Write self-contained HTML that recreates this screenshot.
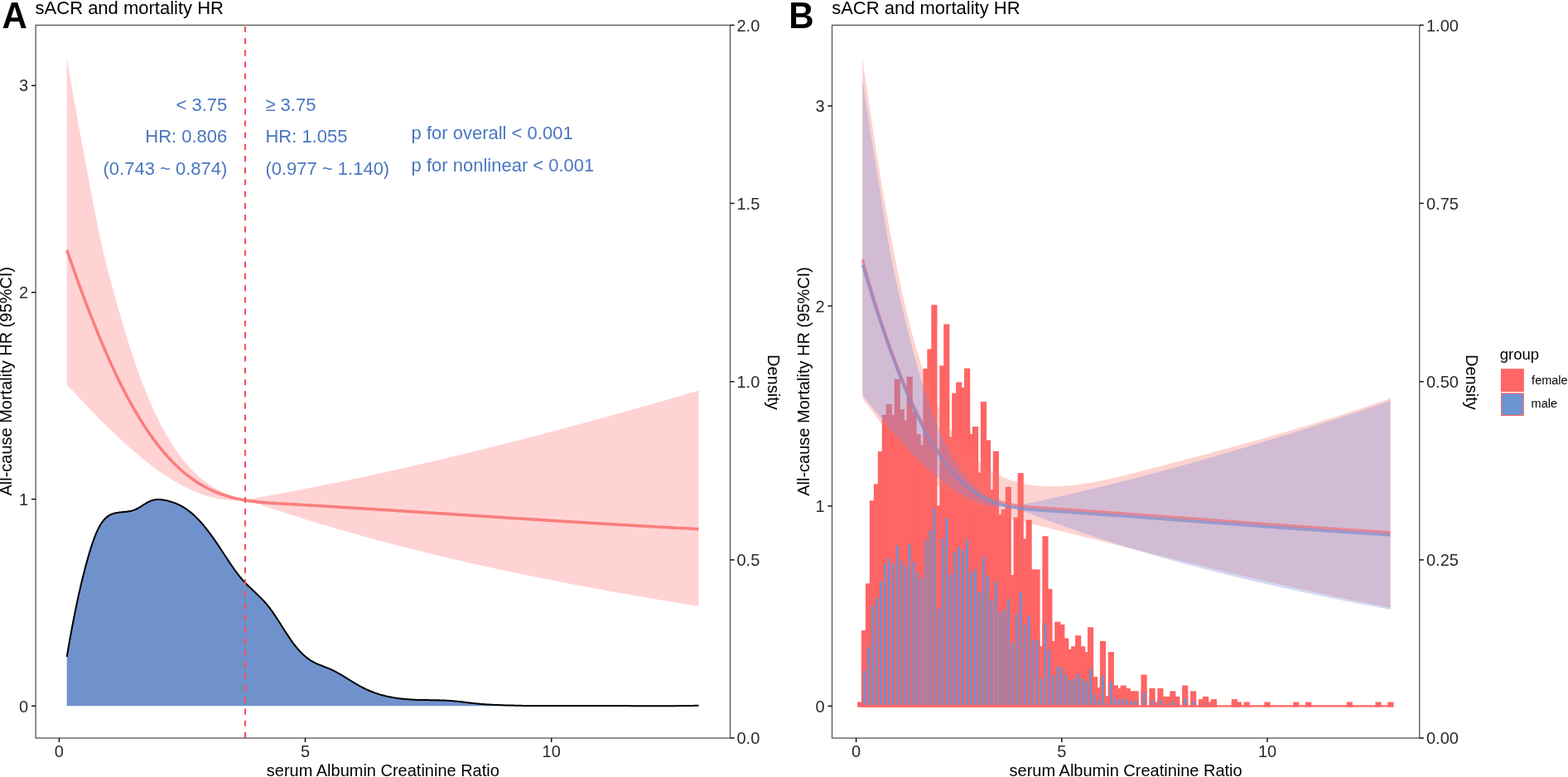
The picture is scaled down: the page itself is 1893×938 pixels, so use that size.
<!DOCTYPE html>
<html><head><meta charset="utf-8"><title>sACR and mortality HR</title>
<style>
html,body{margin:0;padding:0;background:#fff;}
body{width:1893px;height:938px;overflow:hidden;}
svg{display:block;}
text{font-family:"Liberation Sans", Arial, Helvetica, sans-serif;}
</style></head><body>
<svg width="1893" height="938" viewBox="0 0 1893 938">
<rect x="0" y="0" width="1893" height="938" fill="#ffffff"/>

<polygon points="80.7,792.8 81.7,786.9 82.7,781.1 83.7,775.4 84.7,769.8 85.7,764.4 86.7,759.0 87.7,753.7 88.7,748.5 89.7,743.4 90.7,738.5 91.7,733.6 92.7,728.8 93.7,724.1 94.7,719.5 95.7,715.0 96.7,710.6 97.7,706.3 98.7,702.1 99.7,698.0 100.7,693.9 101.7,690.0 102.7,686.1 103.7,682.3 104.7,678.7 105.7,675.1 106.7,671.6 107.7,668.1 108.7,664.8 109.7,661.6 110.7,658.5 111.7,655.5 112.7,652.6 113.7,649.9 114.7,647.3 115.7,644.8 116.7,642.4 117.7,640.2 118.7,638.1 119.7,636.2 120.7,634.4 121.7,632.7 122.7,631.2 123.7,629.8 124.7,628.5 125.7,627.3 126.7,626.2 127.7,625.3 128.7,624.4 129.7,623.6 130.7,622.9 131.7,622.3 132.7,621.7 133.7,621.2 134.7,620.8 135.7,620.4 136.7,620.1 137.7,619.8 138.7,619.5 139.7,619.3 140.7,619.1 141.7,618.9 142.7,618.8 143.7,618.6 144.7,618.5 145.7,618.4 146.7,618.3 147.7,618.2 148.7,618.1 149.7,618.0 150.7,617.9 151.7,617.8 152.7,617.7 153.7,617.6 154.7,617.4 155.7,617.3 156.7,617.1 157.7,616.9 158.7,616.7 159.7,616.4 160.7,616.1 161.7,615.8 162.7,615.4 163.7,615.0 164.7,614.5 165.7,614.0 166.7,613.5 167.7,612.9 168.7,612.3 169.7,611.7 170.7,611.0 171.7,610.4 172.7,609.8 173.7,609.1 174.7,608.5 175.7,607.9 176.7,607.3 177.7,606.7 178.7,606.1 179.7,605.6 180.7,605.2 181.7,604.8 182.7,604.4 183.7,604.1 184.7,603.8 185.7,603.6 186.7,603.4 187.7,603.2 188.7,603.1 189.7,603.0 190.7,603.0 191.7,603.0 192.7,603.0 193.7,603.1 194.7,603.2 195.7,603.3 196.7,603.4 197.7,603.6 198.7,603.7 199.7,603.9 200.7,604.1 201.7,604.4 202.7,604.6 203.7,604.9 204.7,605.2 205.7,605.4 206.7,605.7 207.7,606.1 208.7,606.4 209.7,606.7 210.7,607.1 211.7,607.5 212.7,607.9 213.7,608.3 214.7,608.8 215.7,609.2 216.7,609.7 217.7,610.2 218.7,610.7 219.7,611.3 220.7,611.8 221.7,612.4 222.7,613.0 223.7,613.7 224.7,614.4 225.7,615.0 226.7,615.8 227.7,616.5 228.7,617.3 229.7,618.1 230.7,618.9 231.7,619.7 232.7,620.6 233.7,621.5 234.7,622.4 235.7,623.4 236.7,624.4 237.7,625.4 238.7,626.4 239.7,627.4 240.7,628.5 241.7,629.6 242.7,630.7 243.7,631.9 244.7,633.0 245.7,634.2 246.7,635.4 247.7,636.6 248.7,637.8 249.7,639.1 250.7,640.4 251.7,641.7 252.7,643.0 253.7,644.3 254.7,645.7 255.7,647.1 256.7,648.5 257.7,649.9 258.7,651.3 259.7,652.7 260.7,654.2 261.7,655.6 262.7,657.1 263.7,658.6 264.7,660.1 265.7,661.6 266.7,663.2 267.7,664.7 268.7,666.2 269.7,667.7 270.7,669.3 271.7,670.8 272.7,672.3 273.7,673.8 274.7,675.4 275.7,676.9 276.7,678.4 277.7,679.9 278.7,681.3 279.7,682.8 280.7,684.2 281.7,685.7 282.7,687.1 283.7,688.5 284.7,689.8 285.7,691.2 286.7,692.5 287.7,693.8 288.7,695.1 289.7,696.3 290.7,697.5 291.7,698.7 292.7,699.8 293.7,701.0 294.7,702.0 295.7,703.1 296.7,704.2 297.7,705.2 298.7,706.2 299.7,707.2 300.7,708.2 301.7,709.1 302.7,710.1 303.7,711.0 304.7,712.0 305.7,712.9 306.7,713.9 307.7,714.8 308.7,715.7 309.7,716.7 310.7,717.6 311.7,718.6 312.7,719.6 313.7,720.6 314.7,721.6 315.7,722.6 316.7,723.6 317.7,724.7 318.7,725.7 319.7,726.8 320.7,728.0 321.7,729.1 322.7,730.3 323.7,731.6 324.7,732.8 325.7,734.1 326.7,735.5 327.7,736.8 328.7,738.2 329.7,739.7 330.7,741.1 331.7,742.6 332.7,744.1 333.7,745.6 334.7,747.1 335.7,748.7 336.7,750.2 337.7,751.8 338.7,753.4 339.7,755.0 340.7,756.5 341.7,758.1 342.7,759.7 343.7,761.3 344.7,762.8 345.7,764.4 346.7,765.9 347.7,767.4 348.7,768.9 349.7,770.4 350.7,771.9 351.7,773.3 352.7,774.7 353.7,776.1 354.7,777.4 355.7,778.7 356.7,780.0 357.7,781.2 358.7,782.4 359.7,783.6 360.7,784.7 361.7,785.8 362.7,786.9 363.7,787.9 364.7,788.9 365.7,789.9 366.7,790.8 367.7,791.7 368.7,792.5 369.7,793.4 370.7,794.1 371.7,794.9 372.7,795.6 373.7,796.3 374.7,797.0 375.7,797.6 376.7,798.2 377.7,798.8 378.7,799.4 379.7,799.9 380.7,800.4 381.7,800.9 382.7,801.3 383.7,801.8 384.7,802.2 385.7,802.6 386.7,803.0 387.7,803.4 388.7,803.8 389.7,804.2 390.7,804.6 391.7,805.0 392.7,805.4 393.7,805.7 394.7,806.1 395.7,806.5 396.7,806.9 397.7,807.4 398.7,807.8 399.7,808.2 400.7,808.7 401.7,809.1 402.7,809.6 403.7,810.1 404.7,810.6 405.7,811.2 406.7,811.7 407.7,812.3 408.7,812.8 409.7,813.4 410.7,814.0 411.7,814.5 412.7,815.1 413.7,815.7 414.7,816.3 415.7,816.9 416.7,817.6 417.7,818.2 418.7,818.8 419.7,819.4 420.7,820.0 421.7,820.6 422.7,821.3 423.7,821.9 424.7,822.5 425.7,823.1 426.7,823.7 427.7,824.3 428.7,824.9 429.7,825.5 430.7,826.1 431.7,826.7 432.7,827.3 433.7,827.8 434.7,828.4 435.7,828.9 436.7,829.4 437.7,830.0 438.7,830.5 439.7,831.0 440.7,831.4 441.7,831.9 442.7,832.4 443.7,832.8 444.7,833.3 445.7,833.7 446.7,834.1 447.7,834.5 448.7,834.9 449.7,835.3 450.7,835.7 451.7,836.1 452.7,836.4 453.7,836.8 454.7,837.1 455.7,837.4 456.7,837.7 457.7,838.1 458.7,838.4 459.7,838.7 460.7,838.9 461.7,839.2 462.7,839.5 463.7,839.7 464.7,840.0 465.7,840.2 466.7,840.5 467.7,840.7 468.7,840.9 469.7,841.1 470.7,841.3 471.7,841.5 472.7,841.7 473.7,841.9 474.7,842.1 475.7,842.3 476.7,842.4 477.7,842.6 478.7,842.7 479.7,842.9 480.7,843.0 481.7,843.2 482.7,843.3 483.7,843.4 484.7,843.5 485.7,843.6 486.7,843.7 487.7,843.8 488.7,843.9 489.7,844.0 490.7,844.1 491.7,844.2 492.7,844.3 493.7,844.3 494.7,844.4 495.7,844.5 496.7,844.5 497.7,844.6 498.7,844.6 499.7,844.7 500.7,844.7 501.7,844.8 502.7,844.8 503.7,844.9 504.7,844.9 505.7,844.9 506.7,844.9 507.7,845.0 508.7,845.0 509.7,845.0 510.7,845.0 511.7,845.1 512.7,845.1 513.7,845.1 514.7,845.1 515.7,845.1 516.7,845.1 517.7,845.1 518.7,845.2 519.7,845.2 520.7,845.2 521.7,845.2 522.7,845.2 523.7,845.2 524.7,845.2 525.7,845.3 526.7,845.3 527.7,845.3 528.7,845.3 529.7,845.3 530.7,845.4 531.7,845.4 532.7,845.4 533.7,845.4 534.7,845.5 535.7,845.5 536.7,845.6 537.7,845.6 538.7,845.7 539.7,845.7 540.7,845.8 541.7,845.8 542.7,845.9 543.7,845.9 544.7,846.0 545.7,846.1 546.7,846.2 547.7,846.3 548.7,846.4 549.7,846.5 550.7,846.6 551.7,846.7 552.7,846.8 553.7,846.9 554.7,847.0 555.7,847.1 556.7,847.2 557.7,847.3 558.7,847.5 559.7,847.6 560.7,847.7 561.7,847.8 562.7,848.0 563.7,848.1 564.7,848.2 565.7,848.3 566.7,848.5 567.7,848.6 568.7,848.7 569.7,848.8 570.7,848.9 571.7,849.0 572.7,849.1 573.7,849.2 574.7,849.3 575.7,849.4 576.7,849.5 577.7,849.6 578.7,849.7 579.7,849.8 580.7,849.9 581.7,850.0 582.7,850.0 583.7,850.1 584.7,850.2 585.7,850.3 586.7,850.3 587.7,850.4 588.7,850.4 589.7,850.5 590.7,850.6 591.7,850.6 592.7,850.7 593.7,850.7 594.7,850.8 595.7,850.8 596.7,850.9 597.7,850.9 598.7,851.0 599.7,851.0 600.7,851.0 601.7,851.1 602.7,851.1 603.7,851.2 604.7,851.2 605.7,851.2 606.7,851.3 607.7,851.3 608.7,851.3 609.7,851.4 610.7,851.4 611.7,851.4 612.7,851.5 613.7,851.5 614.7,851.5 615.7,851.5 616.7,851.6 617.7,851.6 618.7,851.6 619.7,851.6 620.7,851.7 621.7,851.7 622.7,851.7 623.7,851.7 624.7,851.7 625.7,851.8 626.7,851.8 627.7,851.8 628.7,851.8 629.7,851.8 630.7,851.9 631.7,851.9 632.7,851.9 633.7,851.9 634.7,851.9 635.7,851.9 636.7,851.9 637.7,851.9 638.7,852.0 639.7,852.0 640.7,852.0 641.7,852.0 642.7,852.0 643.7,852.0 644.7,852.0 645.7,852.0 646.7,852.0 647.7,852.0 648.7,852.0 649.7,852.0 650.7,852.0 651.7,852.0 652.7,852.0 653.7,852.0 654.7,852.1 655.7,852.1 656.7,852.1 657.7,852.1 658.7,852.1 659.7,852.1 660.7,852.1 661.7,852.1 662.7,852.1 663.7,852.1 664.7,852.1 665.7,852.1 666.7,852.1 667.7,852.1 668.7,852.1 669.7,852.1 670.7,852.1 671.7,852.0 672.7,852.0 673.7,852.0 674.7,852.0 675.7,852.0 676.7,852.0 677.7,852.0 678.7,852.0 679.7,852.0 680.7,852.0 681.7,852.0 682.7,852.0 683.7,852.0 684.7,852.0 685.7,852.0 686.7,852.0 687.7,852.0 688.7,852.0 689.7,852.0 690.7,852.0 691.7,852.0 692.7,852.0 693.7,852.0 694.7,852.0 695.7,852.0 696.7,852.0 697.7,852.0 698.7,852.0 699.7,852.0 700.7,852.0 701.7,852.0 702.7,851.9 703.7,851.9 704.7,851.9 705.7,851.9 706.7,851.9 707.7,851.9 708.7,851.9 709.7,851.9 710.7,851.9 711.7,851.9 712.7,851.9 713.7,851.9 714.7,851.9 715.7,851.9 716.7,851.9 717.7,851.9 718.7,851.9 719.7,851.9 720.7,852.0 721.7,852.0 722.7,852.0 723.7,852.0 724.7,852.0 725.7,852.0 726.7,852.0 727.7,852.0 728.7,852.0 729.7,852.0 730.7,852.0 731.7,852.0 732.7,852.0 733.7,852.0 734.7,852.0 735.7,852.0 736.7,852.0 737.7,852.0 738.7,852.0 739.7,852.0 740.7,852.0 741.7,852.0 742.7,852.0 743.7,852.0 744.7,852.1 745.7,852.1 746.7,852.1 747.7,852.1 748.7,852.1 749.7,852.1 750.7,852.1 751.7,852.1 752.7,852.1 753.7,852.1 754.7,852.1 755.7,852.1 756.7,852.1 757.7,852.1 758.7,852.1 759.7,852.1 760.7,852.1 761.7,852.2 762.7,852.2 763.7,852.2 764.7,852.2 765.7,852.2 766.7,852.2 767.7,852.2 768.7,852.2 769.7,852.2 770.7,852.2 771.7,852.2 772.7,852.2 773.7,852.2 774.7,852.2 775.7,852.2 776.7,852.2 777.7,852.2 778.7,852.2 779.7,852.2 780.7,852.2 781.7,852.2 782.7,852.2 783.7,852.2 784.7,852.2 785.7,852.2 786.7,852.2 787.7,852.2 788.7,852.3 789.7,852.3 790.7,852.3 791.7,852.3 792.7,852.3 793.7,852.3 794.7,852.3 795.7,852.2 796.7,852.2 797.7,852.2 798.7,852.2 799.7,852.2 800.7,852.2 801.7,852.2 802.7,852.2 803.7,852.2 804.7,852.2 805.7,852.2 806.7,852.2 807.7,852.2 808.7,852.2 809.7,852.2 810.7,852.2 811.7,852.2 812.7,852.2 813.7,852.2 814.7,852.2 815.7,852.2 816.7,852.1 817.7,852.1 818.7,852.1 819.7,852.1 820.7,852.1 821.7,852.1 822.7,852.1 823.7,852.1 824.7,852.1 825.7,852.0 826.7,852.0 827.7,852.0 828.7,852.0 829.7,852.0 830.7,852.0 831.7,851.9 832.7,851.9 833.7,851.9 834.7,851.9 835.7,851.9 836.7,851.9 837.7,851.8 838.7,851.8 839.7,851.8 840.7,851.8 841.7,851.7 842.7,851.7 843.6,851.7 843.6,852.3 80.7,852.3" fill="#7092cc"/>
<polyline points="80.7,792.8 81.7,786.9 82.7,781.1 83.7,775.4 84.7,769.8 85.7,764.4 86.7,759.0 87.7,753.7 88.7,748.5 89.7,743.4 90.7,738.5 91.7,733.6 92.7,728.8 93.7,724.1 94.7,719.5 95.7,715.0 96.7,710.6 97.7,706.3 98.7,702.1 99.7,698.0 100.7,693.9 101.7,690.0 102.7,686.1 103.7,682.3 104.7,678.7 105.7,675.1 106.7,671.6 107.7,668.1 108.7,664.8 109.7,661.6 110.7,658.5 111.7,655.5 112.7,652.6 113.7,649.9 114.7,647.3 115.7,644.8 116.7,642.4 117.7,640.2 118.7,638.1 119.7,636.2 120.7,634.4 121.7,632.7 122.7,631.2 123.7,629.8 124.7,628.5 125.7,627.3 126.7,626.2 127.7,625.3 128.7,624.4 129.7,623.6 130.7,622.9 131.7,622.3 132.7,621.7 133.7,621.2 134.7,620.8 135.7,620.4 136.7,620.1 137.7,619.8 138.7,619.5 139.7,619.3 140.7,619.1 141.7,618.9 142.7,618.8 143.7,618.6 144.7,618.5 145.7,618.4 146.7,618.3 147.7,618.2 148.7,618.1 149.7,618.0 150.7,617.9 151.7,617.8 152.7,617.7 153.7,617.6 154.7,617.4 155.7,617.3 156.7,617.1 157.7,616.9 158.7,616.7 159.7,616.4 160.7,616.1 161.7,615.8 162.7,615.4 163.7,615.0 164.7,614.5 165.7,614.0 166.7,613.5 167.7,612.9 168.7,612.3 169.7,611.7 170.7,611.0 171.7,610.4 172.7,609.8 173.7,609.1 174.7,608.5 175.7,607.9 176.7,607.3 177.7,606.7 178.7,606.1 179.7,605.6 180.7,605.2 181.7,604.8 182.7,604.4 183.7,604.1 184.7,603.8 185.7,603.6 186.7,603.4 187.7,603.2 188.7,603.1 189.7,603.0 190.7,603.0 191.7,603.0 192.7,603.0 193.7,603.1 194.7,603.2 195.7,603.3 196.7,603.4 197.7,603.6 198.7,603.7 199.7,603.9 200.7,604.1 201.7,604.4 202.7,604.6 203.7,604.9 204.7,605.2 205.7,605.4 206.7,605.7 207.7,606.1 208.7,606.4 209.7,606.7 210.7,607.1 211.7,607.5 212.7,607.9 213.7,608.3 214.7,608.8 215.7,609.2 216.7,609.7 217.7,610.2 218.7,610.7 219.7,611.3 220.7,611.8 221.7,612.4 222.7,613.0 223.7,613.7 224.7,614.4 225.7,615.0 226.7,615.8 227.7,616.5 228.7,617.3 229.7,618.1 230.7,618.9 231.7,619.7 232.7,620.6 233.7,621.5 234.7,622.4 235.7,623.4 236.7,624.4 237.7,625.4 238.7,626.4 239.7,627.4 240.7,628.5 241.7,629.6 242.7,630.7 243.7,631.9 244.7,633.0 245.7,634.2 246.7,635.4 247.7,636.6 248.7,637.8 249.7,639.1 250.7,640.4 251.7,641.7 252.7,643.0 253.7,644.3 254.7,645.7 255.7,647.1 256.7,648.5 257.7,649.9 258.7,651.3 259.7,652.7 260.7,654.2 261.7,655.6 262.7,657.1 263.7,658.6 264.7,660.1 265.7,661.6 266.7,663.2 267.7,664.7 268.7,666.2 269.7,667.7 270.7,669.3 271.7,670.8 272.7,672.3 273.7,673.8 274.7,675.4 275.7,676.9 276.7,678.4 277.7,679.9 278.7,681.3 279.7,682.8 280.7,684.2 281.7,685.7 282.7,687.1 283.7,688.5 284.7,689.8 285.7,691.2 286.7,692.5 287.7,693.8 288.7,695.1 289.7,696.3 290.7,697.5 291.7,698.7 292.7,699.8 293.7,701.0 294.7,702.0 295.7,703.1 296.7,704.2 297.7,705.2 298.7,706.2 299.7,707.2 300.7,708.2 301.7,709.1 302.7,710.1 303.7,711.0 304.7,712.0 305.7,712.9 306.7,713.9 307.7,714.8 308.7,715.7 309.7,716.7 310.7,717.6 311.7,718.6 312.7,719.6 313.7,720.6 314.7,721.6 315.7,722.6 316.7,723.6 317.7,724.7 318.7,725.7 319.7,726.8 320.7,728.0 321.7,729.1 322.7,730.3 323.7,731.6 324.7,732.8 325.7,734.1 326.7,735.5 327.7,736.8 328.7,738.2 329.7,739.7 330.7,741.1 331.7,742.6 332.7,744.1 333.7,745.6 334.7,747.1 335.7,748.7 336.7,750.2 337.7,751.8 338.7,753.4 339.7,755.0 340.7,756.5 341.7,758.1 342.7,759.7 343.7,761.3 344.7,762.8 345.7,764.4 346.7,765.9 347.7,767.4 348.7,768.9 349.7,770.4 350.7,771.9 351.7,773.3 352.7,774.7 353.7,776.1 354.7,777.4 355.7,778.7 356.7,780.0 357.7,781.2 358.7,782.4 359.7,783.6 360.7,784.7 361.7,785.8 362.7,786.9 363.7,787.9 364.7,788.9 365.7,789.9 366.7,790.8 367.7,791.7 368.7,792.5 369.7,793.4 370.7,794.1 371.7,794.9 372.7,795.6 373.7,796.3 374.7,797.0 375.7,797.6 376.7,798.2 377.7,798.8 378.7,799.4 379.7,799.9 380.7,800.4 381.7,800.9 382.7,801.3 383.7,801.8 384.7,802.2 385.7,802.6 386.7,803.0 387.7,803.4 388.7,803.8 389.7,804.2 390.7,804.6 391.7,805.0 392.7,805.4 393.7,805.7 394.7,806.1 395.7,806.5 396.7,806.9 397.7,807.4 398.7,807.8 399.7,808.2 400.7,808.7 401.7,809.1 402.7,809.6 403.7,810.1 404.7,810.6 405.7,811.2 406.7,811.7 407.7,812.3 408.7,812.8 409.7,813.4 410.7,814.0 411.7,814.5 412.7,815.1 413.7,815.7 414.7,816.3 415.7,816.9 416.7,817.6 417.7,818.2 418.7,818.8 419.7,819.4 420.7,820.0 421.7,820.6 422.7,821.3 423.7,821.9 424.7,822.5 425.7,823.1 426.7,823.7 427.7,824.3 428.7,824.9 429.7,825.5 430.7,826.1 431.7,826.7 432.7,827.3 433.7,827.8 434.7,828.4 435.7,828.9 436.7,829.4 437.7,830.0 438.7,830.5 439.7,831.0 440.7,831.4 441.7,831.9 442.7,832.4 443.7,832.8 444.7,833.3 445.7,833.7 446.7,834.1 447.7,834.5 448.7,834.9 449.7,835.3 450.7,835.7 451.7,836.1 452.7,836.4 453.7,836.8 454.7,837.1 455.7,837.4 456.7,837.7 457.7,838.1 458.7,838.4 459.7,838.7 460.7,838.9 461.7,839.2 462.7,839.5 463.7,839.7 464.7,840.0 465.7,840.2 466.7,840.5 467.7,840.7 468.7,840.9 469.7,841.1 470.7,841.3 471.7,841.5 472.7,841.7 473.7,841.9 474.7,842.1 475.7,842.3 476.7,842.4 477.7,842.6 478.7,842.7 479.7,842.9 480.7,843.0 481.7,843.2 482.7,843.3 483.7,843.4 484.7,843.5 485.7,843.6 486.7,843.7 487.7,843.8 488.7,843.9 489.7,844.0 490.7,844.1 491.7,844.2 492.7,844.3 493.7,844.3 494.7,844.4 495.7,844.5 496.7,844.5 497.7,844.6 498.7,844.6 499.7,844.7 500.7,844.7 501.7,844.8 502.7,844.8 503.7,844.9 504.7,844.9 505.7,844.9 506.7,844.9 507.7,845.0 508.7,845.0 509.7,845.0 510.7,845.0 511.7,845.1 512.7,845.1 513.7,845.1 514.7,845.1 515.7,845.1 516.7,845.1 517.7,845.1 518.7,845.2 519.7,845.2 520.7,845.2 521.7,845.2 522.7,845.2 523.7,845.2 524.7,845.2 525.7,845.3 526.7,845.3 527.7,845.3 528.7,845.3 529.7,845.3 530.7,845.4 531.7,845.4 532.7,845.4 533.7,845.4 534.7,845.5 535.7,845.5 536.7,845.6 537.7,845.6 538.7,845.7 539.7,845.7 540.7,845.8 541.7,845.8 542.7,845.9 543.7,845.9 544.7,846.0 545.7,846.1 546.7,846.2 547.7,846.3 548.7,846.4 549.7,846.5 550.7,846.6 551.7,846.7 552.7,846.8 553.7,846.9 554.7,847.0 555.7,847.1 556.7,847.2 557.7,847.3 558.7,847.5 559.7,847.6 560.7,847.7 561.7,847.8 562.7,848.0 563.7,848.1 564.7,848.2 565.7,848.3 566.7,848.5 567.7,848.6 568.7,848.7 569.7,848.8 570.7,848.9 571.7,849.0 572.7,849.1 573.7,849.2 574.7,849.3 575.7,849.4 576.7,849.5 577.7,849.6 578.7,849.7 579.7,849.8 580.7,849.9 581.7,850.0 582.7,850.0 583.7,850.1 584.7,850.2 585.7,850.3 586.7,850.3 587.7,850.4 588.7,850.4 589.7,850.5 590.7,850.6 591.7,850.6 592.7,850.7 593.7,850.7 594.7,850.8 595.7,850.8 596.7,850.9 597.7,850.9 598.7,851.0 599.7,851.0 600.7,851.0 601.7,851.1 602.7,851.1 603.7,851.2 604.7,851.2 605.7,851.2 606.7,851.3 607.7,851.3 608.7,851.3 609.7,851.4 610.7,851.4 611.7,851.4 612.7,851.5 613.7,851.5 614.7,851.5 615.7,851.5 616.7,851.6 617.7,851.6 618.7,851.6 619.7,851.6 620.7,851.7 621.7,851.7 622.7,851.7 623.7,851.7 624.7,851.7 625.7,851.8 626.7,851.8 627.7,851.8 628.7,851.8 629.7,851.8 630.7,851.9 631.7,851.9 632.7,851.9 633.7,851.9 634.7,851.9 635.7,851.9 636.7,851.9 637.7,851.9 638.7,852.0 639.7,852.0 640.7,852.0 641.7,852.0 642.7,852.0 643.7,852.0 644.7,852.0 645.7,852.0 646.7,852.0 647.7,852.0 648.7,852.0 649.7,852.0 650.7,852.0 651.7,852.0 652.7,852.0 653.7,852.0 654.7,852.1 655.7,852.1 656.7,852.1 657.7,852.1 658.7,852.1 659.7,852.1 660.7,852.1 661.7,852.1 662.7,852.1 663.7,852.1 664.7,852.1 665.7,852.1 666.7,852.1 667.7,852.1 668.7,852.1 669.7,852.1 670.7,852.1 671.7,852.0 672.7,852.0 673.7,852.0 674.7,852.0 675.7,852.0 676.7,852.0 677.7,852.0 678.7,852.0 679.7,852.0 680.7,852.0 681.7,852.0 682.7,852.0 683.7,852.0 684.7,852.0 685.7,852.0 686.7,852.0 687.7,852.0 688.7,852.0 689.7,852.0 690.7,852.0 691.7,852.0 692.7,852.0 693.7,852.0 694.7,852.0 695.7,852.0 696.7,852.0 697.7,852.0 698.7,852.0 699.7,852.0 700.7,852.0 701.7,852.0 702.7,851.9 703.7,851.9 704.7,851.9 705.7,851.9 706.7,851.9 707.7,851.9 708.7,851.9 709.7,851.9 710.7,851.9 711.7,851.9 712.7,851.9 713.7,851.9 714.7,851.9 715.7,851.9 716.7,851.9 717.7,851.9 718.7,851.9 719.7,851.9 720.7,852.0 721.7,852.0 722.7,852.0 723.7,852.0 724.7,852.0 725.7,852.0 726.7,852.0 727.7,852.0 728.7,852.0 729.7,852.0 730.7,852.0 731.7,852.0 732.7,852.0 733.7,852.0 734.7,852.0 735.7,852.0 736.7,852.0 737.7,852.0 738.7,852.0 739.7,852.0 740.7,852.0 741.7,852.0 742.7,852.0 743.7,852.0 744.7,852.1 745.7,852.1 746.7,852.1 747.7,852.1 748.7,852.1 749.7,852.1 750.7,852.1 751.7,852.1 752.7,852.1 753.7,852.1 754.7,852.1 755.7,852.1 756.7,852.1 757.7,852.1 758.7,852.1 759.7,852.1 760.7,852.1 761.7,852.2 762.7,852.2 763.7,852.2 764.7,852.2 765.7,852.2 766.7,852.2 767.7,852.2 768.7,852.2 769.7,852.2 770.7,852.2 771.7,852.2 772.7,852.2 773.7,852.2 774.7,852.2 775.7,852.2 776.7,852.2 777.7,852.2 778.7,852.2 779.7,852.2 780.7,852.2 781.7,852.2 782.7,852.2 783.7,852.2 784.7,852.2 785.7,852.2 786.7,852.2 787.7,852.2 788.7,852.3 789.7,852.3 790.7,852.3 791.7,852.3 792.7,852.3 793.7,852.3 794.7,852.3 795.7,852.2 796.7,852.2 797.7,852.2 798.7,852.2 799.7,852.2 800.7,852.2 801.7,852.2 802.7,852.2 803.7,852.2 804.7,852.2 805.7,852.2 806.7,852.2 807.7,852.2 808.7,852.2 809.7,852.2 810.7,852.2 811.7,852.2 812.7,852.2 813.7,852.2 814.7,852.2 815.7,852.2 816.7,852.1 817.7,852.1 818.7,852.1 819.7,852.1 820.7,852.1 821.7,852.1 822.7,852.1 823.7,852.1 824.7,852.1 825.7,852.0 826.7,852.0 827.7,852.0 828.7,852.0 829.7,852.0 830.7,852.0 831.7,851.9 832.7,851.9 833.7,851.9 834.7,851.9 835.7,851.9 836.7,851.9 837.7,851.8 838.7,851.8 839.7,851.8 840.7,851.8 841.7,851.7 842.7,851.7 843.6,851.7" fill="none" stroke="#000" stroke-width="2" stroke-linejoin="round"/>
<polygon points="80.6,70.3 81.6,76.2 82.6,82.0 83.6,87.7 84.6,93.5 85.6,99.2 86.6,104.9 87.6,110.5 88.6,116.1 89.6,121.7 90.6,127.3 91.6,132.8 92.6,138.3 93.6,143.8 94.6,149.3 95.6,154.8 96.6,160.2 97.6,165.6 98.6,171.0 99.6,176.4 100.6,181.8 101.6,187.1 102.6,192.5 103.6,197.8 104.6,203.2 105.6,208.5 106.6,213.8 107.6,219.2 108.6,224.5 109.6,229.8 110.6,235.1 111.6,240.4 112.6,245.6 113.6,250.8 114.6,256.0 115.6,261.1 116.6,266.1 117.6,271.1 118.6,276.0 119.6,280.8 120.6,285.6 121.6,290.2 122.6,294.8 123.6,299.2 124.6,303.5 125.6,307.8 126.6,311.9 127.6,316.0 128.6,319.9 129.6,323.9 130.6,327.7 131.6,331.5 132.6,335.3 133.6,339.1 134.6,342.8 135.6,346.6 136.6,350.3 137.6,353.9 138.6,357.6 139.6,361.2 140.6,364.8 141.6,368.3 142.6,371.9 143.6,375.4 144.6,378.8 145.6,382.3 146.6,385.7 147.6,389.1 148.6,392.5 149.6,395.8 150.6,399.1 151.6,402.4 152.6,405.7 153.6,408.9 154.6,412.1 155.6,415.2 156.6,418.4 157.6,421.5 158.6,424.5 159.6,427.6 160.6,430.6 161.6,433.6 162.6,436.5 163.6,439.4 164.6,442.3 165.6,445.2 166.6,448.0 167.6,450.8 168.6,453.5 169.6,456.2 170.6,458.9 171.6,461.6 172.6,464.2 173.6,466.8 174.6,469.3 175.6,471.8 176.6,474.3 177.6,476.8 178.6,479.2 179.6,481.6 180.6,483.9 181.6,486.2 182.6,488.5 183.6,490.8 184.6,493.0 185.6,495.2 186.6,497.4 187.6,499.5 188.6,501.6 189.6,503.7 190.6,505.8 191.6,507.8 192.6,509.8 193.6,511.7 194.6,513.7 195.6,515.6 196.6,517.4 197.6,519.3 198.6,521.1 199.6,522.9 200.6,524.7 201.6,526.4 202.6,528.1 203.6,529.8 204.6,531.5 205.6,533.1 206.6,534.7 207.6,536.3 208.6,537.9 209.6,539.4 210.6,540.9 211.6,542.4 212.6,543.8 213.6,545.3 214.6,546.7 215.6,548.1 216.6,549.4 217.6,550.8 218.6,552.1 219.6,553.4 220.6,554.7 221.6,555.9 222.6,557.1 223.6,558.4 224.6,559.5 225.6,560.7 226.6,561.8 227.6,563.0 228.6,564.1 229.6,565.1 230.6,566.2 231.6,567.2 232.6,568.3 233.6,569.3 234.6,570.2 235.6,571.2 236.6,572.2 237.6,573.1 238.6,574.0 239.6,574.9 240.6,575.7 241.6,576.6 242.6,577.4 243.6,578.3 244.6,579.1 245.6,579.8 246.6,580.6 247.6,581.4 248.6,582.1 249.6,582.8 250.6,583.5 251.6,584.2 252.6,584.9 253.6,585.6 254.6,586.2 255.6,586.8 256.6,587.4 257.6,588.0 258.6,588.6 259.6,589.2 260.6,589.8 261.6,590.3 262.6,590.9 263.6,591.4 264.6,591.9 265.6,592.4 266.6,592.9 267.6,593.4 268.6,593.8 269.6,594.3 270.6,594.7 271.6,595.2 272.6,595.6 273.6,596.0 274.6,596.4 275.6,596.8 276.6,597.2 277.6,597.5 278.6,597.9 279.6,598.3 280.6,598.6 281.6,599.0 282.6,599.3 283.6,599.6 284.6,599.9 285.6,600.2 286.6,600.5 287.6,600.8 288.6,601.1 289.6,601.4 290.6,601.7 291.6,601.9 292.6,602.2 293.6,602.5 294.6,602.7 295.6,603.0 296.6,603.2 297.0,603.3 298.0,603.1 299.0,603.0 300.0,602.8 301.0,602.6 302.0,602.4 303.0,602.3 304.0,602.1 305.0,601.9 306.0,601.7 307.0,601.6 308.0,601.4 309.0,601.2 310.0,601.0 311.0,600.8 312.0,600.7 313.0,600.5 314.0,600.3 315.0,600.1 316.0,600.0 317.0,599.8 318.0,599.6 319.0,599.4 320.0,599.2 321.0,599.0 322.0,598.9 323.0,598.7 324.0,598.5 325.0,598.3 326.0,598.1 327.0,597.9 328.0,597.8 329.0,597.6 330.0,597.4 331.0,597.2 332.0,597.0 333.0,596.8 334.0,596.7 335.0,596.5 336.0,596.3 337.0,596.1 338.0,595.9 339.0,595.7 340.0,595.5 341.0,595.4 342.0,595.2 343.0,595.0 344.0,594.8 345.0,594.6 346.0,594.4 347.0,594.2 348.0,594.0 349.0,593.8 350.0,593.7 351.0,593.5 352.0,593.3 353.0,593.1 354.0,592.9 355.0,592.7 356.0,592.5 357.0,592.3 358.0,592.1 359.0,591.9 360.0,591.7 361.0,591.5 362.0,591.3 363.0,591.2 364.0,591.0 365.0,590.8 366.0,590.6 367.0,590.4 368.0,590.2 369.0,590.0 370.0,589.8 371.0,589.6 372.0,589.4 373.0,589.2 374.0,589.0 375.0,588.8 376.0,588.6 377.0,588.4 378.0,588.2 379.0,588.0 380.0,587.8 381.0,587.6 382.0,587.4 383.0,587.2 384.0,587.0 385.0,586.8 386.0,586.6 387.0,586.4 388.0,586.2 389.0,586.0 390.0,585.8 391.0,585.6 392.0,585.4 393.0,585.2 394.0,585.0 395.0,584.8 396.0,584.6 397.0,584.4 398.0,584.2 399.0,584.0 400.0,583.8 401.0,583.6 402.0,583.4 403.0,583.2 404.0,583.0 405.0,582.8 406.0,582.6 407.0,582.4 408.0,582.2 409.0,582.0 410.0,581.7 411.0,581.5 412.0,581.3 413.0,581.1 414.0,580.9 415.0,580.7 416.0,580.5 417.0,580.3 418.0,580.1 419.0,579.9 420.0,579.7 421.0,579.5 422.0,579.3 423.0,579.0 424.0,578.8 425.0,578.6 426.0,578.4 427.0,578.2 428.0,578.0 429.0,577.8 430.0,577.6 431.0,577.4 432.0,577.1 433.0,576.9 434.0,576.7 435.0,576.5 436.0,576.3 437.0,576.1 438.0,575.9 439.0,575.7 440.0,575.4 441.0,575.2 442.0,575.0 443.0,574.8 444.0,574.6 445.0,574.4 446.0,574.1 447.0,573.9 448.0,573.7 449.0,573.5 450.0,573.3 451.0,573.1 452.0,572.8 453.0,572.6 454.0,572.4 455.0,572.2 456.0,572.0 457.0,571.8 458.0,571.5 459.0,571.3 460.0,571.1 461.0,570.9 462.0,570.7 463.0,570.4 464.0,570.2 465.0,570.0 466.0,569.8 467.0,569.6 468.0,569.3 469.0,569.1 470.0,568.9 471.0,568.7 472.0,568.5 473.0,568.2 474.0,568.0 475.0,567.8 476.0,567.6 477.0,567.3 478.0,567.1 479.0,566.9 480.0,566.7 481.0,566.4 482.0,566.2 483.0,566.0 484.0,565.8 485.0,565.5 486.0,565.3 487.0,565.1 488.0,564.9 489.0,564.6 490.0,564.4 491.0,564.2 492.0,564.0 493.0,563.7 494.0,563.5 495.0,563.3 496.0,563.0 497.0,562.8 498.0,562.6 499.0,562.4 500.0,562.1 501.0,561.9 502.0,561.7 503.0,561.4 504.0,561.2 505.0,561.0 506.0,560.8 507.0,560.5 508.0,560.3 509.0,560.1 510.0,559.8 511.0,559.6 512.0,559.4 513.0,559.1 514.0,558.9 515.0,558.7 516.0,558.4 517.0,558.2 518.0,558.0 519.0,557.7 520.0,557.5 521.0,557.3 522.0,557.0 523.0,556.8 524.0,556.6 525.0,556.3 526.0,556.1 527.0,555.9 528.0,555.6 529.0,555.4 530.0,555.2 531.0,554.9 532.0,554.7 533.0,554.4 534.0,554.2 535.0,554.0 536.0,553.7 537.0,553.5 538.0,553.3 539.0,553.0 540.0,552.8 541.0,552.5 542.0,552.3 543.0,552.1 544.0,551.8 545.0,551.6 546.0,551.3 547.0,551.1 548.0,550.9 549.0,550.6 550.0,550.4 551.0,550.1 552.0,549.9 553.0,549.7 554.0,549.4 555.0,549.2 556.0,548.9 557.0,548.7 558.0,548.5 559.0,548.2 560.0,548.0 561.0,547.7 562.0,547.5 563.0,547.2 564.0,547.0 565.0,546.8 566.0,546.5 567.0,546.3 568.0,546.0 569.0,545.8 570.0,545.5 571.0,545.3 572.0,545.0 573.0,544.8 574.0,544.5 575.0,544.3 576.0,544.1 577.0,543.8 578.0,543.6 579.0,543.3 580.0,543.1 581.0,542.8 582.0,542.6 583.0,542.3 584.0,542.1 585.0,541.8 586.0,541.6 587.0,541.3 588.0,541.1 589.0,540.8 590.0,540.6 591.0,540.3 592.0,540.1 593.0,539.8 594.0,539.6 595.0,539.3 596.0,539.1 597.0,538.8 598.0,538.6 599.0,538.3 600.0,538.1 601.0,537.8 602.0,537.6 603.0,537.3 604.0,537.1 605.0,536.8 606.0,536.6 607.0,536.3 608.0,536.1 609.0,535.8 610.0,535.6 611.0,535.3 612.0,535.1 613.0,534.8 614.0,534.5 615.0,534.3 616.0,534.0 617.0,533.8 618.0,533.5 619.0,533.3 620.0,533.0 621.0,532.8 622.0,532.5 623.0,532.2 624.0,532.0 625.0,531.7 626.0,531.5 627.0,531.2 628.0,531.0 629.0,530.7 630.0,530.5 631.0,530.2 632.0,529.9 633.0,529.7 634.0,529.4 635.0,529.2 636.0,528.9 637.0,528.6 638.0,528.4 639.0,528.1 640.0,527.9 641.0,527.6 642.0,527.3 643.0,527.1 644.0,526.8 645.0,526.6 646.0,526.3 647.0,526.0 648.0,525.8 649.0,525.5 650.0,525.3 651.0,525.0 652.0,524.7 653.0,524.5 654.0,524.2 655.0,524.0 656.0,523.7 657.0,523.4 658.0,523.2 659.0,522.9 660.0,522.6 661.0,522.4 662.0,522.1 663.0,521.8 664.0,521.6 665.0,521.3 666.0,521.1 667.0,520.8 668.0,520.5 669.0,520.3 670.0,520.0 671.0,519.7 672.0,519.5 673.0,519.2 674.0,518.9 675.0,518.7 676.0,518.4 677.0,518.1 678.0,517.9 679.0,517.6 680.0,517.3 681.0,517.1 682.0,516.8 683.0,516.5 684.0,516.3 685.0,516.0 686.0,515.7 687.0,515.5 688.0,515.2 689.0,514.9 690.0,514.6 691.0,514.4 692.0,514.1 693.0,513.8 694.0,513.6 695.0,513.3 696.0,513.0 697.0,512.8 698.0,512.5 699.0,512.2 700.0,511.9 701.0,511.7 702.0,511.4 703.0,511.1 704.0,510.9 705.0,510.6 706.0,510.3 707.0,510.0 708.0,509.8 709.0,509.5 710.0,509.2 711.0,509.0 712.0,508.7 713.0,508.4 714.0,508.1 715.0,507.9 716.0,507.6 717.0,507.3 718.0,507.0 719.0,506.8 720.0,506.5 721.0,506.2 722.0,505.9 723.0,505.7 724.0,505.4 725.0,505.1 726.0,504.8 727.0,504.6 728.0,504.3 729.0,504.0 730.0,503.7 731.0,503.5 732.0,503.2 733.0,502.9 734.0,502.6 735.0,502.4 736.0,502.1 737.0,501.8 738.0,501.5 739.0,501.3 740.0,501.0 741.0,500.7 742.0,500.4 743.0,500.1 744.0,499.9 745.0,499.6 746.0,499.3 747.0,499.0 748.0,498.7 749.0,498.5 750.0,498.2 751.0,497.9 752.0,497.6 753.0,497.4 754.0,497.1 755.0,496.8 756.0,496.5 757.0,496.2 758.0,495.9 759.0,495.7 760.0,495.4 761.0,495.1 762.0,494.8 763.0,494.5 764.0,494.3 765.0,494.0 766.0,493.7 767.0,493.4 768.0,493.1 769.0,492.9 770.0,492.6 771.0,492.3 772.0,492.0 773.0,491.7 774.0,491.4 775.0,491.2 776.0,490.9 777.0,490.6 778.0,490.3 779.0,490.0 780.0,489.7 781.0,489.4 782.0,489.2 783.0,488.9 784.0,488.6 785.0,488.3 786.0,488.0 787.0,487.7 788.0,487.5 789.0,487.2 790.0,486.9 791.0,486.6 792.0,486.3 793.0,486.0 794.0,485.7 795.0,485.5 796.0,485.2 797.0,484.9 798.0,484.6 799.0,484.3 800.0,484.0 801.0,483.7 802.0,483.4 803.0,483.2 804.0,482.9 805.0,482.6 806.0,482.3 807.0,482.0 808.0,481.7 809.0,481.4 810.0,481.1 811.0,480.8 812.0,480.6 813.0,480.3 814.0,480.0 815.0,479.7 816.0,479.4 817.0,479.1 818.0,478.8 819.0,478.5 820.0,478.2 821.0,477.9 822.0,477.7 823.0,477.4 824.0,477.1 825.0,476.8 826.0,476.5 827.0,476.2 828.0,475.9 829.0,475.6 830.0,475.3 831.0,475.0 832.0,474.7 833.0,474.5 834.0,474.2 835.0,473.9 836.0,473.6 837.0,473.3 838.0,473.0 839.0,472.7 840.0,472.4 841.0,472.1 842.0,471.8 843.0,471.5 843.4,471.4 843.4,732.0 843.0,731.9 842.0,731.8 841.0,731.6 840.0,731.4 839.0,731.3 838.0,731.1 837.0,730.9 836.0,730.8 835.0,730.6 834.0,730.5 833.0,730.3 832.0,730.1 831.0,730.0 830.0,729.8 829.0,729.6 828.0,729.5 827.0,729.3 826.0,729.1 825.0,729.0 824.0,728.8 823.0,728.6 822.0,728.5 821.0,728.3 820.0,728.1 819.0,728.0 818.0,727.8 817.0,727.6 816.0,727.5 815.0,727.3 814.0,727.1 813.0,727.0 812.0,726.8 811.0,726.6 810.0,726.5 809.0,726.3 808.0,726.1 807.0,726.0 806.0,725.8 805.0,725.6 804.0,725.4 803.0,725.3 802.0,725.1 801.0,724.9 800.0,724.8 799.0,724.6 798.0,724.4 797.0,724.3 796.0,724.1 795.0,723.9 794.0,723.7 793.0,723.6 792.0,723.4 791.0,723.2 790.0,723.1 789.0,722.9 788.0,722.7 787.0,722.6 786.0,722.4 785.0,722.2 784.0,722.0 783.0,721.9 782.0,721.7 781.0,721.5 780.0,721.3 779.0,721.2 778.0,721.0 777.0,720.8 776.0,720.7 775.0,720.5 774.0,720.3 773.0,720.1 772.0,720.0 771.0,719.8 770.0,719.6 769.0,719.4 768.0,719.3 767.0,719.1 766.0,718.9 765.0,718.7 764.0,718.6 763.0,718.4 762.0,718.2 761.0,718.0 760.0,717.9 759.0,717.7 758.0,717.5 757.0,717.3 756.0,717.2 755.0,717.0 754.0,716.8 753.0,716.6 752.0,716.4 751.0,716.3 750.0,716.1 749.0,715.9 748.0,715.7 747.0,715.6 746.0,715.4 745.0,715.2 744.0,715.0 743.0,714.8 742.0,714.7 741.0,714.5 740.0,714.3 739.0,714.1 738.0,713.9 737.0,713.8 736.0,713.6 735.0,713.4 734.0,713.2 733.0,713.0 732.0,712.9 731.0,712.7 730.0,712.5 729.0,712.3 728.0,712.1 727.0,711.9 726.0,711.8 725.0,711.6 724.0,711.4 723.0,711.2 722.0,711.0 721.0,710.8 720.0,710.7 719.0,710.5 718.0,710.3 717.0,710.1 716.0,709.9 715.0,709.7 714.0,709.6 713.0,709.4 712.0,709.2 711.0,709.0 710.0,708.8 709.0,708.6 708.0,708.4 707.0,708.3 706.0,708.1 705.0,707.9 704.0,707.7 703.0,707.5 702.0,707.3 701.0,707.1 700.0,706.9 699.0,706.7 698.0,706.6 697.0,706.4 696.0,706.2 695.0,706.0 694.0,705.8 693.0,705.6 692.0,705.4 691.0,705.2 690.0,705.0 689.0,704.9 688.0,704.7 687.0,704.5 686.0,704.3 685.0,704.1 684.0,703.9 683.0,703.7 682.0,703.5 681.0,703.3 680.0,703.1 679.0,702.9 678.0,702.7 677.0,702.5 676.0,702.3 675.0,702.2 674.0,702.0 673.0,701.8 672.0,701.6 671.0,701.4 670.0,701.2 669.0,701.0 668.0,700.8 667.0,700.6 666.0,700.4 665.0,700.2 664.0,700.0 663.0,699.8 662.0,699.6 661.0,699.4 660.0,699.2 659.0,699.0 658.0,698.8 657.0,698.6 656.0,698.4 655.0,698.2 654.0,698.0 653.0,697.8 652.0,697.6 651.0,697.4 650.0,697.2 649.0,697.0 648.0,696.8 647.0,696.6 646.0,696.4 645.0,696.2 644.0,696.0 643.0,695.8 642.0,695.6 641.0,695.4 640.0,695.2 639.0,695.0 638.0,694.8 637.0,694.6 636.0,694.4 635.0,694.2 634.0,694.0 633.0,693.8 632.0,693.6 631.0,693.3 630.0,693.1 629.0,692.9 628.0,692.7 627.0,692.5 626.0,692.3 625.0,692.1 624.0,691.9 623.0,691.7 622.0,691.5 621.0,691.3 620.0,691.1 619.0,690.8 618.0,690.6 617.0,690.4 616.0,690.2 615.0,690.0 614.0,689.8 613.0,689.6 612.0,689.4 611.0,689.2 610.0,688.9 609.0,688.7 608.0,688.5 607.0,688.3 606.0,688.1 605.0,687.9 604.0,687.7 603.0,687.5 602.0,687.2 601.0,687.0 600.0,686.8 599.0,686.6 598.0,686.4 597.0,686.2 596.0,685.9 595.0,685.7 594.0,685.5 593.0,685.3 592.0,685.1 591.0,684.9 590.0,684.6 589.0,684.4 588.0,684.2 587.0,684.0 586.0,683.8 585.0,683.5 584.0,683.3 583.0,683.1 582.0,682.9 581.0,682.7 580.0,682.4 579.0,682.2 578.0,682.0 577.0,681.8 576.0,681.5 575.0,681.3 574.0,681.1 573.0,680.9 572.0,680.6 571.0,680.4 570.0,680.2 569.0,680.0 568.0,679.7 567.0,679.5 566.0,679.3 565.0,679.1 564.0,678.8 563.0,678.6 562.0,678.4 561.0,678.2 560.0,677.9 559.0,677.7 558.0,677.5 557.0,677.2 556.0,677.0 555.0,676.8 554.0,676.6 553.0,676.3 552.0,676.1 551.0,675.9 550.0,675.6 549.0,675.4 548.0,675.2 547.0,674.9 546.0,674.7 545.0,674.5 544.0,674.2 543.0,674.0 542.0,673.8 541.0,673.5 540.0,673.3 539.0,673.0 538.0,672.8 537.0,672.6 536.0,672.3 535.0,672.1 534.0,671.9 533.0,671.6 532.0,671.4 531.0,671.1 530.0,670.9 529.0,670.7 528.0,670.4 527.0,670.2 526.0,669.9 525.0,669.7 524.0,669.5 523.0,669.2 522.0,669.0 521.0,668.7 520.0,668.5 519.0,668.3 518.0,668.0 517.0,667.8 516.0,667.5 515.0,667.3 514.0,667.0 513.0,666.8 512.0,666.5 511.0,666.3 510.0,666.0 509.0,665.8 508.0,665.6 507.0,665.3 506.0,665.1 505.0,664.8 504.0,664.6 503.0,664.3 502.0,664.1 501.0,663.8 500.0,663.6 499.0,663.3 498.0,663.1 497.0,662.8 496.0,662.5 495.0,662.3 494.0,662.0 493.0,661.8 492.0,661.5 491.0,661.3 490.0,661.0 489.0,660.8 488.0,660.5 487.0,660.3 486.0,660.0 485.0,659.7 484.0,659.5 483.0,659.2 482.0,659.0 481.0,658.7 480.0,658.5 479.0,658.2 478.0,657.9 477.0,657.7 476.0,657.4 475.0,657.2 474.0,656.9 473.0,656.6 472.0,656.4 471.0,656.1 470.0,655.8 469.0,655.6 468.0,655.3 467.0,655.1 466.0,654.8 465.0,654.5 464.0,654.3 463.0,654.0 462.0,653.7 461.0,653.5 460.0,653.2 459.0,652.9 458.0,652.7 457.0,652.4 456.0,652.1 455.0,651.9 454.0,651.6 453.0,651.3 452.0,651.0 451.0,650.8 450.0,650.5 449.0,650.2 448.0,650.0 447.0,649.7 446.0,649.4 445.0,649.1 444.0,648.9 443.0,648.6 442.0,648.3 441.0,648.0 440.0,647.8 439.0,647.5 438.0,647.2 437.0,646.9 436.0,646.7 435.0,646.4 434.0,646.1 433.0,645.8 432.0,645.5 431.0,645.3 430.0,645.0 429.0,644.7 428.0,644.4 427.0,644.1 426.0,643.9 425.0,643.6 424.0,643.3 423.0,643.0 422.0,642.7 421.0,642.4 420.0,642.1 419.0,641.9 418.0,641.6 417.0,641.3 416.0,641.0 415.0,640.7 414.0,640.4 413.0,640.1 412.0,639.9 411.0,639.6 410.0,639.3 409.0,639.0 408.0,638.7 407.0,638.4 406.0,638.1 405.0,637.8 404.0,637.5 403.0,637.2 402.0,636.9 401.0,636.6 400.0,636.4 399.0,636.1 398.0,635.8 397.0,635.5 396.0,635.2 395.0,634.9 394.0,634.6 393.0,634.3 392.0,634.0 391.0,633.7 390.0,633.4 389.0,633.1 388.0,632.8 387.0,632.5 386.0,632.2 385.0,631.9 384.0,631.6 383.0,631.3 382.0,631.0 381.0,630.7 380.0,630.4 379.0,630.1 378.0,629.8 377.0,629.4 376.0,629.1 375.0,628.8 374.0,628.5 373.0,628.2 372.0,627.9 371.0,627.6 370.0,627.3 369.0,627.0 368.0,626.7 367.0,626.4 366.0,626.1 365.0,625.7 364.0,625.4 363.0,625.1 362.0,624.8 361.0,624.5 360.0,624.2 359.0,623.9 358.0,623.5 357.0,623.2 356.0,622.9 355.0,622.6 354.0,622.3 353.0,622.0 352.0,621.6 351.0,621.3 350.0,621.0 349.0,620.7 348.0,620.4 347.0,620.0 346.0,619.7 345.0,619.4 344.0,619.1 343.0,618.8 342.0,618.4 341.0,618.1 340.0,617.8 339.0,617.5 338.0,617.1 337.0,616.8 336.0,616.5 335.0,616.2 334.0,615.8 333.0,615.5 332.0,615.2 331.0,614.8 330.0,614.5 329.0,614.2 328.0,613.9 327.0,613.5 326.0,613.2 325.0,612.9 324.0,612.5 323.0,612.2 322.0,611.9 321.0,611.5 320.0,611.2 319.0,610.9 318.0,610.5 317.0,610.2 316.0,609.8 315.0,609.5 314.0,609.2 313.0,608.8 312.0,608.5 311.0,608.1 310.0,607.8 309.0,607.5 308.0,607.1 307.0,606.8 306.0,606.4 305.0,606.1 304.0,605.8 303.0,605.4 302.0,605.1 301.0,604.7 300.0,604.4 299.0,604.0 298.0,603.7 297.0,603.3 296.6,603.3 295.6,603.5 294.6,603.6 293.6,603.7 292.6,603.8 291.6,603.8 290.6,603.9 289.6,604.0 288.6,604.0 287.6,604.1 286.6,604.1 285.6,604.1 284.6,604.1 283.6,604.1 282.6,604.1 281.6,604.1 280.6,604.1 279.6,604.0 278.6,604.0 277.6,603.9 276.6,603.9 275.6,603.8 274.6,603.7 273.6,603.6 272.6,603.5 271.6,603.4 270.6,603.3 269.6,603.1 268.6,603.0 267.6,602.8 266.6,602.7 265.6,602.5 264.6,602.3 263.6,602.2 262.6,602.0 261.6,601.8 260.6,601.6 259.6,601.3 258.6,601.1 257.6,600.9 256.6,600.6 255.6,600.4 254.6,600.1 253.6,599.8 252.6,599.6 251.6,599.3 250.6,599.0 249.6,598.7 248.6,598.4 247.6,598.1 246.6,597.7 245.6,597.4 244.6,597.1 243.6,596.7 242.6,596.3 241.6,596.0 240.6,595.6 239.6,595.2 238.6,594.8 237.6,594.4 236.6,594.0 235.6,593.6 234.6,593.2 233.6,592.8 232.6,592.3 231.6,591.9 230.6,591.4 229.6,591.0 228.6,590.5 227.6,590.0 226.6,589.5 225.6,589.1 224.6,588.6 223.6,588.1 222.6,587.6 221.6,587.0 220.6,586.5 219.6,586.0 218.6,585.4 217.6,584.9 216.6,584.4 215.6,583.8 214.6,583.2 213.6,582.7 212.6,582.1 211.6,581.5 210.6,580.9 209.6,580.3 208.6,579.7 207.6,579.1 206.6,578.5 205.6,577.9 204.6,577.2 203.6,576.6 202.6,576.0 201.6,575.3 200.6,574.6 199.6,574.0 198.6,573.3 197.6,572.7 196.6,572.0 195.6,571.3 194.6,570.6 193.6,569.9 192.6,569.2 191.6,568.5 190.6,567.8 189.6,567.1 188.6,566.3 187.6,565.6 186.6,564.9 185.6,564.1 184.6,563.4 183.6,562.6 182.6,561.9 181.6,561.1 180.6,560.3 179.6,559.6 178.6,558.8 177.6,558.0 176.6,557.2 175.6,556.4 174.6,555.6 173.6,554.8 172.6,554.0 171.6,553.2 170.6,552.4 169.6,551.6 168.6,550.7 167.6,549.9 166.6,549.1 165.6,548.2 164.6,547.4 163.6,546.5 162.6,545.7 161.6,544.8 160.6,544.0 159.6,543.1 158.6,542.2 157.6,541.3 156.6,540.5 155.6,539.6 154.6,538.7 153.6,537.8 152.6,536.9 151.6,536.0 150.6,535.1 149.6,534.2 148.6,533.2 147.6,532.3 146.6,531.4 145.6,530.5 144.6,529.6 143.6,528.6 142.6,527.7 141.6,526.7 140.6,525.8 139.6,524.9 138.6,523.9 137.6,522.9 136.6,522.0 135.6,521.0 134.6,520.1 133.6,519.1 132.6,518.1 131.6,517.1 130.6,516.2 129.6,515.2 128.6,514.2 127.6,513.2 126.6,512.2 125.6,511.2 124.6,510.2 123.6,509.2 122.6,508.2 121.6,507.2 120.6,506.2 119.6,505.2 118.6,504.2 117.6,503.2 116.6,502.2 115.6,501.2 114.6,500.1 113.6,499.1 112.6,498.1 111.6,497.1 110.6,496.0 109.6,495.0 108.6,494.0 107.6,492.9 106.6,491.9 105.6,490.8 104.6,489.8 103.6,488.7 102.6,487.7 101.6,486.6 100.6,485.6 99.6,484.5 98.6,483.5 97.6,482.4 96.6,481.4 95.6,480.3 94.6,479.2 93.6,478.2 92.6,477.1 91.6,476.0 90.6,475.0 89.6,473.9 88.6,472.8 87.6,471.8 86.6,470.7 85.6,469.6 84.6,468.5 83.6,467.5 82.6,466.4 81.6,465.3 80.6,464.2" fill="#ffd3d4"/>
<polyline points="80.7,301.8 81.7,304.7 82.7,307.5 83.7,310.4 84.7,313.3 85.7,316.1 86.7,319.0 87.7,321.8 88.7,324.6 89.7,327.5 90.7,330.3 91.7,333.0 92.7,335.8 93.7,338.6 94.7,341.3 95.7,344.1 96.7,346.8 97.7,349.5 98.7,352.2 99.7,354.9 100.7,357.6 101.7,360.3 102.7,362.9 103.7,365.6 104.7,368.2 105.7,370.8 106.7,373.4 107.7,376.0 108.7,378.6 109.7,381.1 110.7,383.7 111.7,386.2 112.7,388.7 113.7,391.3 114.7,393.7 115.7,396.2 116.7,398.7 117.7,401.1 118.7,403.6 119.7,406.0 120.7,408.4 121.7,410.8 122.7,413.2 123.7,415.6 124.7,417.9 125.7,420.2 126.7,422.6 127.7,424.9 128.7,427.2 129.7,429.4 130.7,431.7 131.7,433.9 132.7,436.2 133.7,438.4 134.7,440.6 135.7,442.8 136.7,444.9 137.7,447.1 138.7,449.2 139.7,451.3 140.7,453.4 141.7,455.5 142.7,457.6 143.7,459.6 144.7,461.6 145.7,463.7 146.7,465.7 147.7,467.6 148.7,469.6 149.7,471.6 150.7,473.5 151.7,475.4 152.7,477.3 153.7,479.2 154.7,481.0 155.7,482.9 156.7,484.7 157.7,486.5 158.7,488.3 159.7,490.1 160.7,491.8 161.7,493.6 162.7,495.3 163.7,497.0 164.7,498.7 165.7,500.4 166.7,502.1 167.7,503.7 168.7,505.3 169.7,507.0 170.7,508.6 171.7,510.1 172.7,511.7 173.7,513.3 174.7,514.8 175.7,516.3 176.7,517.8 177.7,519.3 178.7,520.8 179.7,522.2 180.7,523.7 181.7,525.1 182.7,526.5 183.7,527.9 184.7,529.3 185.7,530.7 186.7,532.0 187.7,533.3 188.7,534.7 189.7,536.0 190.7,537.2 191.7,538.5 192.7,539.8 193.7,541.0 194.7,542.3 195.7,543.5 196.7,544.7 197.7,545.9 198.7,547.0 199.7,548.2 200.7,549.3 201.7,550.5 202.7,551.6 203.7,552.7 204.7,553.7 205.7,554.8 206.7,555.9 207.7,556.9 208.7,557.9 209.7,559.0 210.7,560.0 211.7,561.0 212.7,561.9 213.7,562.9 214.7,563.8 215.7,564.8 216.7,565.7 217.7,566.6 218.7,567.5 219.7,568.4 220.7,569.2 221.7,570.1 222.7,570.9 223.7,571.7 224.7,572.6 225.7,573.4 226.7,574.1 227.7,574.9 228.7,575.7 229.7,576.4 230.7,577.2 231.7,577.9 232.7,578.6 233.7,579.3 234.7,580.0 235.7,580.7 236.7,581.3 237.7,582.0 238.7,582.6 239.7,583.3 240.7,583.9 241.7,584.5 242.7,585.1 243.7,585.7 244.7,586.2 245.7,586.8 246.7,587.4 247.7,587.9 248.7,588.4 249.7,589.0 250.7,589.5 251.7,590.0 252.7,590.5 253.7,591.0 254.7,591.4 255.7,591.9 256.7,592.3 257.7,592.8 258.7,593.2 259.7,593.7 260.7,594.1 261.7,594.5 262.7,594.9 263.7,595.3 264.7,595.6 265.7,596.0 266.7,596.4 267.7,596.7 268.7,597.1 269.7,597.4 270.7,597.8 271.7,598.1 272.7,598.4 273.7,598.7 274.7,599.0 275.7,599.3 276.7,599.6 277.7,599.9 278.7,600.2 279.7,600.4 280.7,600.7 281.7,600.9 282.7,601.2 283.7,601.4 284.7,601.7 285.7,601.9 286.7,602.1 287.7,602.3 288.7,602.5 289.7,602.7 290.7,602.9 291.7,603.1 292.7,603.3 293.7,603.5 294.7,603.7 295.7,603.8 296.7,604.0 297.7,604.2 298.7,604.3 299.7,604.5 300.7,604.6 301.7,604.8 302.7,604.9 303.7,605.0 304.7,605.2 305.7,605.3 306.7,605.4 307.7,605.5 308.7,605.7 309.7,605.8 310.7,605.9 311.7,606.0 312.7,606.1 313.7,606.2 314.7,606.3 315.7,606.4 316.7,606.5 317.7,606.6 318.7,606.6 319.7,606.7 320.7,606.8 321.7,606.9 322.7,607.0 323.7,607.0 324.7,607.1 325.7,607.2 326.7,607.2 327.7,607.3 328.7,607.4 329.7,607.4 330.7,607.5 331.7,607.6 332.7,607.6 333.7,607.7 334.7,607.7 335.7,607.8 336.7,607.9 337.7,607.9 338.7,608.0 339.7,608.0 340.7,608.1 341.7,608.1 342.7,608.2 343.7,608.3 344.7,608.3 345.7,608.4 346.7,608.4 347.7,608.5 348.7,608.5 349.7,608.6 350.7,608.7 351.7,608.7 352.7,608.8 353.7,608.8 354.7,608.9 355.7,608.9 356.7,609.0 357.7,609.1 358.7,609.1 359.7,609.2 360.7,609.2 361.7,609.3 362.7,609.4 363.7,609.4 364.7,609.5 365.7,609.5 366.7,609.6 367.7,609.6 368.7,609.7 369.7,609.8 370.7,609.8 371.7,609.9 372.7,609.9 373.7,610.0 374.7,610.1 375.7,610.1 376.7,610.2 377.7,610.2 378.7,610.3 379.7,610.4 380.7,610.4 381.7,610.5 382.7,610.5 383.7,610.6 384.7,610.7 385.7,610.7 386.7,610.8 387.7,610.8 388.7,610.9 389.7,611.0 390.7,611.0 391.7,611.1 392.7,611.1 393.7,611.2 394.7,611.3 395.7,611.3 396.7,611.4 397.7,611.4 398.7,611.5 399.7,611.6 400.7,611.6 401.7,611.7 402.7,611.7 403.7,611.8 404.7,611.9 405.7,611.9 406.7,612.0 407.7,612.0 408.7,612.1 409.7,612.2 410.7,612.2 411.7,612.3 412.7,612.4 413.7,612.4 414.7,612.5 415.7,612.5 416.7,612.6 417.7,612.7 418.7,612.7 419.7,612.8 420.7,612.8 421.7,612.9 422.7,613.0 423.7,613.0 424.7,613.1 425.7,613.2 426.7,613.2 427.7,613.3 428.7,613.3 429.7,613.4 430.7,613.5 431.7,613.5 432.7,613.6 433.7,613.6 434.7,613.7 435.7,613.8 436.7,613.8 437.7,613.9 438.7,614.0 439.7,614.0 440.7,614.1 441.7,614.1 442.7,614.2 443.7,614.3 444.7,614.3 445.7,614.4 446.7,614.5 447.7,614.5 448.7,614.6 449.7,614.6 450.7,614.7 451.7,614.8 452.7,614.8 453.7,614.9 454.7,615.0 455.7,615.0 456.7,615.1 457.7,615.1 458.7,615.2 459.7,615.3 460.7,615.3 461.7,615.4 462.7,615.5 463.7,615.5 464.7,615.6 465.7,615.7 466.7,615.7 467.7,615.8 468.7,615.8 469.7,615.9 470.7,616.0 471.7,616.0 472.7,616.1 473.7,616.2 474.7,616.2 475.7,616.3 476.7,616.3 477.7,616.4 478.7,616.5 479.7,616.5 480.7,616.6 481.7,616.7 482.7,616.7 483.7,616.8 484.7,616.9 485.7,616.9 486.7,617.0 487.7,617.0 488.7,617.1 489.7,617.2 490.7,617.2 491.7,617.3 492.7,617.4 493.7,617.4 494.7,617.5 495.7,617.6 496.7,617.6 497.7,617.7 498.7,617.8 499.7,617.8 500.7,617.9 501.7,617.9 502.7,618.0 503.7,618.1 504.7,618.1 505.7,618.2 506.7,618.3 507.7,618.3 508.7,618.4 509.7,618.5 510.7,618.5 511.7,618.6 512.7,618.6 513.7,618.7 514.7,618.8 515.7,618.8 516.7,618.9 517.7,619.0 518.7,619.0 519.7,619.1 520.7,619.2 521.7,619.2 522.7,619.3 523.7,619.4 524.7,619.4 525.7,619.5 526.7,619.5 527.7,619.6 528.7,619.7 529.7,619.7 530.7,619.8 531.7,619.9 532.7,619.9 533.7,620.0 534.7,620.1 535.7,620.1 536.7,620.2 537.7,620.3 538.7,620.3 539.7,620.4 540.7,620.4 541.7,620.5 542.7,620.6 543.7,620.6 544.7,620.7 545.7,620.8 546.7,620.8 547.7,620.9 548.7,621.0 549.7,621.0 550.7,621.1 551.7,621.2 552.7,621.2 553.7,621.3 554.7,621.3 555.7,621.4 556.7,621.5 557.7,621.5 558.7,621.6 559.7,621.7 560.7,621.7 561.7,621.8 562.7,621.9 563.7,621.9 564.7,622.0 565.7,622.1 566.7,622.1 567.7,622.2 568.7,622.3 569.7,622.3 570.7,622.4 571.7,622.4 572.7,622.5 573.7,622.6 574.7,622.6 575.7,622.7 576.7,622.8 577.7,622.8 578.7,622.9 579.7,623.0 580.7,623.0 581.7,623.1 582.7,623.2 583.7,623.2 584.7,623.3 585.7,623.3 586.7,623.4 587.7,623.5 588.7,623.5 589.7,623.6 590.7,623.7 591.7,623.7 592.7,623.8 593.7,623.9 594.7,623.9 595.7,624.0 596.7,624.1 597.7,624.1 598.7,624.2 599.7,624.2 600.7,624.3 601.7,624.4 602.7,624.4 603.7,624.5 604.7,624.6 605.7,624.6 606.7,624.7 607.7,624.8 608.7,624.8 609.7,624.9 610.7,624.9 611.7,625.0 612.7,625.1 613.7,625.1 614.7,625.2 615.7,625.3 616.7,625.3 617.7,625.4 618.7,625.5 619.7,625.5 620.7,625.6 621.7,625.7 622.7,625.7 623.7,625.8 624.7,625.8 625.7,625.9 626.7,626.0 627.7,626.0 628.7,626.1 629.7,626.2 630.7,626.2 631.7,626.3 632.7,626.4 633.7,626.4 634.7,626.5 635.7,626.5 636.7,626.6 637.7,626.7 638.7,626.7 639.7,626.8 640.7,626.9 641.7,626.9 642.7,627.0 643.7,627.0 644.7,627.1 645.7,627.2 646.7,627.2 647.7,627.3 648.7,627.4 649.7,627.4 650.7,627.5 651.7,627.6 652.7,627.6 653.7,627.7 654.7,627.7 655.7,627.8 656.7,627.9 657.7,627.9 658.7,628.0 659.7,628.1 660.7,628.1 661.7,628.2 662.7,628.2 663.7,628.3 664.7,628.4 665.7,628.4 666.7,628.5 667.7,628.6 668.7,628.6 669.7,628.7 670.7,628.7 671.7,628.8 672.7,628.9 673.7,628.9 674.7,629.0 675.7,629.1 676.7,629.1 677.7,629.2 678.7,629.2 679.7,629.3 680.7,629.4 681.7,629.4 682.7,629.5 683.7,629.6 684.7,629.6 685.7,629.7 686.7,629.7 687.7,629.8 688.7,629.9 689.7,629.9 690.7,630.0 691.7,630.0 692.7,630.1 693.7,630.2 694.7,630.2 695.7,630.3 696.7,630.4 697.7,630.4 698.7,630.5 699.7,630.5 700.7,630.6 701.7,630.7 702.7,630.7 703.7,630.8 704.7,630.8 705.7,630.9 706.7,631.0 707.7,631.0 708.7,631.1 709.7,631.1 710.7,631.2 711.7,631.3 712.7,631.3 713.7,631.4 714.7,631.4 715.7,631.5 716.7,631.6 717.7,631.6 718.7,631.7 719.7,631.7 720.7,631.8 721.7,631.9 722.7,631.9 723.7,632.0 724.7,632.0 725.7,632.1 726.7,632.2 727.7,632.2 728.7,632.3 729.7,632.3 730.7,632.4 731.7,632.5 732.7,632.5 733.7,632.6 734.7,632.6 735.7,632.7 736.7,632.8 737.7,632.8 738.7,632.9 739.7,632.9 740.7,633.0 741.7,633.1 742.7,633.1 743.7,633.2 744.7,633.2 745.7,633.3 746.7,633.4 747.7,633.4 748.7,633.5 749.7,633.5 750.7,633.6 751.7,633.6 752.7,633.7 753.7,633.8 754.7,633.8 755.7,633.9 756.7,633.9 757.7,634.0 758.7,634.1 759.7,634.1 760.7,634.2 761.7,634.2 762.7,634.3 763.7,634.3 764.7,634.4 765.7,634.5 766.7,634.5 767.7,634.6 768.7,634.6 769.7,634.7 770.7,634.7 771.7,634.8 772.7,634.9 773.7,634.9 774.7,635.0 775.7,635.0 776.7,635.1 777.7,635.1 778.7,635.2 779.7,635.3 780.7,635.3 781.7,635.4 782.7,635.4 783.7,635.5 784.7,635.5 785.7,635.6 786.7,635.6 787.7,635.7 788.7,635.8 789.7,635.8 790.7,635.9 791.7,635.9 792.7,636.0 793.7,636.0 794.7,636.1 795.7,636.2 796.7,636.2 797.7,636.3 798.7,636.3 799.7,636.4 800.7,636.4 801.7,636.5 802.7,636.5 803.7,636.6 804.7,636.6 805.7,636.7 806.7,636.8 807.7,636.8 808.7,636.9 809.7,636.9 810.7,637.0 811.7,637.0 812.7,637.1 813.7,637.1 814.7,637.2 815.7,637.2 816.7,637.3 817.7,637.3 818.7,637.4 819.7,637.5 820.7,637.5 821.7,637.6 822.7,637.6 823.7,637.7 824.7,637.7 825.7,637.8 826.7,637.8 827.7,637.9 828.7,637.9 829.7,638.0 830.7,638.0 831.7,638.1 832.7,638.1 833.7,638.2 834.7,638.2 835.7,638.3 836.7,638.4 837.7,638.4 838.7,638.5 839.7,638.5 840.7,638.6 841.7,638.6 842.7,638.7 843.4,638.7" fill="none" stroke="#fb7e7e" stroke-width="3.6" stroke-linejoin="round"/>
<line x1="296" y1="31.9" x2="296" y2="891" stroke="#f55257" stroke-width="2.1" stroke-dasharray="7.1 7.1"/>
<rect x="43.1" y="30.4" width="838.4" height="860.6" fill="none" stroke="#555555" stroke-width="1.3"/>
<text transform="translate(274.3 133.6) scale(1 1.04)" font-size="22" fill="#4a77c0" text-anchor="end" >&lt; 3.75</text>
<text transform="translate(274.3 172.2) scale(1 1.04)" font-size="22" fill="#4a77c0" text-anchor="end" >HR: 0.806</text>
<text transform="translate(274.3 211.2) scale(1 1.04)" font-size="22" fill="#4a77c0" text-anchor="end" >(0.743 ~ 0.874)</text>
<text transform="translate(320.4 133.6) scale(1 1.04)" font-size="22" fill="#4a77c0" text-anchor="start" >≥ 3.75</text>
<text transform="translate(320.4 172.2) scale(1 1.04)" font-size="22" fill="#4a77c0" text-anchor="start" >HR: 1.055</text>
<text transform="translate(320.4 211.2) scale(1 1.04)" font-size="22" fill="#4a77c0" text-anchor="start" >(0.977 ~ 1.140)</text>
<text transform="translate(496.6 168.2) scale(1 1.04)" font-size="22" fill="#4a77c0" text-anchor="start" >p for overall &lt; 0.001</text>
<text transform="translate(496.6 206.9) scale(1 1.04)" font-size="22" fill="#4a77c0" text-anchor="start" >p for nonlinear &lt; 0.001</text>
<line x1="38" y1="852.3" x2="43.1" y2="852.3" stroke="#111111" stroke-width="1.5"/>
<text transform="translate(34.2 859.5) scale(1 1.04)" font-size="20" fill="#2a2a2a" text-anchor="end" >0</text>
<line x1="38" y1="602.6" x2="43.1" y2="602.6" stroke="#111111" stroke-width="1.5"/>
<text transform="translate(34.2 609.83) scale(1 1.04)" font-size="20" fill="#2a2a2a" text-anchor="end" >1</text>
<line x1="38" y1="353.0" x2="43.1" y2="353.0" stroke="#111111" stroke-width="1.5"/>
<text transform="translate(34.2 360.15999999999997) scale(1 1.04)" font-size="20" fill="#2a2a2a" text-anchor="end" >2</text>
<line x1="38" y1="103.3" x2="43.1" y2="103.3" stroke="#111111" stroke-width="1.5"/>
<text transform="translate(34.2 110.48999999999997) scale(1 1.04)" font-size="20" fill="#2a2a2a" text-anchor="end" >3</text>
<line x1="71.4" y1="891" x2="71.4" y2="896" stroke="#111111" stroke-width="1.5"/>
<text transform="translate(71.4 914) scale(1 1.04)" font-size="20" fill="#2a2a2a" text-anchor="middle" >0</text>
<line x1="368.5" y1="891" x2="368.5" y2="896" stroke="#111111" stroke-width="1.5"/>
<text transform="translate(368.5 914) scale(1 1.04)" font-size="20" fill="#2a2a2a" text-anchor="middle" >5</text>
<line x1="665.7" y1="891" x2="665.7" y2="896" stroke="#111111" stroke-width="1.5"/>
<text transform="translate(665.7 914) scale(1 1.04)" font-size="20" fill="#2a2a2a" text-anchor="middle" >10</text>
<line x1="881.5" y1="891.0" x2="886.6" y2="891.0" stroke="#111111" stroke-width="1.5"/>
<text transform="translate(889.5 898.2) scale(1 1.04)" font-size="20" fill="#2a2a2a" text-anchor="start" >0.0</text>
<line x1="881.5" y1="675.9" x2="886.6" y2="675.9" stroke="#111111" stroke-width="1.5"/>
<text transform="translate(889.5 683.0500000000001) scale(1 1.04)" font-size="20" fill="#2a2a2a" text-anchor="start" >0.5</text>
<line x1="881.5" y1="460.7" x2="886.6" y2="460.7" stroke="#111111" stroke-width="1.5"/>
<text transform="translate(889.5 467.9) scale(1 1.04)" font-size="20" fill="#2a2a2a" text-anchor="start" >1.0</text>
<line x1="881.5" y1="245.5" x2="886.6" y2="245.5" stroke="#111111" stroke-width="1.5"/>
<text transform="translate(889.5 252.74999999999994) scale(1 1.04)" font-size="20" fill="#2a2a2a" text-anchor="start" >1.5</text>
<line x1="881.5" y1="30.4" x2="886.6" y2="30.4" stroke="#111111" stroke-width="1.5"/>
<text transform="translate(889.5 37.59999999999998) scale(1 1.04)" font-size="20" fill="#2a2a2a" text-anchor="start" >2.0</text>
<text transform="translate(2.4 33.9) scale(1 1.04)" font-size="42" fill="#000" text-anchor="start" font-weight="bold">A</text>
<text transform="translate(42.6 17.0) scale(1 1.04)" font-size="22" fill="#000" text-anchor="start" >sACR and mortality HR</text>
<text transform="translate(462.3 937.2) scale(1 1.04)" font-size="20" fill="#000" text-anchor="middle" >serum Albumin Creatinine Ratio</text>
<text transform="translate(14.3 460.3) rotate(-90) scale(1 1.04)" font-size="20" fill="#000" text-anchor="middle" >All-cause Mortality HR (95%CI)</text>
<text transform="translate(926.7 461.4) rotate(90) scale(1 1.04)" font-size="20" fill="#000" text-anchor="middle" >Density</text>
<rect x="1036.08" y="848.6" width="4.964" height="3.8" fill="#ff6666" stroke="#ff6464" stroke-width="2.2"/>
<rect x="1041.05" y="762.1" width="4.964" height="90.3" fill="#ff6666" stroke="#ff6464" stroke-width="2.2"/>
<rect x="1046.01" y="705.4" width="4.964" height="147.0" fill="#ff6666" stroke="#ff6464" stroke-width="2.2"/>
<rect x="1050.97" y="605.4" width="4.964" height="247.0" fill="#ff6666" stroke="#ff6464" stroke-width="2.2"/>
<rect x="1055.94" y="585.5" width="4.964" height="266.9" fill="#ff6666" stroke="#ff6464" stroke-width="2.2"/>
<rect x="1060.90" y="546.0" width="4.964" height="306.4" fill="#ff6666" stroke="#ff6464" stroke-width="2.2"/>
<rect x="1065.87" y="502.0" width="4.964" height="350.4" fill="#ff6666" stroke="#ff6464" stroke-width="2.2"/>
<rect x="1070.83" y="489.0" width="4.964" height="363.4" fill="#ff6666" stroke="#ff6464" stroke-width="2.2"/>
<rect x="1075.79" y="502.0" width="4.964" height="350.4" fill="#ff6666" stroke="#ff6464" stroke-width="2.2"/>
<rect x="1080.76" y="458.8" width="4.964" height="393.6" fill="#ff6666" stroke="#ff6464" stroke-width="2.2"/>
<rect x="1085.72" y="495.4" width="4.964" height="357.0" fill="#ff6666" stroke="#ff6464" stroke-width="2.2"/>
<rect x="1090.69" y="508.6" width="4.964" height="343.8" fill="#ff6666" stroke="#ff6464" stroke-width="2.2"/>
<rect x="1095.65" y="455.8" width="4.964" height="396.6" fill="#ff6666" stroke="#ff6464" stroke-width="2.2"/>
<rect x="1100.61" y="498.3" width="4.964" height="354.1" fill="#ff6666" stroke="#ff6464" stroke-width="2.2"/>
<rect x="1105.58" y="525.3" width="4.964" height="327.1" fill="#ff6666" stroke="#ff6464" stroke-width="2.2"/>
<rect x="1110.54" y="538.3" width="4.964" height="314.1" fill="#ff6666" stroke="#ff6464" stroke-width="2.2"/>
<rect x="1115.51" y="446.1" width="4.964" height="406.3" fill="#ff6666" stroke="#ff6464" stroke-width="2.2"/>
<rect x="1120.47" y="422.5" width="4.964" height="429.9" fill="#ff6666" stroke="#ff6464" stroke-width="2.2"/>
<rect x="1125.43" y="369.2" width="4.964" height="483.2" fill="#ff6666" stroke="#ff6464" stroke-width="2.2"/>
<rect x="1130.40" y="611.5" width="4.964" height="240.9" fill="#ff6666" stroke="#ff6464" stroke-width="2.2"/>
<rect x="1135.36" y="442.5" width="4.964" height="409.9" fill="#ff6666" stroke="#ff6464" stroke-width="2.2"/>
<rect x="1140.33" y="392.5" width="4.964" height="459.9" fill="#ff6666" stroke="#ff6464" stroke-width="2.2"/>
<rect x="1145.29" y="528.6" width="4.964" height="323.8" fill="#ff6666" stroke="#ff6464" stroke-width="2.2"/>
<rect x="1150.25" y="475.8" width="4.964" height="376.6" fill="#ff6666" stroke="#ff6464" stroke-width="2.2"/>
<rect x="1155.22" y="462.5" width="4.964" height="389.9" fill="#ff6666" stroke="#ff6464" stroke-width="2.2"/>
<rect x="1160.18" y="468.9" width="4.964" height="383.5" fill="#ff6666" stroke="#ff6464" stroke-width="2.2"/>
<rect x="1165.15" y="445.8" width="4.964" height="406.6" fill="#ff6666" stroke="#ff6464" stroke-width="2.2"/>
<rect x="1170.11" y="525.0" width="4.964" height="327.4" fill="#ff6666" stroke="#ff6464" stroke-width="2.2"/>
<rect x="1175.07" y="516.1" width="4.964" height="336.3" fill="#ff6666" stroke="#ff6464" stroke-width="2.2"/>
<rect x="1180.04" y="571.7" width="4.964" height="280.7" fill="#ff6666" stroke="#ff6464" stroke-width="2.2"/>
<rect x="1185.00" y="486.1" width="4.964" height="366.3" fill="#ff6666" stroke="#ff6464" stroke-width="2.2"/>
<rect x="1189.97" y="532.5" width="4.964" height="319.9" fill="#ff6666" stroke="#ff6464" stroke-width="2.2"/>
<rect x="1194.93" y="592.2" width="4.964" height="260.2" fill="#ff6666" stroke="#ff6464" stroke-width="2.2"/>
<rect x="1199.89" y="545.8" width="4.964" height="306.6" fill="#ff6666" stroke="#ff6464" stroke-width="2.2"/>
<rect x="1204.86" y="622.2" width="4.964" height="230.2" fill="#ff6666" stroke="#ff6464" stroke-width="2.2"/>
<rect x="1209.82" y="615.8" width="4.964" height="236.6" fill="#ff6666" stroke="#ff6464" stroke-width="2.2"/>
<rect x="1214.79" y="588.9" width="4.964" height="263.5" fill="#ff6666" stroke="#ff6464" stroke-width="2.2"/>
<rect x="1219.75" y="695.0" width="4.964" height="157.4" fill="#ff6666" stroke="#ff6464" stroke-width="2.2"/>
<rect x="1224.71" y="625.6" width="4.964" height="226.8" fill="#ff6666" stroke="#ff6464" stroke-width="2.2"/>
<rect x="1229.68" y="572.2" width="4.964" height="280.2" fill="#ff6666" stroke="#ff6464" stroke-width="2.2"/>
<rect x="1234.64" y="651.6" width="4.964" height="200.8" fill="#ff6666" stroke="#ff6464" stroke-width="2.2"/>
<rect x="1239.61" y="628.7" width="4.964" height="223.7" fill="#ff6666" stroke="#ff6464" stroke-width="2.2"/>
<rect x="1244.57" y="688.6" width="4.964" height="163.8" fill="#ff6666" stroke="#ff6464" stroke-width="2.2"/>
<rect x="1249.53" y="688.6" width="4.964" height="163.8" fill="#ff6666" stroke="#ff6464" stroke-width="2.2"/>
<rect x="1254.50" y="781.3" width="4.964" height="71.1" fill="#ff6666" stroke="#ff6464" stroke-width="2.2"/>
<rect x="1259.46" y="648.4" width="4.964" height="204.0" fill="#ff6666" stroke="#ff6464" stroke-width="2.2"/>
<rect x="1264.43" y="712.1" width="4.964" height="140.3" fill="#ff6666" stroke="#ff6464" stroke-width="2.2"/>
<rect x="1269.39" y="775.0" width="4.964" height="77.4" fill="#ff6666" stroke="#ff6464" stroke-width="2.2"/>
<rect x="1274.35" y="751.7" width="4.964" height="100.7" fill="#ff6666" stroke="#ff6464" stroke-width="2.2"/>
<rect x="1279.32" y="755.0" width="4.964" height="97.4" fill="#ff6666" stroke="#ff6464" stroke-width="2.2"/>
<rect x="1284.28" y="771.6" width="4.964" height="80.8" fill="#ff6666" stroke="#ff6464" stroke-width="2.2"/>
<rect x="1289.25" y="784.9" width="4.964" height="67.5" fill="#ff6666" stroke="#ff6464" stroke-width="2.2"/>
<rect x="1294.21" y="781.3" width="4.964" height="71.1" fill="#ff6666" stroke="#ff6464" stroke-width="2.2"/>
<rect x="1299.17" y="768.3" width="4.964" height="84.1" fill="#ff6666" stroke="#ff6464" stroke-width="2.2"/>
<rect x="1304.14" y="781.3" width="4.964" height="71.1" fill="#ff6666" stroke="#ff6464" stroke-width="2.2"/>
<rect x="1309.10" y="788.2" width="4.964" height="64.2" fill="#ff6666" stroke="#ff6464" stroke-width="2.2"/>
<rect x="1314.07" y="758.3" width="4.964" height="94.1" fill="#ff6666" stroke="#ff6464" stroke-width="2.2"/>
<rect x="1319.03" y="818.1" width="4.964" height="34.3" fill="#ff6666" stroke="#ff6464" stroke-width="2.2"/>
<rect x="1323.99" y="831.1" width="4.964" height="21.3" fill="#ff6666" stroke="#ff6464" stroke-width="2.2"/>
<rect x="1328.96" y="775.0" width="4.964" height="77.4" fill="#ff6666" stroke="#ff6464" stroke-width="2.2"/>
<rect x="1333.92" y="841.4" width="4.964" height="11.0" fill="#ff6666" stroke="#ff6464" stroke-width="2.2"/>
<rect x="1338.89" y="788.2" width="4.964" height="64.2" fill="#ff6666" stroke="#ff6464" stroke-width="2.2"/>
<rect x="1343.85" y="828.4" width="4.964" height="24.0" fill="#ff6666" stroke="#ff6464" stroke-width="2.2"/>
<rect x="1348.81" y="832.0" width="4.964" height="20.4" fill="#ff6666" stroke="#ff6464" stroke-width="2.2"/>
<rect x="1353.78" y="828.6" width="4.964" height="23.8" fill="#ff6666" stroke="#ff6464" stroke-width="2.2"/>
<rect x="1358.74" y="831.9" width="4.964" height="20.5" fill="#ff6666" stroke="#ff6464" stroke-width="2.2"/>
<rect x="1363.71" y="835.4" width="4.964" height="17.0" fill="#ff6666" stroke="#ff6464" stroke-width="2.2"/>
<rect x="1368.67" y="835.4" width="4.964" height="17.0" fill="#ff6666" stroke="#ff6464" stroke-width="2.2"/>
<rect x="1373.63" y="852.4" width="4.964" height="0.0" fill="#ff6666" stroke="#ff6464" stroke-width="2.2"/>
<rect x="1378.60" y="815.5" width="4.964" height="36.9" fill="#ff6666" stroke="#ff6464" stroke-width="2.2"/>
<rect x="1383.56" y="852.4" width="4.964" height="0.0" fill="#ff6666" stroke="#ff6464" stroke-width="2.2"/>
<rect x="1388.53" y="831.9" width="4.964" height="20.5" fill="#ff6666" stroke="#ff6464" stroke-width="2.2"/>
<rect x="1393.49" y="848.5" width="4.964" height="3.9" fill="#ff6666" stroke="#ff6464" stroke-width="2.2"/>
<rect x="1398.45" y="831.9" width="4.964" height="20.5" fill="#ff6666" stroke="#ff6464" stroke-width="2.2"/>
<rect x="1403.42" y="842.0" width="4.964" height="10.4" fill="#ff6666" stroke="#ff6464" stroke-width="2.2"/>
<rect x="1408.38" y="842.0" width="4.964" height="10.4" fill="#ff6666" stroke="#ff6464" stroke-width="2.2"/>
<rect x="1413.35" y="835.4" width="4.964" height="17.0" fill="#ff6666" stroke="#ff6464" stroke-width="2.2"/>
<rect x="1418.31" y="842.0" width="4.964" height="10.4" fill="#ff6666" stroke="#ff6464" stroke-width="2.2"/>
<rect x="1423.27" y="852.4" width="4.964" height="0.0" fill="#ff6666" stroke="#ff6464" stroke-width="2.2"/>
<rect x="1428.24" y="828.6" width="4.964" height="23.8" fill="#ff6666" stroke="#ff6464" stroke-width="2.2"/>
<rect x="1433.20" y="852.4" width="4.964" height="0.0" fill="#ff6666" stroke="#ff6464" stroke-width="2.2"/>
<rect x="1438.17" y="835.4" width="4.964" height="17.0" fill="#ff6666" stroke="#ff6464" stroke-width="2.2"/>
<rect x="1443.13" y="852.4" width="4.964" height="0.0" fill="#ff6666" stroke="#ff6464" stroke-width="2.2"/>
<rect x="1448.09" y="845.2" width="4.964" height="7.2" fill="#ff6666" stroke="#ff6464" stroke-width="2.2"/>
<rect x="1453.06" y="842.0" width="4.964" height="10.4" fill="#ff6666" stroke="#ff6464" stroke-width="2.2"/>
<rect x="1458.02" y="848.5" width="4.964" height="3.9" fill="#ff6666" stroke="#ff6464" stroke-width="2.2"/>
<rect x="1462.99" y="845.2" width="4.964" height="7.2" fill="#ff6666" stroke="#ff6464" stroke-width="2.2"/>
<rect x="1467.95" y="852.4" width="4.964" height="0.0" fill="#ff6666" stroke="#ff6464" stroke-width="2.2"/>
<rect x="1472.91" y="852.4" width="4.964" height="0.0" fill="#ff6666" stroke="#ff6464" stroke-width="2.2"/>
<rect x="1477.88" y="852.4" width="4.964" height="0.0" fill="#ff6666" stroke="#ff6464" stroke-width="2.2"/>
<rect x="1482.84" y="852.4" width="4.964" height="0.0" fill="#ff6666" stroke="#ff6464" stroke-width="2.2"/>
<rect x="1487.81" y="845.2" width="4.964" height="7.2" fill="#ff6666" stroke="#ff6464" stroke-width="2.2"/>
<rect x="1492.77" y="848.5" width="4.964" height="3.9" fill="#ff6666" stroke="#ff6464" stroke-width="2.2"/>
<rect x="1497.73" y="852.4" width="4.964" height="0.0" fill="#ff6666" stroke="#ff6464" stroke-width="2.2"/>
<rect x="1502.70" y="848.5" width="4.964" height="3.9" fill="#ff6666" stroke="#ff6464" stroke-width="2.2"/>
<rect x="1507.66" y="852.4" width="4.964" height="0.0" fill="#ff6666" stroke="#ff6464" stroke-width="2.2"/>
<rect x="1512.63" y="852.4" width="4.964" height="0.0" fill="#ff6666" stroke="#ff6464" stroke-width="2.2"/>
<rect x="1517.59" y="852.4" width="4.964" height="0.0" fill="#ff6666" stroke="#ff6464" stroke-width="2.2"/>
<rect x="1522.55" y="852.4" width="4.964" height="0.0" fill="#ff6666" stroke="#ff6464" stroke-width="2.2"/>
<rect x="1527.52" y="848.6" width="4.964" height="3.8" fill="#ff6666" stroke="#ff6464" stroke-width="2.2"/>
<rect x="1532.48" y="852.4" width="4.964" height="0.0" fill="#ff6666" stroke="#ff6464" stroke-width="2.2"/>
<rect x="1537.45" y="852.4" width="4.964" height="0.0" fill="#ff6666" stroke="#ff6464" stroke-width="2.2"/>
<rect x="1542.41" y="852.4" width="4.964" height="0.0" fill="#ff6666" stroke="#ff6464" stroke-width="2.2"/>
<rect x="1547.37" y="852.4" width="4.964" height="0.0" fill="#ff6666" stroke="#ff6464" stroke-width="2.2"/>
<rect x="1552.34" y="852.4" width="4.964" height="0.0" fill="#ff6666" stroke="#ff6464" stroke-width="2.2"/>
<rect x="1557.30" y="852.4" width="4.964" height="0.0" fill="#ff6666" stroke="#ff6464" stroke-width="2.2"/>
<rect x="1562.27" y="848.6" width="4.964" height="3.8" fill="#ff6666" stroke="#ff6464" stroke-width="2.2"/>
<rect x="1567.23" y="852.4" width="4.964" height="0.0" fill="#ff6666" stroke="#ff6464" stroke-width="2.2"/>
<rect x="1572.19" y="852.4" width="4.964" height="0.0" fill="#ff6666" stroke="#ff6464" stroke-width="2.2"/>
<rect x="1577.16" y="848.6" width="4.964" height="3.8" fill="#ff6666" stroke="#ff6464" stroke-width="2.2"/>
<rect x="1582.12" y="852.4" width="4.964" height="0.0" fill="#ff6666" stroke="#ff6464" stroke-width="2.2"/>
<rect x="1587.09" y="852.4" width="4.964" height="0.0" fill="#ff6666" stroke="#ff6464" stroke-width="2.2"/>
<rect x="1592.05" y="852.4" width="4.964" height="0.0" fill="#ff6666" stroke="#ff6464" stroke-width="2.2"/>
<rect x="1597.01" y="852.4" width="4.964" height="0.0" fill="#ff6666" stroke="#ff6464" stroke-width="2.2"/>
<rect x="1601.98" y="852.4" width="4.964" height="0.0" fill="#ff6666" stroke="#ff6464" stroke-width="2.2"/>
<rect x="1606.94" y="852.4" width="4.964" height="0.0" fill="#ff6666" stroke="#ff6464" stroke-width="2.2"/>
<rect x="1611.91" y="852.4" width="4.964" height="0.0" fill="#ff6666" stroke="#ff6464" stroke-width="2.2"/>
<rect x="1616.87" y="852.4" width="4.964" height="0.0" fill="#ff6666" stroke="#ff6464" stroke-width="2.2"/>
<rect x="1621.83" y="852.4" width="4.964" height="0.0" fill="#ff6666" stroke="#ff6464" stroke-width="2.2"/>
<rect x="1626.80" y="848.6" width="4.964" height="3.8" fill="#ff6666" stroke="#ff6464" stroke-width="2.2"/>
<rect x="1631.76" y="852.4" width="4.964" height="0.0" fill="#ff6666" stroke="#ff6464" stroke-width="2.2"/>
<rect x="1636.73" y="852.4" width="4.964" height="0.0" fill="#ff6666" stroke="#ff6464" stroke-width="2.2"/>
<rect x="1641.69" y="852.4" width="4.964" height="0.0" fill="#ff6666" stroke="#ff6464" stroke-width="2.2"/>
<rect x="1646.65" y="852.4" width="4.964" height="0.0" fill="#ff6666" stroke="#ff6464" stroke-width="2.2"/>
<rect x="1651.62" y="852.4" width="4.964" height="0.0" fill="#ff6666" stroke="#ff6464" stroke-width="2.2"/>
<rect x="1656.58" y="852.4" width="4.964" height="0.0" fill="#ff6666" stroke="#ff6464" stroke-width="2.2"/>
<rect x="1661.55" y="848.6" width="4.964" height="3.8" fill="#ff6666" stroke="#ff6464" stroke-width="2.2"/>
<rect x="1666.51" y="852.4" width="4.964" height="0.0" fill="#ff6666" stroke="#ff6464" stroke-width="2.2"/>
<rect x="1671.47" y="852.4" width="4.964" height="0.0" fill="#ff6666" stroke="#ff6464" stroke-width="2.2"/>
<rect x="1676.44" y="848.6" width="4.964" height="3.8" fill="#ff6666" stroke="#ff6464" stroke-width="2.2"/>
<rect x="1041.05" y="808.7" width="4.964" height="43.7" fill="#6c93d2" stroke="#ff6464" stroke-width="2.2"/>
<rect x="1046.01" y="780.3" width="4.964" height="72.1" fill="#6c93d2" stroke="#ff6464" stroke-width="2.2"/>
<rect x="1050.97" y="730.2" width="4.964" height="122.2" fill="#6c93d2" stroke="#ff6464" stroke-width="2.2"/>
<rect x="1055.94" y="720.5" width="4.964" height="131.9" fill="#6c93d2" stroke="#ff6464" stroke-width="2.2"/>
<rect x="1060.90" y="700.5" width="4.964" height="151.9" fill="#6c93d2" stroke="#ff6464" stroke-width="2.2"/>
<rect x="1065.87" y="679.0" width="4.964" height="173.4" fill="#6c93d2" stroke="#ff6464" stroke-width="2.2"/>
<rect x="1070.83" y="672.1" width="4.964" height="180.3" fill="#6c93d2" stroke="#ff6464" stroke-width="2.2"/>
<rect x="1075.79" y="679.0" width="4.964" height="173.4" fill="#6c93d2" stroke="#ff6464" stroke-width="2.2"/>
<rect x="1080.76" y="657.4" width="4.964" height="195.0" fill="#6c93d2" stroke="#ff6464" stroke-width="2.2"/>
<rect x="1085.72" y="675.4" width="4.964" height="177.0" fill="#6c93d2" stroke="#ff6464" stroke-width="2.2"/>
<rect x="1090.69" y="682.3" width="4.964" height="170.1" fill="#6c93d2" stroke="#ff6464" stroke-width="2.2"/>
<rect x="1095.65" y="655.4" width="4.964" height="197.0" fill="#6c93d2" stroke="#ff6464" stroke-width="2.2"/>
<rect x="1100.61" y="677.1" width="4.964" height="175.3" fill="#6c93d2" stroke="#ff6464" stroke-width="2.2"/>
<rect x="1105.58" y="690.1" width="4.964" height="162.3" fill="#6c93d2" stroke="#ff6464" stroke-width="2.2"/>
<rect x="1110.54" y="697.0" width="4.964" height="155.4" fill="#6c93d2" stroke="#ff6464" stroke-width="2.2"/>
<rect x="1115.51" y="650.5" width="4.964" height="201.9" fill="#6c93d2" stroke="#ff6464" stroke-width="2.2"/>
<rect x="1120.47" y="638.8" width="4.964" height="213.6" fill="#6c93d2" stroke="#ff6464" stroke-width="2.2"/>
<rect x="1125.43" y="612.2" width="4.964" height="240.2" fill="#6c93d2" stroke="#ff6464" stroke-width="2.2"/>
<rect x="1130.40" y="733.9" width="4.964" height="118.5" fill="#6c93d2" stroke="#ff6464" stroke-width="2.2"/>
<rect x="1135.36" y="648.5" width="4.964" height="203.9" fill="#6c93d2" stroke="#ff6464" stroke-width="2.2"/>
<rect x="1140.33" y="624.1" width="4.964" height="228.3" fill="#6c93d2" stroke="#ff6464" stroke-width="2.2"/>
<rect x="1145.29" y="692.0" width="4.964" height="160.4" fill="#6c93d2" stroke="#ff6464" stroke-width="2.2"/>
<rect x="1150.25" y="665.2" width="4.964" height="187.2" fill="#6c93d2" stroke="#ff6464" stroke-width="2.2"/>
<rect x="1155.22" y="658.8" width="4.964" height="193.6" fill="#6c93d2" stroke="#ff6464" stroke-width="2.2"/>
<rect x="1160.18" y="662.4" width="4.964" height="190.0" fill="#6c93d2" stroke="#ff6464" stroke-width="2.2"/>
<rect x="1165.15" y="650.5" width="4.964" height="201.9" fill="#6c93d2" stroke="#ff6464" stroke-width="2.2"/>
<rect x="1170.11" y="690.1" width="4.964" height="162.3" fill="#6c93d2" stroke="#ff6464" stroke-width="2.2"/>
<rect x="1175.07" y="686.0" width="4.964" height="166.4" fill="#6c93d2" stroke="#ff6464" stroke-width="2.2"/>
<rect x="1180.04" y="713.7" width="4.964" height="138.7" fill="#6c93d2" stroke="#ff6464" stroke-width="2.2"/>
<rect x="1185.00" y="670.4" width="4.964" height="182.0" fill="#6c93d2" stroke="#ff6464" stroke-width="2.2"/>
<rect x="1189.97" y="693.6" width="4.964" height="158.8" fill="#6c93d2" stroke="#ff6464" stroke-width="2.2"/>
<rect x="1194.93" y="723.4" width="4.964" height="129.0" fill="#6c93d2" stroke="#ff6464" stroke-width="2.2"/>
<rect x="1199.89" y="700.2" width="4.964" height="152.2" fill="#6c93d2" stroke="#ff6464" stroke-width="2.2"/>
<rect x="1204.86" y="737.9" width="4.964" height="114.5" fill="#6c93d2" stroke="#ff6464" stroke-width="2.2"/>
<rect x="1209.82" y="735.1" width="4.964" height="117.3" fill="#6c93d2" stroke="#ff6464" stroke-width="2.2"/>
<rect x="1214.79" y="721.8" width="4.964" height="130.6" fill="#6c93d2" stroke="#ff6464" stroke-width="2.2"/>
<rect x="1219.75" y="775.0" width="4.964" height="77.4" fill="#6c93d2" stroke="#ff6464" stroke-width="2.2"/>
<rect x="1224.71" y="739.8" width="4.964" height="112.6" fill="#6c93d2" stroke="#ff6464" stroke-width="2.2"/>
<rect x="1229.68" y="713.5" width="4.964" height="138.9" fill="#6c93d2" stroke="#ff6464" stroke-width="2.2"/>
<rect x="1234.64" y="753.1" width="4.964" height="99.3" fill="#6c93d2" stroke="#ff6464" stroke-width="2.2"/>
<rect x="1239.61" y="741.7" width="4.964" height="110.7" fill="#6c93d2" stroke="#ff6464" stroke-width="2.2"/>
<rect x="1244.57" y="771.6" width="4.964" height="80.8" fill="#6c93d2" stroke="#ff6464" stroke-width="2.2"/>
<rect x="1249.53" y="771.6" width="4.964" height="80.8" fill="#6c93d2" stroke="#ff6464" stroke-width="2.2"/>
<rect x="1254.50" y="818.1" width="4.964" height="34.3" fill="#6c93d2" stroke="#ff6464" stroke-width="2.2"/>
<rect x="1259.46" y="751.7" width="4.964" height="100.7" fill="#6c93d2" stroke="#ff6464" stroke-width="2.2"/>
<rect x="1264.43" y="783.3" width="4.964" height="69.1" fill="#6c93d2" stroke="#ff6464" stroke-width="2.2"/>
<rect x="1269.39" y="814.5" width="4.964" height="37.9" fill="#6c93d2" stroke="#ff6464" stroke-width="2.2"/>
<rect x="1274.35" y="803.5" width="4.964" height="48.9" fill="#6c93d2" stroke="#ff6464" stroke-width="2.2"/>
<rect x="1279.32" y="804.8" width="4.964" height="47.6" fill="#6c93d2" stroke="#ff6464" stroke-width="2.2"/>
<rect x="1284.28" y="813.1" width="4.964" height="39.3" fill="#6c93d2" stroke="#ff6464" stroke-width="2.2"/>
<rect x="1289.25" y="820.1" width="4.964" height="32.3" fill="#6c93d2" stroke="#ff6464" stroke-width="2.2"/>
<rect x="1294.21" y="818.1" width="4.964" height="34.3" fill="#6c93d2" stroke="#ff6464" stroke-width="2.2"/>
<rect x="1299.17" y="811.8" width="4.964" height="40.6" fill="#6c93d2" stroke="#ff6464" stroke-width="2.2"/>
<rect x="1304.14" y="818.1" width="4.964" height="34.3" fill="#6c93d2" stroke="#ff6464" stroke-width="2.2"/>
<rect x="1309.10" y="821.5" width="4.964" height="30.9" fill="#6c93d2" stroke="#ff6464" stroke-width="2.2"/>
<rect x="1314.07" y="806.2" width="4.964" height="46.2" fill="#6c93d2" stroke="#ff6464" stroke-width="2.2"/>
<rect x="1319.03" y="836.7" width="4.964" height="15.7" fill="#6c93d2" stroke="#ff6464" stroke-width="2.2"/>
<rect x="1323.99" y="843.0" width="4.964" height="9.4" fill="#6c93d2" stroke="#ff6464" stroke-width="2.2"/>
<rect x="1328.96" y="814.5" width="4.964" height="37.9" fill="#6c93d2" stroke="#ff6464" stroke-width="2.2"/>
<rect x="1333.92" y="847.7" width="4.964" height="4.7" fill="#6c93d2" stroke="#ff6464" stroke-width="2.2"/>
<rect x="1338.89" y="821.5" width="4.964" height="30.9" fill="#6c93d2" stroke="#ff6464" stroke-width="2.2"/>
<rect x="1343.85" y="841.4" width="4.964" height="11.0" fill="#6c93d2" stroke="#ff6464" stroke-width="2.2"/>
<rect x="1348.81" y="843.7" width="4.964" height="8.7" fill="#6c93d2" stroke="#ff6464" stroke-width="2.2"/>
<rect x="1353.78" y="842.0" width="4.964" height="10.4" fill="#6c93d2" stroke="#ff6464" stroke-width="2.2"/>
<rect x="1358.74" y="843.7" width="4.964" height="8.7" fill="#6c93d2" stroke="#ff6464" stroke-width="2.2"/>
<rect x="1363.71" y="845.2" width="4.964" height="7.2" fill="#6c93d2" stroke="#ff6464" stroke-width="2.2"/>
<rect x="1368.67" y="845.2" width="4.964" height="7.2" fill="#6c93d2" stroke="#ff6464" stroke-width="2.2"/>
<rect x="1378.60" y="835.0" width="4.964" height="17.4" fill="#6c93d2" stroke="#ff6464" stroke-width="2.2"/>
<rect x="1388.53" y="843.7" width="4.964" height="8.7" fill="#6c93d2" stroke="#ff6464" stroke-width="2.2"/>
<rect x="1398.45" y="843.7" width="4.964" height="8.7" fill="#6c93d2" stroke="#ff6464" stroke-width="2.2"/>
<rect x="1403.42" y="848.5" width="4.964" height="3.9" fill="#6c93d2" stroke="#ff6464" stroke-width="2.2"/>
<rect x="1408.38" y="848.5" width="4.964" height="3.9" fill="#6c93d2" stroke="#ff6464" stroke-width="2.2"/>
<rect x="1413.35" y="845.2" width="4.964" height="7.2" fill="#6c93d2" stroke="#ff6464" stroke-width="2.2"/>
<rect x="1418.31" y="848.5" width="4.964" height="3.9" fill="#6c93d2" stroke="#ff6464" stroke-width="2.2"/>
<rect x="1428.24" y="842.0" width="4.964" height="10.4" fill="#6c93d2" stroke="#ff6464" stroke-width="2.2"/>
<rect x="1438.17" y="845.2" width="4.964" height="7.2" fill="#6c93d2" stroke="#ff6464" stroke-width="2.2"/>
<rect x="1448.09" y="849.8" width="4.964" height="2.6" fill="#6c93d2" stroke="#ff6464" stroke-width="2.2"/>
<rect x="1453.06" y="848.5" width="4.964" height="3.9" fill="#6c93d2" stroke="#ff6464" stroke-width="2.2"/>
<rect x="1462.99" y="849.8" width="4.964" height="2.6" fill="#6c93d2" stroke="#ff6464" stroke-width="2.2"/>
<rect x="1487.81" y="849.8" width="4.964" height="2.6" fill="#6c93d2" stroke="#ff6464" stroke-width="2.2"/>
<line x1="1036.08" y1="852.4" x2="1681.40" y2="852.4" stroke="#ff6464" stroke-width="2.2"/>
<polygon points="1041.2,69.6 1042.2,76.7 1043.2,83.7 1044.2,90.7 1045.2,97.7 1046.2,104.6 1047.2,111.4 1048.2,118.2 1049.2,125.0 1050.2,131.7 1051.2,138.4 1052.2,145.0 1053.2,151.6 1054.2,158.1 1055.2,164.6 1056.2,171.0 1057.2,177.4 1058.2,183.8 1059.2,190.1 1060.2,196.3 1061.2,202.5 1062.2,208.6 1063.2,214.7 1064.2,220.7 1065.2,226.7 1066.2,232.6 1067.2,238.5 1068.2,244.3 1069.2,250.0 1070.2,255.7 1071.2,261.4 1072.2,267.0 1073.2,272.5 1074.2,278.0 1075.2,283.4 1076.2,288.8 1077.2,294.1 1078.2,299.3 1079.2,304.5 1080.2,309.7 1081.2,314.7 1082.2,319.7 1083.2,324.7 1084.2,329.6 1085.2,334.4 1086.2,339.2 1087.2,343.9 1088.2,348.5 1089.2,353.1 1090.2,357.6 1091.2,362.0 1092.2,366.4 1093.2,370.7 1094.2,375.0 1095.2,379.2 1096.2,383.3 1097.2,387.3 1098.2,391.3 1099.2,395.2 1100.2,399.1 1101.2,402.9 1102.2,406.6 1103.2,410.2 1104.2,413.8 1105.2,417.3 1106.2,420.7 1107.2,424.1 1108.2,427.4 1109.2,430.6 1110.2,433.8 1111.2,436.9 1112.2,440.0 1113.2,443.0 1114.2,445.9 1115.2,448.8 1116.2,451.6 1117.2,454.4 1118.2,457.1 1119.2,459.7 1120.2,462.3 1121.2,464.9 1122.2,467.4 1123.2,469.9 1124.2,472.3 1125.2,474.7 1126.2,477.0 1127.2,479.3 1128.2,481.5 1129.2,483.7 1130.2,485.9 1131.2,488.0 1132.2,490.1 1133.2,492.2 1134.2,494.2 1135.2,496.2 1136.2,498.1 1137.2,500.1 1138.2,501.9 1139.2,503.8 1140.2,505.6 1141.2,507.4 1142.2,509.2 1143.2,510.9 1144.2,512.6 1145.2,514.3 1146.2,515.9 1147.2,517.5 1148.2,519.1 1149.2,520.7 1150.2,522.2 1151.2,523.7 1152.2,525.2 1153.2,526.6 1154.2,528.0 1155.2,529.4 1156.2,530.8 1157.2,532.1 1158.2,533.4 1159.2,534.7 1160.2,536.0 1161.2,537.2 1162.2,538.4 1163.2,539.6 1164.2,540.8 1165.2,541.9 1166.2,543.1 1167.2,544.2 1168.2,545.2 1169.2,546.3 1170.2,547.3 1171.2,548.3 1172.2,549.3 1173.2,550.3 1174.2,551.3 1175.2,552.2 1176.2,553.1 1177.2,554.0 1178.2,554.9 1179.2,555.8 1180.2,556.6 1181.2,557.4 1182.2,558.3 1183.2,559.1 1184.2,559.8 1185.2,560.6 1186.2,561.4 1187.2,562.1 1188.2,562.8 1189.2,563.5 1190.2,564.2 1191.2,564.9 1192.2,565.6 1193.2,566.2 1194.2,566.9 1195.2,567.5 1196.2,568.1 1197.2,568.7 1198.2,569.3 1199.2,569.9 1200.2,570.5 1201.2,571.0 1202.2,571.6 1203.2,572.1 1204.2,572.6 1205.2,573.1 1206.2,573.6 1207.2,574.1 1208.2,574.6 1209.2,575.1 1210.2,575.5 1211.2,576.0 1212.2,576.4 1213.2,576.8 1214.2,577.3 1215.2,577.7 1216.2,578.1 1217.2,578.4 1218.2,578.8 1219.2,579.2 1220.2,579.5 1221.2,579.9 1222.2,580.2 1223.2,580.6 1224.2,580.9 1225.2,581.2 1226.2,581.5 1227.2,581.8 1228.2,582.1 1229.2,582.3 1230.2,582.6 1231.2,582.8 1232.2,583.1 1233.2,583.3 1234.2,583.6 1235.2,583.8 1236.2,584.0 1237.2,584.2 1238.2,584.4 1239.2,584.6 1240.2,584.8 1241.2,584.9 1242.2,585.1 1243.2,585.3 1244.2,585.4 1245.2,585.6 1246.2,585.7 1247.2,585.8 1248.2,586.0 1249.2,586.1 1250.2,586.2 1251.2,586.3 1252.2,586.4 1253.2,586.5 1254.2,586.6 1255.2,586.7 1256.2,586.7 1257.2,586.8 1258.2,586.9 1259.2,586.9 1260.2,587.0 1261.2,587.0 1262.2,587.0 1263.2,587.1 1264.2,587.1 1265.2,587.1 1266.2,587.1 1267.2,587.2 1268.2,587.2 1269.2,587.2 1270.2,587.2 1271.2,587.2 1272.2,587.2 1273.2,587.1 1274.2,587.1 1275.2,587.1 1276.2,587.1 1277.2,587.0 1278.2,587.0 1279.2,587.0 1280.2,586.9 1281.2,586.9 1282.2,586.8 1283.2,586.7 1284.2,586.7 1285.2,586.6 1286.2,586.5 1287.2,586.5 1288.2,586.4 1289.2,586.3 1290.2,586.2 1291.2,586.1 1292.2,586.0 1293.2,585.9 1294.2,585.8 1295.2,585.7 1296.2,585.6 1297.2,585.5 1298.2,585.4 1299.2,585.3 1300.2,585.2 1301.2,585.0 1302.2,584.9 1303.2,584.8 1304.2,584.7 1305.2,584.5 1306.2,584.4 1307.2,584.2 1308.2,584.1 1309.2,583.9 1310.2,583.8 1311.2,583.6 1312.2,583.5 1313.2,583.3 1314.2,583.1 1315.2,583.0 1316.2,582.8 1317.2,582.6 1318.2,582.4 1319.2,582.3 1320.2,582.1 1321.2,581.9 1322.2,581.7 1323.2,581.5 1324.2,581.3 1325.2,581.1 1326.2,581.0 1327.2,580.8 1328.2,580.6 1329.2,580.4 1330.2,580.2 1331.2,579.9 1332.2,579.7 1333.2,579.5 1334.2,579.3 1335.2,579.1 1336.2,578.9 1337.2,578.7 1338.2,578.4 1339.2,578.2 1340.2,578.0 1341.2,577.8 1342.2,577.5 1343.2,577.3 1344.2,577.1 1345.2,576.9 1346.2,576.6 1347.2,576.4 1348.2,576.2 1349.2,575.9 1350.2,575.7 1351.2,575.4 1352.2,575.2 1353.2,575.0 1354.2,574.7 1355.2,574.5 1356.2,574.2 1357.2,574.0 1358.2,573.7 1359.2,573.5 1360.2,573.2 1361.2,573.0 1362.2,572.7 1363.2,572.5 1364.2,572.2 1365.2,572.0 1366.2,571.7 1367.2,571.5 1368.2,571.2 1369.2,571.0 1370.2,570.7 1371.2,570.4 1372.2,570.2 1373.2,569.9 1374.2,569.7 1375.2,569.4 1376.2,569.2 1377.2,568.9 1378.2,568.6 1379.2,568.4 1380.2,568.1 1381.2,567.9 1382.2,567.6 1383.2,567.4 1384.2,567.1 1385.2,566.8 1386.2,566.6 1387.2,566.3 1388.2,566.1 1389.2,565.8 1390.2,565.5 1391.2,565.3 1392.2,565.0 1393.2,564.8 1394.2,564.5 1395.2,564.2 1396.2,564.0 1397.2,563.7 1398.2,563.5 1399.2,563.2 1400.2,562.9 1401.2,562.7 1402.2,562.4 1403.2,562.2 1404.2,561.9 1405.2,561.7 1406.2,561.4 1407.2,561.1 1408.2,560.9 1409.2,560.6 1410.2,560.3 1411.2,560.1 1412.2,559.8 1413.2,559.6 1414.2,559.3 1415.2,559.0 1416.2,558.8 1417.2,558.5 1418.2,558.3 1419.2,558.0 1420.2,557.7 1421.2,557.5 1422.2,557.2 1423.2,557.0 1424.2,556.7 1425.2,556.4 1426.2,556.2 1427.2,555.9 1428.2,555.6 1429.2,555.4 1430.2,555.1 1431.2,554.9 1432.2,554.6 1433.2,554.3 1434.2,554.1 1435.2,553.8 1436.2,553.5 1437.2,553.3 1438.2,553.0 1439.2,552.8 1440.2,552.5 1441.2,552.2 1442.2,552.0 1443.2,551.7 1444.2,551.4 1445.2,551.2 1446.2,550.9 1447.2,550.6 1448.2,550.4 1449.2,550.1 1450.2,549.8 1451.2,549.6 1452.2,549.3 1453.2,549.0 1454.2,548.8 1455.2,548.5 1456.2,548.2 1457.2,548.0 1458.2,547.7 1459.2,547.4 1460.2,547.2 1461.2,546.9 1462.2,546.6 1463.2,546.4 1464.2,546.1 1465.2,545.8 1466.2,545.6 1467.2,545.3 1468.2,545.0 1469.2,544.8 1470.2,544.5 1471.2,544.2 1472.2,543.9 1473.2,543.7 1474.2,543.4 1475.2,543.1 1476.2,542.9 1477.2,542.6 1478.2,542.3 1479.2,542.0 1480.2,541.8 1481.2,541.5 1482.2,541.2 1483.2,541.0 1484.2,540.7 1485.2,540.4 1486.2,540.1 1487.2,539.9 1488.2,539.6 1489.2,539.3 1490.2,539.0 1491.2,538.8 1492.2,538.5 1493.2,538.2 1494.2,537.9 1495.2,537.7 1496.2,537.4 1497.2,537.1 1498.2,536.8 1499.2,536.6 1500.2,536.3 1501.2,536.0 1502.2,535.7 1503.2,535.5 1504.2,535.2 1505.2,534.9 1506.2,534.6 1507.2,534.3 1508.2,534.1 1509.2,533.8 1510.2,533.5 1511.2,533.2 1512.2,532.9 1513.2,532.7 1514.2,532.4 1515.2,532.1 1516.2,531.8 1517.2,531.5 1518.2,531.3 1519.2,531.0 1520.2,530.7 1521.2,530.4 1522.2,530.1 1523.2,529.8 1524.2,529.6 1525.2,529.3 1526.2,529.0 1527.2,528.7 1528.2,528.4 1529.2,528.1 1530.2,527.8 1531.2,527.6 1532.2,527.3 1533.2,527.0 1534.2,526.7 1535.2,526.4 1536.2,526.1 1537.2,525.8 1538.2,525.5 1539.2,525.3 1540.2,525.0 1541.2,524.7 1542.2,524.4 1543.2,524.1 1544.2,523.8 1545.2,523.5 1546.2,523.2 1547.2,522.9 1548.2,522.6 1549.2,522.4 1550.2,522.1 1551.2,521.8 1552.2,521.5 1553.2,521.2 1554.2,520.9 1555.2,520.6 1556.2,520.3 1557.2,520.0 1558.2,519.7 1559.2,519.4 1560.2,519.1 1561.2,518.8 1562.2,518.5 1563.2,518.2 1564.2,517.9 1565.2,517.6 1566.2,517.3 1567.2,517.0 1568.2,516.7 1569.2,516.4 1570.2,516.1 1571.2,515.8 1572.2,515.5 1573.2,515.2 1574.2,514.9 1575.2,514.6 1576.2,514.3 1577.2,514.0 1578.2,513.7 1579.2,513.4 1580.2,513.1 1581.2,512.8 1582.2,512.5 1583.2,512.2 1584.2,511.9 1585.2,511.6 1586.2,511.2 1587.2,510.9 1588.2,510.6 1589.2,510.3 1590.2,510.0 1591.2,509.7 1592.2,509.4 1593.2,509.1 1594.2,508.8 1595.2,508.5 1596.2,508.1 1597.2,507.8 1598.2,507.5 1599.2,507.2 1600.2,506.9 1601.2,506.6 1602.2,506.3 1603.2,505.9 1604.2,505.6 1605.2,505.3 1606.2,505.0 1607.2,504.7 1608.2,504.4 1609.2,504.0 1610.2,503.7 1611.2,503.4 1612.2,503.1 1613.2,502.8 1614.2,502.4 1615.2,502.1 1616.2,501.8 1617.2,501.5 1618.2,501.2 1619.2,500.8 1620.2,500.5 1621.2,500.2 1622.2,499.9 1623.2,499.5 1624.2,499.2 1625.2,498.9 1626.2,498.6 1627.2,498.2 1628.2,497.9 1629.2,497.6 1630.2,497.2 1631.2,496.9 1632.2,496.6 1633.2,496.3 1634.2,495.9 1635.2,495.6 1636.2,495.3 1637.2,494.9 1638.2,494.6 1639.2,494.3 1640.2,493.9 1641.2,493.6 1642.2,493.3 1643.2,492.9 1644.2,492.6 1645.2,492.2 1646.2,491.9 1647.2,491.6 1648.2,491.2 1649.2,490.9 1650.2,490.5 1651.2,490.2 1652.2,489.9 1653.2,489.5 1654.2,489.2 1655.2,488.8 1656.2,488.5 1657.2,488.1 1658.2,487.8 1659.2,487.5 1660.2,487.1 1661.2,486.8 1662.2,486.4 1663.2,486.1 1664.2,485.7 1665.2,485.4 1666.2,485.0 1667.2,484.7 1668.2,484.3 1669.2,484.0 1670.2,483.6 1671.2,483.3 1672.2,482.9 1673.2,482.6 1674.2,482.2 1675.2,481.9 1676.2,481.5 1677.2,481.1 1678.2,480.8 1679.0,480.5 1679.0,733.8 1678.2,733.7 1677.2,733.5 1676.2,733.3 1675.2,733.1 1674.2,732.9 1673.2,732.7 1672.2,732.5 1671.2,732.3 1670.2,732.1 1669.2,731.9 1668.2,731.7 1667.2,731.5 1666.2,731.3 1665.2,731.1 1664.2,730.9 1663.2,730.7 1662.2,730.5 1661.2,730.3 1660.2,730.1 1659.2,729.9 1658.2,729.7 1657.2,729.5 1656.2,729.3 1655.2,729.1 1654.2,728.9 1653.2,728.7 1652.2,728.5 1651.2,728.3 1650.2,728.1 1649.2,727.9 1648.2,727.7 1647.2,727.5 1646.2,727.3 1645.2,727.1 1644.2,726.9 1643.2,726.7 1642.2,726.5 1641.2,726.3 1640.2,726.1 1639.2,725.9 1638.2,725.7 1637.2,725.5 1636.2,725.3 1635.2,725.1 1634.2,724.9 1633.2,724.7 1632.2,724.5 1631.2,724.3 1630.2,724.1 1629.2,723.8 1628.2,723.6 1627.2,723.4 1626.2,723.2 1625.2,723.0 1624.2,722.8 1623.2,722.6 1622.2,722.4 1621.2,722.2 1620.2,722.0 1619.2,721.8 1618.2,721.5 1617.2,721.3 1616.2,721.1 1615.2,720.9 1614.2,720.7 1613.2,720.5 1612.2,720.3 1611.2,720.1 1610.2,719.9 1609.2,719.6 1608.2,719.4 1607.2,719.2 1606.2,719.0 1605.2,718.8 1604.2,718.6 1603.2,718.4 1602.2,718.1 1601.2,717.9 1600.2,717.7 1599.2,717.5 1598.2,717.3 1597.2,717.1 1596.2,716.8 1595.2,716.6 1594.2,716.4 1593.2,716.2 1592.2,716.0 1591.2,715.8 1590.2,715.5 1589.2,715.3 1588.2,715.1 1587.2,714.9 1586.2,714.7 1585.2,714.4 1584.2,714.2 1583.2,714.0 1582.2,713.8 1581.2,713.6 1580.2,713.3 1579.2,713.1 1578.2,712.9 1577.2,712.7 1576.2,712.5 1575.2,712.2 1574.2,712.0 1573.2,711.8 1572.2,711.6 1571.2,711.4 1570.2,711.1 1569.2,710.9 1568.2,710.7 1567.2,710.5 1566.2,710.2 1565.2,710.0 1564.2,709.8 1563.2,709.6 1562.2,709.3 1561.2,709.1 1560.2,708.9 1559.2,708.7 1558.2,708.4 1557.2,708.2 1556.2,708.0 1555.2,707.8 1554.2,707.5 1553.2,707.3 1552.2,707.1 1551.2,706.9 1550.2,706.6 1549.2,706.4 1548.2,706.2 1547.2,705.9 1546.2,705.7 1545.2,705.5 1544.2,705.3 1543.2,705.0 1542.2,704.8 1541.2,704.6 1540.2,704.3 1539.2,704.1 1538.2,703.9 1537.2,703.7 1536.2,703.4 1535.2,703.2 1534.2,703.0 1533.2,702.7 1532.2,702.5 1531.2,702.3 1530.2,702.0 1529.2,701.8 1528.2,701.6 1527.2,701.4 1526.2,701.1 1525.2,700.9 1524.2,700.7 1523.2,700.4 1522.2,700.2 1521.2,700.0 1520.2,699.7 1519.2,699.5 1518.2,699.3 1517.2,699.0 1516.2,698.8 1515.2,698.6 1514.2,698.3 1513.2,698.1 1512.2,697.9 1511.2,697.6 1510.2,697.4 1509.2,697.2 1508.2,696.9 1507.2,696.7 1506.2,696.4 1505.2,696.2 1504.2,696.0 1503.2,695.7 1502.2,695.5 1501.2,695.3 1500.2,695.0 1499.2,694.8 1498.2,694.6 1497.2,694.3 1496.2,694.1 1495.2,693.8 1494.2,693.6 1493.2,693.4 1492.2,693.1 1491.2,692.9 1490.2,692.7 1489.2,692.4 1488.2,692.2 1487.2,691.9 1486.2,691.7 1485.2,691.5 1484.2,691.2 1483.2,691.0 1482.2,690.8 1481.2,690.5 1480.2,690.3 1479.2,690.0 1478.2,689.8 1477.2,689.6 1476.2,689.3 1475.2,689.1 1474.2,688.8 1473.2,688.6 1472.2,688.4 1471.2,688.1 1470.2,687.9 1469.2,687.6 1468.2,687.4 1467.2,687.2 1466.2,686.9 1465.2,686.7 1464.2,686.4 1463.2,686.2 1462.2,685.9 1461.2,685.7 1460.2,685.5 1459.2,685.2 1458.2,685.0 1457.2,684.7 1456.2,684.5 1455.2,684.2 1454.2,684.0 1453.2,683.8 1452.2,683.5 1451.2,683.3 1450.2,683.0 1449.2,682.8 1448.2,682.5 1447.2,682.3 1446.2,682.1 1445.2,681.8 1444.2,681.6 1443.2,681.3 1442.2,681.1 1441.2,680.8 1440.2,680.6 1439.2,680.4 1438.2,680.1 1437.2,679.9 1436.2,679.6 1435.2,679.4 1434.2,679.1 1433.2,678.9 1432.2,678.6 1431.2,678.4 1430.2,678.2 1429.2,677.9 1428.2,677.7 1427.2,677.4 1426.2,677.2 1425.2,676.9 1424.2,676.7 1423.2,676.4 1422.2,676.2 1421.2,675.9 1420.2,675.7 1419.2,675.5 1418.2,675.2 1417.2,675.0 1416.2,674.7 1415.2,674.5 1414.2,674.2 1413.2,674.0 1412.2,673.7 1411.2,673.5 1410.2,673.2 1409.2,673.0 1408.2,672.7 1407.2,672.5 1406.2,672.3 1405.2,672.0 1404.2,671.8 1403.2,671.5 1402.2,671.3 1401.2,671.0 1400.2,670.8 1399.2,670.5 1398.2,670.3 1397.2,670.0 1396.2,669.8 1395.2,669.5 1394.2,669.3 1393.2,669.0 1392.2,668.8 1391.2,668.5 1390.2,668.3 1389.2,668.1 1388.2,667.8 1387.2,667.6 1386.2,667.3 1385.2,667.1 1384.2,666.8 1383.2,666.6 1382.2,666.3 1381.2,666.1 1380.2,665.8 1379.2,665.6 1378.2,665.3 1377.2,665.1 1376.2,664.8 1375.2,664.6 1374.2,664.3 1373.2,664.1 1372.2,663.8 1371.2,663.6 1370.2,663.3 1369.2,663.1 1368.2,662.8 1367.2,662.6 1366.2,662.3 1365.2,662.1 1364.2,661.9 1363.2,661.6 1362.2,661.4 1361.2,661.1 1360.2,660.9 1359.2,660.6 1358.2,660.4 1357.2,660.1 1356.2,659.9 1355.2,659.6 1354.2,659.4 1353.2,659.1 1352.2,658.9 1351.2,658.6 1350.2,658.4 1349.2,658.1 1348.2,657.9 1347.2,657.6 1346.2,657.4 1345.2,657.1 1344.2,656.9 1343.2,656.6 1342.2,656.4 1341.2,656.1 1340.2,655.9 1339.2,655.6 1338.2,655.4 1337.2,655.1 1336.2,654.9 1335.2,654.6 1334.2,654.4 1333.2,654.1 1332.2,653.9 1331.2,653.6 1330.2,653.4 1329.2,653.2 1328.2,652.9 1327.2,652.7 1326.2,652.4 1325.2,652.2 1324.2,651.9 1323.2,651.7 1322.2,651.4 1321.2,651.2 1320.2,650.9 1319.2,650.7 1318.2,650.4 1317.2,650.2 1316.2,649.9 1315.2,649.7 1314.2,649.4 1313.2,649.2 1312.2,648.9 1311.2,648.7 1310.2,648.4 1309.2,648.2 1308.2,647.9 1307.2,647.7 1306.2,647.4 1305.2,647.2 1304.2,646.9 1303.2,646.7 1302.2,646.4 1301.2,646.2 1300.2,646.0 1299.2,645.7 1298.2,645.5 1297.2,645.2 1296.2,645.0 1295.2,644.7 1294.2,644.5 1293.2,644.2 1292.2,644.0 1291.2,643.7 1290.2,643.5 1289.2,643.2 1288.2,643.0 1287.2,642.7 1286.2,642.5 1285.2,642.2 1284.2,642.0 1283.2,641.8 1282.2,641.5 1281.2,641.3 1280.2,641.0 1279.2,640.8 1278.2,640.5 1277.2,640.3 1276.2,640.0 1275.2,639.8 1274.2,639.5 1273.2,639.3 1272.2,639.0 1271.2,638.8 1270.2,638.6 1269.2,638.3 1268.2,638.1 1267.2,637.8 1266.2,637.6 1265.2,637.3 1264.2,637.1 1263.2,636.8 1262.2,636.6 1261.2,636.3 1260.2,636.1 1259.2,635.9 1258.2,635.6 1257.2,635.4 1256.2,635.1 1255.2,634.9 1254.2,634.6 1253.2,634.4 1252.2,634.1 1251.2,633.9 1250.2,633.7 1249.2,633.4 1248.2,633.2 1247.2,632.9 1246.2,632.7 1245.2,632.4 1244.2,632.2 1243.2,631.9 1242.2,631.7 1241.2,631.5 1240.2,631.2 1239.2,631.0 1238.2,630.7 1237.2,630.5 1236.2,630.2 1235.2,630.0 1234.2,629.8 1233.2,629.5 1232.2,629.3 1231.2,629.0 1230.2,628.8 1229.2,628.5 1228.2,628.3 1227.2,628.1 1226.2,627.8 1225.2,627.6 1224.2,627.3 1223.2,627.1 1222.2,626.8 1221.2,626.6 1220.2,626.3 1219.2,626.0 1218.2,625.8 1217.2,625.5 1216.2,625.3 1215.2,625.0 1214.2,624.7 1213.2,624.5 1212.2,624.2 1211.2,623.9 1210.2,623.7 1209.2,623.4 1208.2,623.1 1207.2,622.8 1206.2,622.5 1205.2,622.3 1204.2,622.0 1203.2,621.7 1202.2,621.4 1201.2,621.1 1200.2,620.8 1199.2,620.5 1198.2,620.1 1197.2,619.8 1196.2,619.5 1195.2,619.2 1194.2,618.8 1193.2,618.5 1192.2,618.2 1191.2,617.8 1190.2,617.5 1189.2,617.1 1188.2,616.8 1187.2,616.4 1186.2,616.0 1185.2,615.7 1184.2,615.3 1183.2,614.9 1182.2,614.5 1181.2,614.1 1180.2,613.7 1179.2,613.3 1178.2,612.9 1177.2,612.5 1176.2,612.1 1175.2,611.6 1174.2,611.2 1173.2,610.8 1172.2,610.3 1171.2,609.9 1170.2,609.4 1169.2,608.9 1168.2,608.4 1167.2,608.0 1166.2,607.5 1165.2,607.0 1164.2,606.5 1163.2,606.0 1162.2,605.4 1161.2,604.9 1160.2,604.4 1159.2,603.8 1158.2,603.3 1157.2,602.7 1156.2,602.1 1155.2,601.6 1154.2,601.0 1153.2,600.4 1152.2,599.8 1151.2,599.2 1150.2,598.5 1149.2,597.9 1148.2,597.3 1147.2,596.6 1146.2,596.0 1145.2,595.3 1144.2,594.6 1143.2,593.9 1142.2,593.2 1141.2,592.5 1140.2,591.8 1139.2,591.1 1138.2,590.3 1137.2,589.6 1136.2,588.8 1135.2,588.1 1134.2,587.3 1133.2,586.5 1132.2,585.7 1131.2,584.9 1130.2,584.1 1129.2,583.2 1128.2,582.4 1127.2,581.5 1126.2,580.7 1125.2,579.8 1124.2,578.9 1123.2,578.0 1122.2,577.1 1121.2,576.2 1120.2,575.3 1119.2,574.3 1118.2,573.4 1117.2,572.4 1116.2,571.5 1115.2,570.5 1114.2,569.5 1113.2,568.5 1112.2,567.5 1111.2,566.5 1110.2,565.5 1109.2,564.5 1108.2,563.5 1107.2,562.4 1106.2,561.4 1105.2,560.3 1104.2,559.2 1103.2,558.2 1102.2,557.1 1101.2,556.0 1100.2,554.9 1099.2,553.8 1098.2,552.7 1097.2,551.6 1096.2,550.4 1095.2,549.3 1094.2,548.2 1093.2,547.0 1092.2,545.9 1091.2,544.7 1090.2,543.5 1089.2,542.4 1088.2,541.2 1087.2,540.0 1086.2,538.8 1085.2,537.6 1084.2,536.4 1083.2,535.2 1082.2,534.0 1081.2,532.8 1080.2,531.5 1079.2,530.3 1078.2,529.1 1077.2,527.8 1076.2,526.6 1075.2,525.3 1074.2,524.1 1073.2,522.8 1072.2,521.5 1071.2,520.3 1070.2,519.0 1069.2,517.7 1068.2,516.4 1067.2,515.1 1066.2,513.8 1065.2,512.6 1064.2,511.2 1063.2,509.9 1062.2,508.6 1061.2,507.3 1060.2,506.0 1059.2,504.7 1058.2,503.4 1057.2,502.0 1056.2,500.7 1055.2,499.4 1054.2,498.0 1053.2,496.7 1052.2,495.4 1051.2,494.0 1050.2,492.7 1049.2,491.3 1048.2,490.0 1047.2,488.6 1046.2,487.3 1045.2,485.9 1044.2,484.6 1043.2,483.2 1042.2,481.8 1041.2,480.5" fill="rgb(248,118,109)" fill-opacity="0.32"/>
<polygon points="1041.3,96.0 1042.1,101.7 1043.0,107.3 1043.8,112.9 1044.6,118.4 1045.5,123.9 1046.3,129.4 1047.1,134.9 1048.0,140.3 1048.8,145.7 1049.6,151.1 1050.5,156.5 1051.3,161.8 1052.1,167.1 1053.0,172.4 1053.8,177.7 1054.6,182.9 1055.5,188.2 1056.3,193.4 1057.2,198.6 1058.0,203.8 1058.8,209.0 1059.7,214.2 1060.5,219.3 1061.3,224.5 1062.2,229.7 1063.0,234.8 1063.8,240.0 1064.7,245.1 1065.5,250.3 1066.3,255.4 1067.2,260.5 1068.0,265.6 1068.8,270.6 1069.7,275.6 1070.5,280.5 1071.4,285.4 1072.2,290.2 1073.0,294.9 1073.9,299.6 1074.7,304.2 1075.5,308.7 1076.4,313.1 1077.2,317.4 1078.0,321.6 1078.9,325.7 1079.7,329.7 1080.5,333.6 1081.4,337.5 1082.2,341.2 1083.0,345.0 1083.9,348.7 1084.7,352.4 1085.6,356.0 1086.4,359.6 1087.2,363.2 1088.1,366.8 1088.9,370.3 1089.7,373.8 1090.6,377.3 1091.4,380.8 1092.2,384.3 1093.1,387.7 1093.9,391.1 1094.7,394.4 1095.6,397.8 1096.4,401.1 1097.2,404.4 1098.1,407.6 1098.9,410.9 1099.8,414.1 1100.6,417.2 1101.4,420.4 1102.3,423.5 1103.1,426.6 1103.9,429.6 1104.8,432.7 1105.6,435.7 1106.4,438.6 1107.3,441.6 1108.1,444.5 1108.9,447.4 1109.8,450.2 1110.6,453.0 1111.4,455.8 1112.3,458.6 1113.1,461.3 1114.0,464.0 1114.8,466.7 1115.6,469.3 1116.5,471.9 1117.3,474.4 1118.1,477.0 1119.0,479.5 1119.8,481.9 1120.6,484.4 1121.5,486.8 1122.3,489.1 1123.1,491.5 1124.0,493.8 1124.8,496.1 1125.6,498.3 1126.5,500.5 1127.3,502.7 1128.2,504.9 1129.0,507.0 1129.8,509.1 1130.7,511.2 1131.5,513.2 1132.3,515.2 1133.2,517.2 1134.0,519.2 1134.8,521.1 1135.7,523.0 1136.5,524.8 1137.3,526.7 1138.2,528.5 1139.0,530.3 1139.8,532.1 1140.7,533.8 1141.5,535.5 1142.4,537.2 1143.2,538.8 1144.0,540.5 1144.9,542.1 1145.7,543.7 1146.5,545.2 1147.4,546.7 1148.2,548.2 1149.0,549.7 1149.9,551.2 1150.7,552.6 1151.5,554.0 1152.4,555.4 1153.2,556.8 1154.0,558.1 1154.9,559.5 1155.7,560.7 1156.6,562.0 1157.4,563.3 1158.2,564.5 1159.1,565.7 1159.9,566.9 1160.7,568.1 1161.6,569.2 1162.4,570.3 1163.2,571.4 1164.1,572.5 1164.9,573.6 1165.7,574.6 1166.6,575.7 1167.4,576.7 1168.2,577.7 1169.1,578.6 1169.9,579.6 1170.8,580.5 1171.6,581.4 1172.4,582.3 1173.3,583.2 1174.1,584.1 1174.9,584.9 1175.8,585.7 1176.6,586.5 1177.4,587.3 1178.3,588.1 1179.1,588.9 1179.9,589.6 1180.8,590.3 1181.6,591.0 1182.4,591.7 1183.3,592.4 1184.1,593.1 1185.0,593.7 1185.8,594.4 1186.6,595.0 1187.5,595.6 1188.3,596.2 1189.1,596.8 1190.0,597.4 1190.8,597.9 1191.6,598.5 1192.5,599.0 1193.3,599.5 1194.1,600.0 1195.0,600.5 1195.8,601.0 1196.6,601.5 1197.5,601.9 1198.3,602.4 1199.2,602.8 1200.0,603.3 1200.8,603.7 1201.7,604.1 1202.5,604.5 1203.3,604.9 1204.2,605.3 1205.0,605.6 1205.8,606.0 1206.7,606.3 1207.5,606.7 1208.3,607.0 1209.2,607.3 1210.0,607.7 1210.8,608.0 1211.7,608.3 1212.5,608.6 1213.3,608.9 1214.2,609.2 1215.0,609.4 1215.9,609.7 1216.7,610.0 1217.5,610.2 1218.4,610.5 1219.2,610.7 1220.0,611.0 1220.9,611.2 1221.7,611.4 1222.0,611.5 1222.9,611.4 1223.7,611.2 1224.5,611.1 1225.4,610.9 1226.2,610.7 1227.0,610.6 1227.9,610.4 1228.7,610.2 1229.6,610.0 1230.4,609.9 1231.2,609.7 1232.1,609.5 1232.9,609.4 1233.7,609.2 1234.6,609.0 1235.4,608.8 1236.2,608.7 1237.1,608.5 1237.9,608.3 1238.7,608.1 1239.6,608.0 1240.4,607.8 1241.2,607.6 1242.1,607.4 1242.9,607.3 1243.8,607.1 1244.6,606.9 1245.4,606.7 1246.3,606.5 1247.1,606.4 1247.9,606.2 1248.8,606.0 1249.6,605.8 1250.4,605.7 1251.3,605.5 1252.1,605.3 1252.9,605.1 1253.8,604.9 1254.6,604.8 1255.4,604.6 1256.3,604.4 1257.1,604.2 1258.0,604.0 1258.8,603.9 1259.6,603.7 1260.5,603.5 1261.3,603.3 1262.1,603.1 1263.0,602.9 1263.8,602.8 1264.6,602.6 1265.5,602.4 1266.3,602.2 1267.1,602.0 1268.0,601.8 1268.8,601.7 1269.6,601.5 1270.5,601.3 1271.3,601.1 1272.2,600.9 1273.0,600.7 1273.8,600.5 1274.7,600.4 1275.5,600.2 1276.3,600.0 1277.2,599.8 1278.0,599.6 1278.8,599.4 1279.7,599.2 1280.5,599.0 1281.3,598.9 1282.2,598.7 1283.0,598.5 1283.8,598.3 1284.7,598.1 1285.5,597.9 1286.4,597.7 1287.2,597.5 1288.0,597.3 1288.9,597.2 1289.7,597.0 1290.5,596.8 1291.4,596.6 1292.2,596.4 1293.0,596.2 1293.9,596.0 1294.7,595.8 1295.5,595.6 1296.4,595.4 1297.2,595.2 1298.0,595.0 1298.9,594.8 1299.7,594.6 1300.6,594.4 1301.4,594.3 1302.2,594.1 1303.1,593.9 1303.9,593.7 1304.7,593.5 1305.6,593.3 1306.4,593.1 1307.2,592.9 1308.1,592.7 1308.9,592.5 1309.7,592.3 1310.6,592.1 1311.4,591.9 1312.2,591.7 1313.1,591.5 1313.9,591.3 1314.8,591.1 1315.6,590.9 1316.4,590.7 1317.3,590.5 1318.1,590.3 1318.9,590.1 1319.8,589.9 1320.6,589.7 1321.4,589.5 1322.3,589.3 1323.1,589.1 1323.9,588.9 1324.8,588.7 1325.6,588.5 1326.4,588.3 1327.3,588.1 1328.1,587.9 1329.0,587.7 1329.8,587.5 1330.6,587.3 1331.5,587.1 1332.3,586.9 1333.1,586.7 1334.0,586.5 1334.8,586.2 1335.6,586.0 1336.5,585.8 1337.3,585.6 1338.1,585.4 1339.0,585.2 1339.8,585.0 1340.6,584.8 1341.5,584.6 1342.3,584.4 1343.2,584.2 1344.0,584.0 1344.8,583.8 1345.7,583.6 1346.5,583.3 1347.3,583.1 1348.2,582.9 1349.0,582.7 1349.8,582.5 1350.7,582.3 1351.5,582.1 1352.3,581.9 1353.2,581.7 1354.0,581.5 1354.8,581.2 1355.7,581.0 1356.5,580.8 1357.4,580.6 1358.2,580.4 1359.0,580.2 1359.9,580.0 1360.7,579.8 1361.5,579.6 1362.4,579.3 1363.2,579.1 1364.0,578.9 1364.9,578.7 1365.7,578.5 1366.5,578.3 1367.4,578.1 1368.2,577.8 1369.0,577.6 1369.9,577.4 1370.7,577.2 1371.5,577.0 1372.4,576.8 1373.2,576.5 1374.1,576.3 1374.9,576.1 1375.7,575.9 1376.6,575.7 1377.4,575.5 1378.2,575.2 1379.1,575.0 1379.9,574.8 1380.7,574.6 1381.6,574.4 1382.4,574.2 1383.2,573.9 1384.1,573.7 1384.9,573.5 1385.7,573.3 1386.6,573.1 1387.4,572.8 1388.3,572.6 1389.1,572.4 1389.9,572.2 1390.8,571.9 1391.6,571.7 1392.4,571.5 1393.3,571.3 1394.1,571.1 1394.9,570.8 1395.8,570.6 1396.6,570.4 1397.4,570.2 1398.3,569.9 1399.1,569.7 1399.9,569.5 1400.8,569.3 1401.6,569.1 1402.5,568.8 1403.3,568.6 1404.1,568.4 1405.0,568.2 1405.8,567.9 1406.6,567.7 1407.5,567.5 1408.3,567.2 1409.1,567.0 1410.0,566.8 1410.8,566.6 1411.6,566.3 1412.5,566.1 1413.3,565.9 1414.1,565.7 1415.0,565.4 1415.8,565.2 1416.7,565.0 1417.5,564.7 1418.3,564.5 1419.2,564.3 1420.0,564.1 1420.8,563.8 1421.7,563.6 1422.5,563.4 1423.3,563.1 1424.2,562.9 1425.0,562.7 1425.8,562.5 1426.7,562.2 1427.5,562.0 1428.3,561.8 1429.2,561.5 1430.0,561.3 1430.9,561.1 1431.7,560.8 1432.5,560.6 1433.4,560.4 1434.2,560.1 1435.0,559.9 1435.9,559.7 1436.7,559.4 1437.5,559.2 1438.4,559.0 1439.2,558.7 1440.0,558.5 1440.9,558.3 1441.7,558.0 1442.5,557.8 1443.4,557.6 1444.2,557.3 1445.1,557.1 1445.9,556.9 1446.7,556.6 1447.6,556.4 1448.4,556.1 1449.2,555.9 1450.1,555.7 1450.9,555.4 1451.7,555.2 1452.6,555.0 1453.4,554.7 1454.2,554.5 1455.1,554.2 1455.9,554.0 1456.7,553.8 1457.6,553.5 1458.4,553.3 1459.3,553.1 1460.1,552.8 1460.9,552.6 1461.8,552.3 1462.6,552.1 1463.4,551.9 1464.3,551.6 1465.1,551.4 1465.9,551.1 1466.8,550.9 1467.6,550.6 1468.4,550.4 1469.3,550.2 1470.1,549.9 1470.9,549.7 1471.8,549.4 1472.6,549.2 1473.5,549.0 1474.3,548.7 1475.1,548.5 1476.0,548.2 1476.8,548.0 1477.6,547.7 1478.5,547.5 1479.3,547.2 1480.1,547.0 1481.0,546.8 1481.8,546.5 1482.6,546.3 1483.5,546.0 1484.3,545.8 1485.1,545.5 1486.0,545.3 1486.8,545.0 1487.7,544.8 1488.5,544.6 1489.3,544.3 1490.2,544.1 1491.0,543.8 1491.8,543.6 1492.7,543.3 1493.5,543.1 1494.3,542.8 1495.2,542.6 1496.0,542.3 1496.8,542.1 1497.7,541.8 1498.5,541.6 1499.3,541.3 1500.2,541.1 1501.0,540.8 1501.9,540.6 1502.7,540.3 1503.5,540.1 1504.4,539.8 1505.2,539.6 1506.0,539.3 1506.9,539.1 1507.7,538.8 1508.5,538.6 1509.4,538.3 1510.2,538.1 1511.0,537.8 1511.9,537.6 1512.7,537.3 1513.5,537.1 1514.4,536.8 1515.2,536.6 1516.1,536.3 1516.9,536.1 1517.7,535.8 1518.6,535.6 1519.4,535.3 1520.2,535.0 1521.1,534.8 1521.9,534.5 1522.7,534.3 1523.6,534.0 1524.4,533.8 1525.2,533.5 1526.1,533.3 1526.9,533.0 1527.7,532.8 1528.6,532.5 1529.4,532.2 1530.3,532.0 1531.1,531.7 1531.9,531.5 1532.8,531.2 1533.6,531.0 1534.4,530.7 1535.3,530.5 1536.1,530.2 1536.9,529.9 1537.8,529.7 1538.6,529.4 1539.4,529.2 1540.3,528.9 1541.1,528.6 1541.9,528.4 1542.8,528.1 1543.6,527.9 1544.5,527.6 1545.3,527.4 1546.1,527.1 1547.0,526.8 1547.8,526.6 1548.6,526.3 1549.5,526.1 1550.3,525.8 1551.1,525.5 1552.0,525.3 1552.8,525.0 1553.6,524.8 1554.5,524.5 1555.3,524.2 1556.1,524.0 1557.0,523.7 1557.8,523.4 1558.6,523.2 1559.5,522.9 1560.3,522.7 1561.2,522.4 1562.0,522.1 1562.8,521.9 1563.7,521.6 1564.5,521.3 1565.3,521.1 1566.2,520.8 1567.0,520.6 1567.8,520.3 1568.7,520.0 1569.5,519.8 1570.3,519.5 1571.2,519.2 1572.0,519.0 1572.8,518.7 1573.7,518.4 1574.5,518.2 1575.4,517.9 1576.2,517.6 1577.0,517.4 1577.9,517.1 1578.7,516.9 1579.5,516.6 1580.4,516.3 1581.2,516.1 1582.0,515.8 1582.9,515.5 1583.7,515.3 1584.5,515.0 1585.4,514.7 1586.2,514.4 1587.0,514.2 1587.9,513.9 1588.7,513.6 1589.6,513.4 1590.4,513.1 1591.2,512.8 1592.1,512.6 1592.9,512.3 1593.7,512.0 1594.6,511.8 1595.4,511.5 1596.2,511.2 1597.1,511.0 1597.9,510.7 1598.7,510.4 1599.6,510.1 1600.4,509.9 1601.2,509.6 1602.1,509.3 1602.9,509.1 1603.8,508.8 1604.6,508.5 1605.4,508.3 1606.3,508.0 1607.1,507.7 1607.9,507.4 1608.8,507.2 1609.6,506.9 1610.4,506.6 1611.3,506.3 1612.1,506.1 1612.9,505.8 1613.8,505.5 1614.6,505.3 1615.4,505.0 1616.3,504.7 1617.1,504.4 1618.0,504.2 1618.8,503.9 1619.6,503.6 1620.5,503.3 1621.3,503.1 1622.1,502.8 1623.0,502.5 1623.8,502.2 1624.6,502.0 1625.5,501.7 1626.3,501.4 1627.1,501.1 1628.0,500.9 1628.8,500.6 1629.6,500.3 1630.5,500.0 1631.3,499.8 1632.2,499.5 1633.0,499.2 1633.8,498.9 1634.7,498.7 1635.5,498.4 1636.3,498.1 1637.2,497.8 1638.0,497.6 1638.8,497.3 1639.7,497.0 1640.5,496.7 1641.3,496.4 1642.2,496.2 1643.0,495.9 1643.8,495.6 1644.7,495.3 1645.5,495.1 1646.4,494.8 1647.2,494.5 1648.0,494.2 1648.9,493.9 1649.7,493.7 1650.5,493.4 1651.4,493.1 1652.2,492.8 1653.0,492.5 1653.9,492.3 1654.7,492.0 1655.5,491.7 1656.4,491.4 1657.2,491.1 1658.0,490.9 1658.9,490.6 1659.7,490.3 1660.6,490.0 1661.4,489.7 1662.2,489.5 1663.1,489.2 1663.9,488.9 1664.7,488.6 1665.6,488.3 1666.4,488.0 1667.2,487.8 1668.1,487.5 1668.9,487.2 1669.7,486.9 1670.6,486.6 1671.4,486.4 1672.2,486.1 1673.1,485.8 1673.9,485.5 1674.8,485.2 1675.6,484.9 1676.4,484.7 1677.3,484.4 1678.1,484.1 1678.4,484.0 1678.4,736.0 1678.1,736.0 1677.3,735.8 1676.4,735.7 1675.6,735.5 1674.8,735.3 1673.9,735.2 1673.1,735.0 1672.2,734.9 1671.4,734.7 1670.6,734.5 1669.7,734.4 1668.9,734.2 1668.1,734.1 1667.2,733.9 1666.4,733.7 1665.6,733.6 1664.7,733.4 1663.9,733.3 1663.1,733.1 1662.2,732.9 1661.4,732.8 1660.6,732.6 1659.7,732.5 1658.9,732.3 1658.0,732.1 1657.2,732.0 1656.4,731.8 1655.5,731.6 1654.7,731.5 1653.9,731.3 1653.0,731.2 1652.2,731.0 1651.4,730.8 1650.5,730.7 1649.7,730.5 1648.9,730.3 1648.0,730.2 1647.2,730.0 1646.4,729.9 1645.5,729.7 1644.7,729.5 1643.8,729.4 1643.0,729.2 1642.2,729.0 1641.3,728.9 1640.5,728.7 1639.7,728.5 1638.8,728.4 1638.0,728.2 1637.2,728.1 1636.3,727.9 1635.5,727.7 1634.7,727.6 1633.8,727.4 1633.0,727.2 1632.2,727.1 1631.3,726.9 1630.5,726.7 1629.6,726.6 1628.8,726.4 1628.0,726.2 1627.1,726.1 1626.3,725.9 1625.5,725.7 1624.6,725.6 1623.8,725.4 1623.0,725.2 1622.1,725.1 1621.3,724.9 1620.5,724.7 1619.6,724.6 1618.8,724.4 1618.0,724.2 1617.1,724.1 1616.3,723.9 1615.4,723.7 1614.6,723.5 1613.8,723.4 1612.9,723.2 1612.1,723.0 1611.3,722.9 1610.4,722.7 1609.6,722.5 1608.8,722.4 1607.9,722.2 1607.1,722.0 1606.3,721.8 1605.4,721.7 1604.6,721.5 1603.8,721.3 1602.9,721.2 1602.1,721.0 1601.2,720.8 1600.4,720.6 1599.6,720.5 1598.7,720.3 1597.9,720.1 1597.1,720.0 1596.2,719.8 1595.4,719.6 1594.6,719.4 1593.7,719.3 1592.9,719.1 1592.1,718.9 1591.2,718.7 1590.4,718.6 1589.6,718.4 1588.7,718.2 1587.9,718.0 1587.0,717.9 1586.2,717.7 1585.4,717.5 1584.5,717.3 1583.7,717.2 1582.9,717.0 1582.0,716.8 1581.2,716.6 1580.4,716.5 1579.5,716.3 1578.7,716.1 1577.9,715.9 1577.0,715.8 1576.2,715.6 1575.4,715.4 1574.5,715.2 1573.7,715.0 1572.8,714.9 1572.0,714.7 1571.2,714.5 1570.3,714.3 1569.5,714.1 1568.7,714.0 1567.8,713.8 1567.0,713.6 1566.2,713.4 1565.3,713.2 1564.5,713.1 1563.7,712.9 1562.8,712.7 1562.0,712.5 1561.2,712.3 1560.3,712.2 1559.5,712.0 1558.6,711.8 1557.8,711.6 1557.0,711.4 1556.1,711.2 1555.3,711.1 1554.5,710.9 1553.6,710.7 1552.8,710.5 1552.0,710.3 1551.1,710.1 1550.3,710.0 1549.5,709.8 1548.6,709.6 1547.8,709.4 1547.0,709.2 1546.1,709.0 1545.3,708.8 1544.5,708.7 1543.6,708.5 1542.8,708.3 1541.9,708.1 1541.1,707.9 1540.3,707.7 1539.4,707.5 1538.6,707.4 1537.8,707.2 1536.9,707.0 1536.1,706.8 1535.3,706.6 1534.4,706.4 1533.6,706.2 1532.8,706.0 1531.9,705.8 1531.1,705.7 1530.3,705.5 1529.4,705.3 1528.6,705.1 1527.7,704.9 1526.9,704.7 1526.1,704.5 1525.2,704.3 1524.4,704.1 1523.6,703.9 1522.7,703.7 1521.9,703.5 1521.1,703.4 1520.2,703.2 1519.4,703.0 1518.6,702.8 1517.7,702.6 1516.9,702.4 1516.1,702.2 1515.2,702.0 1514.4,701.8 1513.5,701.6 1512.7,701.4 1511.9,701.2 1511.0,701.0 1510.2,700.8 1509.4,700.6 1508.5,700.4 1507.7,700.2 1506.9,700.0 1506.0,699.8 1505.2,699.6 1504.4,699.4 1503.5,699.2 1502.7,699.0 1501.9,698.8 1501.0,698.6 1500.2,698.4 1499.3,698.2 1498.5,698.0 1497.7,697.8 1496.8,697.6 1496.0,697.4 1495.2,697.2 1494.3,697.0 1493.5,696.8 1492.7,696.6 1491.8,696.4 1491.0,696.2 1490.2,696.0 1489.3,695.8 1488.5,695.6 1487.7,695.4 1486.8,695.2 1486.0,695.0 1485.1,694.8 1484.3,694.6 1483.5,694.4 1482.6,694.2 1481.8,694.0 1481.0,693.8 1480.1,693.6 1479.3,693.4 1478.5,693.2 1477.6,692.9 1476.8,692.7 1476.0,692.5 1475.1,692.3 1474.3,692.1 1473.5,691.9 1472.6,691.7 1471.8,691.5 1470.9,691.3 1470.1,691.1 1469.3,690.9 1468.4,690.6 1467.6,690.4 1466.8,690.2 1465.9,690.0 1465.1,689.8 1464.3,689.6 1463.4,689.4 1462.6,689.2 1461.8,688.9 1460.9,688.7 1460.1,688.5 1459.3,688.3 1458.4,688.1 1457.6,687.9 1456.7,687.7 1455.9,687.4 1455.1,687.2 1454.2,687.0 1453.4,686.8 1452.6,686.6 1451.7,686.4 1450.9,686.1 1450.1,685.9 1449.2,685.7 1448.4,685.5 1447.6,685.3 1446.7,685.1 1445.9,684.8 1445.1,684.6 1444.2,684.4 1443.4,684.2 1442.5,684.0 1441.7,683.7 1440.9,683.5 1440.0,683.3 1439.2,683.1 1438.4,682.8 1437.5,682.6 1436.7,682.4 1435.9,682.2 1435.0,682.0 1434.2,681.7 1433.4,681.5 1432.5,681.3 1431.7,681.1 1430.9,680.8 1430.0,680.6 1429.2,680.4 1428.3,680.2 1427.5,679.9 1426.7,679.7 1425.8,679.5 1425.0,679.2 1424.2,679.0 1423.3,678.8 1422.5,678.6 1421.7,678.3 1420.8,678.1 1420.0,677.9 1419.2,677.6 1418.3,677.4 1417.5,677.2 1416.7,676.9 1415.8,676.7 1415.0,676.5 1414.1,676.2 1413.3,676.0 1412.5,675.8 1411.6,675.5 1410.8,675.3 1410.0,675.1 1409.1,674.8 1408.3,674.6 1407.5,674.4 1406.6,674.1 1405.8,673.9 1405.0,673.7 1404.1,673.4 1403.3,673.2 1402.5,673.0 1401.6,672.7 1400.8,672.5 1399.9,672.2 1399.1,672.0 1398.3,671.8 1397.4,671.5 1396.6,671.3 1395.8,671.0 1394.9,670.8 1394.1,670.6 1393.3,670.3 1392.4,670.1 1391.6,669.8 1390.8,669.6 1389.9,669.3 1389.1,669.1 1388.3,668.9 1387.4,668.6 1386.6,668.4 1385.7,668.1 1384.9,667.9 1384.1,667.6 1383.2,667.4 1382.4,667.1 1381.6,666.9 1380.7,666.6 1379.9,666.4 1379.1,666.1 1378.2,665.9 1377.4,665.6 1376.6,665.4 1375.7,665.2 1374.9,664.9 1374.1,664.6 1373.2,664.4 1372.4,664.1 1371.5,663.9 1370.7,663.6 1369.9,663.4 1369.0,663.1 1368.2,662.9 1367.4,662.6 1366.5,662.4 1365.7,662.1 1364.9,661.9 1364.0,661.6 1363.2,661.4 1362.4,661.1 1361.5,660.8 1360.7,660.6 1359.9,660.3 1359.0,660.1 1358.2,659.8 1357.4,659.6 1356.5,659.3 1355.7,659.0 1354.8,658.8 1354.0,658.5 1353.2,658.3 1352.3,658.0 1351.5,657.7 1350.7,657.5 1349.8,657.2 1349.0,656.9 1348.2,656.7 1347.3,656.4 1346.5,656.1 1345.7,655.9 1344.8,655.6 1344.0,655.4 1343.2,655.1 1342.3,654.8 1341.5,654.6 1340.6,654.3 1339.8,654.0 1339.0,653.7 1338.1,653.5 1337.3,653.2 1336.5,652.9 1335.6,652.7 1334.8,652.4 1334.0,652.1 1333.1,651.9 1332.3,651.6 1331.5,651.3 1330.6,651.0 1329.8,650.8 1329.0,650.5 1328.1,650.2 1327.3,650.0 1326.4,649.7 1325.6,649.4 1324.8,649.1 1323.9,648.8 1323.1,648.6 1322.3,648.3 1321.4,648.0 1320.6,647.7 1319.8,647.5 1318.9,647.2 1318.1,646.9 1317.3,646.6 1316.4,646.3 1315.6,646.1 1314.8,645.8 1313.9,645.5 1313.1,645.2 1312.2,644.9 1311.4,644.7 1310.6,644.4 1309.7,644.1 1308.9,643.8 1308.1,643.5 1307.2,643.2 1306.4,642.9 1305.6,642.7 1304.7,642.4 1303.9,642.1 1303.1,641.8 1302.2,641.5 1301.4,641.2 1300.6,640.9 1299.7,640.6 1298.9,640.4 1298.0,640.1 1297.2,639.8 1296.4,639.5 1295.5,639.2 1294.7,638.9 1293.9,638.6 1293.0,638.3 1292.2,638.0 1291.4,637.7 1290.5,637.4 1289.7,637.1 1288.9,636.8 1288.0,636.5 1287.2,636.2 1286.4,636.0 1285.5,635.7 1284.7,635.4 1283.8,635.1 1283.0,634.8 1282.2,634.5 1281.3,634.2 1280.5,633.9 1279.7,633.6 1278.8,633.3 1278.0,633.0 1277.2,632.7 1276.3,632.4 1275.5,632.0 1274.7,631.7 1273.8,631.4 1273.0,631.1 1272.2,630.8 1271.3,630.5 1270.5,630.2 1269.6,629.9 1268.8,629.6 1268.0,629.3 1267.1,629.0 1266.3,628.7 1265.5,628.4 1264.6,628.1 1263.8,627.7 1263.0,627.4 1262.1,627.1 1261.3,626.8 1260.5,626.5 1259.6,626.2 1258.8,625.9 1258.0,625.6 1257.1,625.2 1256.3,624.9 1255.4,624.6 1254.6,624.3 1253.8,624.0 1252.9,623.7 1252.1,623.4 1251.3,623.0 1250.4,622.7 1249.6,622.4 1248.8,622.1 1247.9,621.8 1247.1,621.4 1246.3,621.1 1245.4,620.8 1244.6,620.5 1243.8,620.1 1242.9,619.8 1242.1,619.5 1241.2,619.2 1240.4,618.9 1239.6,618.5 1238.7,618.2 1237.9,617.9 1237.1,617.6 1236.2,617.2 1235.4,616.9 1234.6,616.6 1233.7,616.2 1232.9,615.9 1232.1,615.6 1231.2,615.2 1230.4,614.9 1229.6,614.6 1228.7,614.3 1227.9,613.9 1227.0,613.6 1226.2,613.3 1225.4,612.9 1224.5,612.6 1223.7,612.2 1222.9,611.9 1222.0,611.5 1221.7,611.6 1220.9,611.7 1220.0,611.8 1219.2,611.9 1218.4,612.0 1217.5,612.1 1216.7,612.1 1215.9,612.2 1215.0,612.2 1214.2,612.3 1213.3,612.3 1212.5,612.3 1211.7,612.3 1210.8,612.3 1210.0,612.3 1209.2,612.3 1208.3,612.3 1207.5,612.3 1206.7,612.2 1205.8,612.2 1205.0,612.1 1204.2,612.0 1203.3,611.9 1202.5,611.8 1201.7,611.7 1200.8,611.6 1200.0,611.5 1199.2,611.4 1198.3,611.3 1197.5,611.1 1196.6,611.0 1195.8,610.8 1195.0,610.6 1194.1,610.5 1193.3,610.3 1192.5,610.1 1191.6,609.9 1190.8,609.7 1190.0,609.4 1189.1,609.2 1188.3,609.0 1187.5,608.7 1186.6,608.5 1185.8,608.2 1185.0,607.9 1184.1,607.7 1183.3,607.4 1182.4,607.1 1181.6,606.8 1180.8,606.5 1179.9,606.2 1179.1,605.8 1178.3,605.5 1177.4,605.2 1176.6,604.8 1175.8,604.5 1174.9,604.1 1174.1,603.7 1173.3,603.3 1172.4,603.0 1171.6,602.6 1170.8,602.2 1169.9,601.8 1169.1,601.3 1168.2,600.9 1167.4,600.5 1166.6,600.1 1165.7,599.6 1164.9,599.2 1164.1,598.7 1163.2,598.2 1162.4,597.8 1161.6,597.3 1160.7,596.8 1159.9,596.3 1159.1,595.8 1158.2,595.3 1157.4,594.8 1156.6,594.3 1155.7,593.8 1154.9,593.2 1154.0,592.7 1153.2,592.1 1152.4,591.6 1151.5,591.0 1150.7,590.5 1149.9,589.9 1149.0,589.3 1148.2,588.7 1147.4,588.1 1146.5,587.5 1145.7,586.9 1144.9,586.3 1144.0,585.7 1143.2,585.1 1142.4,584.5 1141.5,583.8 1140.7,583.2 1139.8,582.6 1139.0,581.9 1138.2,581.2 1137.3,580.6 1136.5,579.9 1135.7,579.2 1134.8,578.6 1134.0,577.9 1133.2,577.2 1132.3,576.5 1131.5,575.8 1130.7,575.1 1129.8,574.4 1129.0,573.7 1128.2,572.9 1127.3,572.2 1126.5,571.5 1125.6,570.7 1124.8,570.0 1124.0,569.3 1123.1,568.5 1122.3,567.7 1121.5,567.0 1120.6,566.2 1119.8,565.4 1119.0,564.7 1118.1,563.9 1117.3,563.1 1116.5,562.3 1115.6,561.5 1114.8,560.7 1114.0,559.9 1113.1,559.1 1112.3,558.3 1111.4,557.5 1110.6,556.6 1109.8,555.8 1108.9,555.0 1108.1,554.1 1107.3,553.3 1106.4,552.5 1105.6,551.6 1104.8,550.8 1103.9,549.9 1103.1,549.0 1102.3,548.2 1101.4,547.3 1100.6,546.4 1099.8,545.6 1098.9,544.7 1098.1,543.8 1097.2,542.9 1096.4,542.0 1095.6,541.1 1094.7,540.2 1093.9,539.3 1093.1,538.4 1092.2,537.5 1091.4,536.6 1090.6,535.7 1089.7,534.7 1088.9,533.8 1088.1,532.9 1087.2,532.0 1086.4,531.0 1085.6,530.1 1084.7,529.2 1083.9,528.2 1083.0,527.3 1082.2,526.3 1081.4,525.4 1080.5,524.4 1079.7,523.5 1078.9,522.5 1078.0,521.5 1077.2,520.6 1076.4,519.6 1075.5,518.6 1074.7,517.7 1073.9,516.7 1073.0,515.7 1072.2,514.7 1071.4,513.7 1070.5,512.7 1069.7,511.8 1068.8,510.8 1068.0,509.8 1067.2,508.8 1066.3,507.8 1065.5,506.8 1064.7,505.8 1063.8,504.8 1063.0,503.8 1062.2,502.8 1061.3,501.7 1060.5,500.7 1059.7,499.7 1058.8,498.7 1058.0,497.7 1057.2,496.7 1056.3,495.6 1055.5,494.6 1054.6,493.6 1053.8,492.6 1053.0,491.5 1052.1,490.5 1051.3,489.5 1050.5,488.5 1049.6,487.4 1048.8,486.4 1048.0,485.3 1047.1,484.3 1046.3,483.3 1045.5,482.2 1044.6,481.2 1043.8,480.1 1043.0,479.1 1042.1,478.1 1041.3,477.0" fill="rgb(120,141,218)" fill-opacity="0.32"/>
<polyline points="1041.4,313.0 1042.2,316.3 1043.0,319.5 1043.9,322.7 1044.7,325.8 1045.5,328.8 1046.4,331.9 1047.2,334.8 1048.1,337.7 1048.9,340.6 1049.7,343.5 1050.6,346.3 1051.4,349.1 1052.2,351.9 1053.1,354.6 1053.9,357.3 1054.7,360.0 1055.6,362.7 1056.4,365.4 1057.2,368.0 1058.1,370.6 1058.9,373.3 1059.7,375.9 1060.6,378.4 1061.4,381.0 1062.2,383.5 1063.1,386.1 1063.9,388.6 1064.8,391.1 1065.6,393.6 1066.4,396.1 1067.3,398.5 1068.1,401.0 1068.9,403.4 1069.8,405.8 1070.6,408.2 1071.4,410.6 1072.3,413.0 1073.1,415.3 1073.9,417.7 1074.8,420.0 1075.6,422.3 1076.4,424.6 1077.3,426.9 1078.1,429.2 1079.0,431.5 1079.8,433.7 1080.6,435.9 1081.5,438.2 1082.3,440.4 1083.1,442.6 1084.0,444.7 1084.8,446.9 1085.6,449.0 1086.5,451.1 1087.3,453.3 1088.1,455.3 1089.0,457.4 1089.8,459.5 1090.6,461.5 1091.5,463.6 1092.3,465.6 1093.2,467.6 1094.0,469.6 1094.8,471.5 1095.7,473.5 1096.5,475.4 1097.3,477.3 1098.2,479.2 1099.0,481.1 1099.8,483.0 1100.7,484.8 1101.5,486.7 1102.3,488.5 1103.2,490.3 1104.0,492.1 1104.8,493.8 1105.7,495.6 1106.5,497.3 1107.4,499.0 1108.2,500.7 1109.0,502.4 1109.9,504.1 1110.7,505.8 1111.5,507.4 1112.4,509.0 1113.2,510.6 1114.0,512.2 1114.9,513.8 1115.7,515.4 1116.5,516.9 1117.4,518.4 1118.2,520.0 1119.0,521.5 1119.9,522.9 1120.7,524.4 1121.6,525.9 1122.4,527.3 1123.2,528.7 1124.1,530.1 1124.9,531.5 1125.7,532.9 1126.6,534.3 1127.4,535.6 1128.2,537.0 1129.1,538.3 1129.9,539.6 1130.7,540.9 1131.6,542.1 1132.4,543.4 1133.2,544.7 1134.1,545.9 1134.9,547.1 1135.8,548.3 1136.6,549.5 1137.4,550.7 1138.3,551.8 1139.1,553.0 1139.9,554.1 1140.8,555.2 1141.6,556.3 1142.4,557.4 1143.3,558.5 1144.1,559.6 1144.9,560.6 1145.8,561.7 1146.6,562.7 1147.4,563.7 1148.3,564.7 1149.1,565.7 1150.0,566.6 1150.8,567.6 1151.6,568.5 1152.5,569.5 1153.3,570.4 1154.1,571.3 1155.0,572.2 1155.8,573.0 1156.6,573.9 1157.5,574.8 1158.3,575.6 1159.1,576.4 1160.0,577.2 1160.8,578.0 1161.6,578.8 1162.5,579.6 1163.3,580.3 1164.2,581.1 1165.0,581.8 1165.8,582.6 1166.7,583.3 1167.5,584.0 1168.3,584.7 1169.2,585.3 1170.0,586.0 1170.8,586.7 1171.7,587.3 1172.5,587.9 1173.3,588.6 1174.2,589.2 1175.0,589.8 1175.8,590.4 1176.7,590.9 1177.5,591.5 1178.4,592.1 1179.2,592.6 1180.0,593.1 1180.9,593.7 1181.7,594.2 1182.5,594.7 1183.4,595.2 1184.2,595.7 1185.0,596.1 1185.9,596.6 1186.7,597.1 1187.5,597.5 1188.4,598.0 1189.2,598.4 1190.0,598.8 1190.9,599.2 1191.7,599.6 1192.6,600.0 1193.4,600.4 1194.2,600.8 1195.1,601.1 1195.9,601.5 1196.7,601.9 1197.6,602.2 1198.4,602.5 1199.2,602.9 1200.1,603.2 1200.9,603.5 1201.7,603.8 1202.6,604.1 1203.4,604.4 1204.2,604.7 1205.1,605.0 1205.9,605.2 1206.8,605.5 1207.6,605.8 1208.4,606.0 1209.3,606.3 1210.1,606.5 1210.9,606.7 1211.8,607.0 1212.6,607.2 1213.4,607.4 1214.3,607.6 1215.1,607.8 1215.9,608.0 1216.8,608.2 1217.6,608.4 1218.4,608.6 1219.3,608.7 1220.1,608.9 1221.0,609.1 1221.8,609.2 1222.6,609.4 1223.5,609.5 1224.3,609.7 1225.1,609.8 1226.0,610.0 1226.8,610.1 1227.6,610.2 1228.5,610.4 1229.3,610.5 1230.1,610.6 1231.0,610.7 1231.8,610.8 1232.6,610.9 1233.5,611.0 1234.3,611.1 1235.2,611.2 1236.0,611.3 1236.8,611.4 1237.7,611.5 1238.5,611.6 1239.3,611.7 1240.2,611.8 1241.0,611.9 1241.8,611.9 1242.7,612.0 1243.5,612.1 1244.3,612.2 1245.2,612.2 1246.0,612.3 1246.8,612.4 1247.7,612.4 1248.5,612.5 1249.3,612.5 1250.2,612.6 1251.0,612.7 1251.9,612.7 1252.7,612.8 1253.5,612.8 1254.4,612.9 1255.2,613.0 1256.0,613.0 1256.9,613.1 1257.7,613.1 1258.5,613.2 1259.4,613.2 1260.2,613.3 1261.0,613.3 1261.9,613.4 1262.7,613.5 1263.5,613.5 1264.4,613.6 1265.2,613.6 1266.1,613.7 1266.9,613.7 1267.7,613.8 1268.6,613.8 1269.4,613.9 1270.2,614.0 1271.1,614.0 1271.9,614.1 1272.7,614.1 1273.6,614.2 1274.4,614.2 1275.2,614.3 1276.1,614.3 1276.9,614.4 1277.7,614.5 1278.6,614.5 1279.4,614.6 1280.3,614.6 1281.1,614.7 1281.9,614.7 1282.8,614.8 1283.6,614.9 1284.4,614.9 1285.3,615.0 1286.1,615.0 1286.9,615.1 1287.8,615.1 1288.6,615.2 1289.4,615.3 1290.3,615.3 1291.1,615.4 1291.9,615.4 1292.8,615.5 1293.6,615.5 1294.5,615.6 1295.3,615.7 1296.1,615.7 1297.0,615.8 1297.8,615.8 1298.6,615.9 1299.5,616.0 1300.3,616.0 1301.1,616.1 1302.0,616.1 1302.8,616.2 1303.6,616.2 1304.5,616.3 1305.3,616.4 1306.1,616.4 1307.0,616.5 1307.8,616.5 1308.7,616.6 1309.5,616.7 1310.3,616.7 1311.2,616.8 1312.0,616.8 1312.8,616.9 1313.7,617.0 1314.5,617.0 1315.3,617.1 1316.2,617.1 1317.0,617.2 1317.8,617.2 1318.7,617.3 1319.5,617.4 1320.3,617.4 1321.2,617.5 1322.0,617.5 1322.9,617.6 1323.7,617.7 1324.5,617.7 1325.4,617.8 1326.2,617.8 1327.0,617.9 1327.9,618.0 1328.7,618.0 1329.5,618.1 1330.4,618.1 1331.2,618.2 1332.0,618.3 1332.9,618.3 1333.7,618.4 1334.5,618.4 1335.4,618.5 1336.2,618.6 1337.1,618.6 1337.9,618.7 1338.7,618.7 1339.6,618.8 1340.4,618.9 1341.2,618.9 1342.1,619.0 1342.9,619.0 1343.7,619.1 1344.6,619.2 1345.4,619.2 1346.2,619.3 1347.1,619.3 1347.9,619.4 1348.7,619.5 1349.6,619.5 1350.4,619.6 1351.3,619.6 1352.1,619.7 1352.9,619.8 1353.8,619.8 1354.6,619.9 1355.4,619.9 1356.3,620.0 1357.1,620.1 1357.9,620.1 1358.8,620.2 1359.6,620.3 1360.4,620.3 1361.3,620.4 1362.1,620.4 1362.9,620.5 1363.8,620.6 1364.6,620.6 1365.5,620.7 1366.3,620.7 1367.1,620.8 1368.0,620.9 1368.8,620.9 1369.6,621.0 1370.5,621.0 1371.3,621.1 1372.1,621.2 1373.0,621.2 1373.8,621.3 1374.6,621.4 1375.5,621.4 1376.3,621.5 1377.1,621.5 1378.0,621.6 1378.8,621.7 1379.7,621.7 1380.5,621.8 1381.3,621.8 1382.2,621.9 1383.0,622.0 1383.8,622.0 1384.7,622.1 1385.5,622.2 1386.3,622.2 1387.2,622.3 1388.0,622.3 1388.8,622.4 1389.7,622.5 1390.5,622.5 1391.3,622.6 1392.2,622.6 1393.0,622.7 1393.9,622.8 1394.7,622.8 1395.5,622.9 1396.4,623.0 1397.2,623.0 1398.0,623.1 1398.9,623.1 1399.7,623.2 1400.5,623.3 1401.4,623.3 1402.2,623.4 1403.0,623.5 1403.9,623.5 1404.7,623.6 1405.5,623.6 1406.4,623.7 1407.2,623.8 1408.1,623.8 1408.9,623.9 1409.7,624.0 1410.6,624.0 1411.4,624.1 1412.2,624.1 1413.1,624.2 1413.9,624.3 1414.7,624.3 1415.6,624.4 1416.4,624.4 1417.2,624.5 1418.1,624.6 1418.9,624.6 1419.7,624.7 1420.6,624.8 1421.4,624.8 1422.3,624.9 1423.1,624.9 1423.9,625.0 1424.8,625.1 1425.6,625.1 1426.4,625.2 1427.3,625.3 1428.1,625.3 1428.9,625.4 1429.8,625.4 1430.6,625.5 1431.4,625.6 1432.3,625.6 1433.1,625.7 1433.9,625.8 1434.8,625.8 1435.6,625.9 1436.4,625.9 1437.3,626.0 1438.1,626.1 1439.0,626.1 1439.8,626.2 1440.6,626.3 1441.5,626.3 1442.3,626.4 1443.1,626.4 1444.0,626.5 1444.8,626.6 1445.6,626.6 1446.5,626.7 1447.3,626.8 1448.1,626.8 1449.0,626.9 1449.8,626.9 1450.6,627.0 1451.5,627.1 1452.3,627.1 1453.2,627.2 1454.0,627.3 1454.8,627.3 1455.7,627.4 1456.5,627.4 1457.3,627.5 1458.2,627.6 1459.0,627.6 1459.8,627.7 1460.7,627.8 1461.5,627.8 1462.3,627.9 1463.2,627.9 1464.0,628.0 1464.8,628.1 1465.7,628.1 1466.5,628.2 1467.4,628.2 1468.2,628.3 1469.0,628.4 1469.9,628.4 1470.7,628.5 1471.5,628.6 1472.4,628.6 1473.2,628.7 1474.0,628.7 1474.9,628.8 1475.7,628.9 1476.5,628.9 1477.4,629.0 1478.2,629.1 1479.0,629.1 1479.9,629.2 1480.7,629.2 1481.6,629.3 1482.4,629.4 1483.2,629.4 1484.1,629.5 1484.9,629.6 1485.7,629.6 1486.6,629.7 1487.4,629.7 1488.2,629.8 1489.1,629.9 1489.9,629.9 1490.7,630.0 1491.6,630.0 1492.4,630.1 1493.2,630.2 1494.1,630.2 1494.9,630.3 1495.8,630.4 1496.6,630.4 1497.4,630.5 1498.3,630.5 1499.1,630.6 1499.9,630.7 1500.8,630.7 1501.6,630.8 1502.4,630.8 1503.3,630.9 1504.1,631.0 1504.9,631.0 1505.8,631.1 1506.6,631.2 1507.4,631.2 1508.3,631.3 1509.1,631.3 1510.0,631.4 1510.8,631.5 1511.6,631.5 1512.5,631.6 1513.3,631.6 1514.1,631.7 1515.0,631.8 1515.8,631.8 1516.6,631.9 1517.5,631.9 1518.3,632.0 1519.1,632.1 1520.0,632.1 1520.8,632.2 1521.6,632.3 1522.5,632.3 1523.3,632.4 1524.2,632.4 1525.0,632.5 1525.8,632.6 1526.7,632.6 1527.5,632.7 1528.3,632.7 1529.2,632.8 1530.0,632.9 1530.8,632.9 1531.7,633.0 1532.5,633.0 1533.3,633.1 1534.2,633.2 1535.0,633.2 1535.8,633.3 1536.7,633.3 1537.5,633.4 1538.4,633.5 1539.2,633.5 1540.0,633.6 1540.9,633.6 1541.7,633.7 1542.5,633.8 1543.4,633.8 1544.2,633.9 1545.0,633.9 1545.9,634.0 1546.7,634.1 1547.5,634.1 1548.4,634.2 1549.2,634.2 1550.0,634.3 1550.9,634.4 1551.7,634.4 1552.6,634.5 1553.4,634.5 1554.2,634.6 1555.1,634.7 1555.9,634.7 1556.7,634.8 1557.6,634.8 1558.4,634.9 1559.2,635.0 1560.1,635.0 1560.9,635.1 1561.7,635.1 1562.6,635.2 1563.4,635.2 1564.2,635.3 1565.1,635.4 1565.9,635.4 1566.8,635.5 1567.6,635.5 1568.4,635.6 1569.3,635.7 1570.1,635.7 1570.9,635.8 1571.8,635.8 1572.6,635.9 1573.4,635.9 1574.3,636.0 1575.1,636.1 1575.9,636.1 1576.8,636.2 1577.6,636.2 1578.4,636.3 1579.3,636.4 1580.1,636.4 1581.0,636.5 1581.8,636.5 1582.6,636.6 1583.5,636.6 1584.3,636.7 1585.1,636.8 1586.0,636.8 1586.8,636.9 1587.6,636.9 1588.5,637.0 1589.3,637.0 1590.1,637.1 1591.0,637.2 1591.8,637.2 1592.6,637.3 1593.5,637.3 1594.3,637.4 1595.2,637.4 1596.0,637.5 1596.8,637.6 1597.7,637.6 1598.5,637.7 1599.3,637.7 1600.2,637.8 1601.0,637.8 1601.8,637.9 1602.7,638.0 1603.5,638.0 1604.3,638.1 1605.2,638.1 1606.0,638.2 1606.8,638.2 1607.7,638.3 1608.5,638.4 1609.4,638.4 1610.2,638.5 1611.0,638.5 1611.9,638.6 1612.7,638.6 1613.5,638.7 1614.4,638.7 1615.2,638.8 1616.0,638.9 1616.9,638.9 1617.7,639.0 1618.5,639.0 1619.4,639.1 1620.2,639.1 1621.0,639.2 1621.9,639.2 1622.7,639.3 1623.6,639.3 1624.4,639.4 1625.2,639.5 1626.1,639.5 1626.9,639.6 1627.7,639.6 1628.6,639.7 1629.4,639.7 1630.2,639.8 1631.1,639.8 1631.9,639.9 1632.7,639.9 1633.6,640.0 1634.4,640.1 1635.2,640.1 1636.1,640.2 1636.9,640.2 1637.7,640.3 1638.6,640.3 1639.4,640.4 1640.3,640.4 1641.1,640.5 1641.9,640.5 1642.8,640.6 1643.6,640.6 1644.4,640.7 1645.3,640.7 1646.1,640.8 1646.9,640.9 1647.8,640.9 1648.6,641.0 1649.4,641.0 1650.3,641.1 1651.1,641.1 1651.9,641.2 1652.8,641.2 1653.6,641.3 1654.5,641.3 1655.3,641.4 1656.1,641.4 1657.0,641.5 1657.8,641.5 1658.6,641.6 1659.5,641.6 1660.3,641.7 1661.1,641.7 1662.0,641.8 1662.8,641.8 1663.6,641.9 1664.5,641.9 1665.3,642.0 1666.1,642.0 1667.0,642.1 1667.8,642.1 1668.7,642.2 1669.5,642.3 1670.3,642.3 1671.2,642.4 1672.0,642.4 1672.8,642.5 1673.7,642.5 1674.5,642.6 1675.3,642.6 1676.2,642.7 1677.0,642.7 1677.8,642.8 1678.4,642.8" fill="none" stroke="rgb(232,112,122)" stroke-opacity="0.7" stroke-width="3.6" stroke-linejoin="round"/>
<polyline points="1041.4,319.9 1042.2,322.7 1043.0,325.5 1043.9,328.3 1044.7,331.0 1045.5,333.8 1046.4,336.5 1047.2,339.3 1048.1,342.0 1048.9,344.7 1049.7,347.4 1050.6,350.1 1051.4,352.8 1052.2,355.5 1053.1,358.2 1053.9,360.8 1054.7,363.4 1055.6,366.1 1056.4,368.7 1057.2,371.3 1058.1,373.9 1058.9,376.5 1059.7,379.0 1060.6,381.6 1061.4,384.1 1062.2,386.7 1063.1,389.2 1063.9,391.7 1064.8,394.2 1065.6,396.7 1066.4,399.1 1067.3,401.6 1068.1,404.0 1068.9,406.4 1069.8,408.9 1070.6,411.3 1071.4,413.6 1072.3,416.0 1073.1,418.4 1073.9,420.7 1074.8,423.0 1075.6,425.4 1076.4,427.7 1077.3,429.9 1078.1,432.2 1079.0,434.5 1079.8,436.7 1080.6,439.0 1081.5,441.2 1082.3,443.4 1083.1,445.6 1084.0,447.7 1084.8,449.9 1085.6,452.0 1086.5,454.1 1087.3,456.3 1088.1,458.3 1089.0,460.4 1089.8,462.5 1090.6,464.5 1091.5,466.6 1092.3,468.6 1093.2,470.6 1094.0,472.6 1094.8,474.5 1095.7,476.5 1096.5,478.4 1097.3,480.3 1098.2,482.2 1099.0,484.1 1099.8,486.0 1100.7,487.8 1101.5,489.7 1102.3,491.5 1103.2,493.3 1104.0,495.1 1104.8,496.8 1105.7,498.6 1106.5,500.3 1107.4,502.0 1108.2,503.7 1109.0,505.4 1109.9,507.1 1110.7,508.8 1111.5,510.4 1112.4,512.0 1113.2,513.6 1114.0,515.2 1114.9,516.8 1115.7,518.4 1116.5,519.9 1117.4,521.4 1118.2,523.0 1119.0,524.5 1119.9,525.9 1120.7,527.4 1121.6,528.9 1122.4,530.3 1123.2,531.7 1124.1,533.1 1124.9,534.5 1125.7,535.9 1126.6,537.3 1127.4,538.6 1128.2,540.0 1129.1,541.3 1129.9,542.6 1130.7,543.9 1131.6,545.1 1132.4,546.4 1133.2,547.7 1134.1,548.9 1134.9,550.1 1135.8,551.3 1136.6,552.5 1137.4,553.7 1138.3,554.8 1139.1,556.0 1139.9,557.1 1140.8,558.2 1141.6,559.3 1142.4,560.4 1143.3,561.5 1144.1,562.6 1144.9,563.6 1145.8,564.7 1146.6,565.7 1147.4,566.7 1148.3,567.7 1149.1,568.7 1150.0,569.6 1150.8,570.6 1151.6,571.5 1152.5,572.5 1153.3,573.4 1154.1,574.3 1155.0,575.2 1155.8,576.0 1156.6,576.9 1157.5,577.8 1158.3,578.6 1159.1,579.4 1160.0,580.2 1160.8,581.0 1161.6,581.8 1162.5,582.6 1163.3,583.3 1164.2,584.1 1165.0,584.8 1165.8,585.6 1166.7,586.3 1167.5,587.0 1168.3,587.7 1169.2,588.3 1170.0,589.0 1170.8,589.7 1171.7,590.3 1172.5,590.9 1173.3,591.6 1174.2,592.2 1175.0,592.8 1175.8,593.4 1176.7,593.9 1177.5,594.5 1178.4,595.1 1179.2,595.6 1180.0,596.1 1180.9,596.7 1181.7,597.2 1182.5,597.7 1183.4,598.2 1184.2,598.7 1185.0,599.1 1185.9,599.6 1186.7,600.1 1187.5,600.5 1188.4,601.0 1189.2,601.4 1190.0,601.8 1190.9,602.2 1191.7,602.6 1192.6,603.0 1193.4,603.4 1194.2,603.8 1195.1,604.1 1195.9,604.5 1196.7,604.9 1197.6,605.2 1198.4,605.5 1199.2,605.9 1200.1,606.2 1200.9,606.5 1201.7,606.8 1202.6,607.1 1203.4,607.4 1204.2,607.7 1205.1,608.0 1205.9,608.2 1206.8,608.5 1207.6,608.8 1208.4,609.0 1209.3,609.3 1210.1,609.5 1210.9,609.7 1211.8,610.0 1212.6,610.2 1213.4,610.4 1214.3,610.6 1215.1,610.8 1215.9,611.0 1216.8,611.2 1217.6,611.4 1218.4,611.6 1219.3,611.7 1220.1,611.9 1221.0,612.1 1221.8,612.2 1222.6,612.4 1223.5,612.5 1224.3,612.7 1225.1,612.8 1226.0,613.0 1226.8,613.1 1227.6,613.2 1228.5,613.4 1229.3,613.5 1230.1,613.6 1231.0,613.7 1231.8,613.8 1232.6,613.9 1233.5,614.0 1234.3,614.1 1235.2,614.2 1236.0,614.3 1236.8,614.4 1237.7,614.5 1238.5,614.6 1239.3,614.7 1240.2,614.8 1241.0,614.9 1241.8,614.9 1242.7,615.0 1243.5,615.1 1244.3,615.2 1245.2,615.2 1246.0,615.3 1246.8,615.4 1247.7,615.4 1248.5,615.5 1249.3,615.5 1250.2,615.6 1251.0,615.7 1251.9,615.7 1252.7,615.8 1253.5,615.8 1254.4,615.9 1255.2,616.0 1256.0,616.0 1256.9,616.1 1257.7,616.1 1258.5,616.2 1259.4,616.2 1260.2,616.3 1261.0,616.3 1261.9,616.4 1262.7,616.5 1263.5,616.5 1264.4,616.6 1265.2,616.6 1266.1,616.7 1266.9,616.7 1267.7,616.8 1268.6,616.8 1269.4,616.9 1270.2,617.0 1271.1,617.0 1271.9,617.1 1272.7,617.1 1273.6,617.2 1274.4,617.2 1275.2,617.3 1276.1,617.3 1276.9,617.4 1277.7,617.5 1278.6,617.5 1279.4,617.6 1280.3,617.6 1281.1,617.7 1281.9,617.7 1282.8,617.8 1283.6,617.9 1284.4,617.9 1285.3,618.0 1286.1,618.0 1286.9,618.1 1287.8,618.1 1288.6,618.2 1289.4,618.3 1290.3,618.3 1291.1,618.4 1291.9,618.4 1292.8,618.5 1293.6,618.5 1294.5,618.6 1295.3,618.7 1296.1,618.7 1297.0,618.8 1297.8,618.8 1298.6,618.9 1299.5,619.0 1300.3,619.0 1301.1,619.1 1302.0,619.1 1302.8,619.2 1303.6,619.2 1304.5,619.3 1305.3,619.4 1306.1,619.4 1307.0,619.5 1307.8,619.5 1308.7,619.6 1309.5,619.7 1310.3,619.7 1311.2,619.8 1312.0,619.8 1312.8,619.9 1313.7,620.0 1314.5,620.0 1315.3,620.1 1316.2,620.1 1317.0,620.2 1317.8,620.2 1318.7,620.3 1319.5,620.4 1320.3,620.4 1321.2,620.5 1322.0,620.5 1322.9,620.6 1323.7,620.7 1324.5,620.7 1325.4,620.8 1326.2,620.8 1327.0,620.9 1327.9,621.0 1328.7,621.0 1329.5,621.1 1330.4,621.1 1331.2,621.2 1332.0,621.3 1332.9,621.3 1333.7,621.4 1334.5,621.4 1335.4,621.5 1336.2,621.6 1337.1,621.6 1337.9,621.7 1338.7,621.7 1339.6,621.8 1340.4,621.9 1341.2,621.9 1342.1,622.0 1342.9,622.0 1343.7,622.1 1344.6,622.2 1345.4,622.2 1346.2,622.3 1347.1,622.3 1347.9,622.4 1348.7,622.5 1349.6,622.5 1350.4,622.6 1351.3,622.6 1352.1,622.7 1352.9,622.8 1353.8,622.8 1354.6,622.9 1355.4,622.9 1356.3,623.0 1357.1,623.1 1357.9,623.1 1358.8,623.2 1359.6,623.3 1360.4,623.3 1361.3,623.4 1362.1,623.4 1362.9,623.5 1363.8,623.6 1364.6,623.6 1365.5,623.7 1366.3,623.7 1367.1,623.8 1368.0,623.9 1368.8,623.9 1369.6,624.0 1370.5,624.0 1371.3,624.1 1372.1,624.2 1373.0,624.2 1373.8,624.3 1374.6,624.4 1375.5,624.4 1376.3,624.5 1377.1,624.5 1378.0,624.6 1378.8,624.7 1379.7,624.7 1380.5,624.8 1381.3,624.8 1382.2,624.9 1383.0,625.0 1383.8,625.0 1384.7,625.1 1385.5,625.2 1386.3,625.2 1387.2,625.3 1388.0,625.3 1388.8,625.4 1389.7,625.5 1390.5,625.5 1391.3,625.6 1392.2,625.6 1393.0,625.7 1393.9,625.8 1394.7,625.8 1395.5,625.9 1396.4,626.0 1397.2,626.0 1398.0,626.1 1398.9,626.1 1399.7,626.2 1400.5,626.3 1401.4,626.3 1402.2,626.4 1403.0,626.5 1403.9,626.5 1404.7,626.6 1405.5,626.6 1406.4,626.7 1407.2,626.8 1408.1,626.8 1408.9,626.9 1409.7,627.0 1410.6,627.0 1411.4,627.1 1412.2,627.1 1413.1,627.2 1413.9,627.3 1414.7,627.3 1415.6,627.4 1416.4,627.4 1417.2,627.5 1418.1,627.6 1418.9,627.6 1419.7,627.7 1420.6,627.8 1421.4,627.8 1422.3,627.9 1423.1,627.9 1423.9,628.0 1424.8,628.1 1425.6,628.1 1426.4,628.2 1427.3,628.3 1428.1,628.3 1428.9,628.4 1429.8,628.4 1430.6,628.5 1431.4,628.6 1432.3,628.6 1433.1,628.7 1433.9,628.8 1434.8,628.8 1435.6,628.9 1436.4,628.9 1437.3,629.0 1438.1,629.1 1439.0,629.1 1439.8,629.2 1440.6,629.3 1441.5,629.3 1442.3,629.4 1443.1,629.4 1444.0,629.5 1444.8,629.6 1445.6,629.6 1446.5,629.7 1447.3,629.8 1448.1,629.8 1449.0,629.9 1449.8,629.9 1450.6,630.0 1451.5,630.1 1452.3,630.1 1453.2,630.2 1454.0,630.3 1454.8,630.3 1455.7,630.4 1456.5,630.4 1457.3,630.5 1458.2,630.6 1459.0,630.6 1459.8,630.7 1460.7,630.8 1461.5,630.8 1462.3,630.9 1463.2,630.9 1464.0,631.0 1464.8,631.1 1465.7,631.1 1466.5,631.2 1467.4,631.2 1468.2,631.3 1469.0,631.4 1469.9,631.4 1470.7,631.5 1471.5,631.6 1472.4,631.6 1473.2,631.7 1474.0,631.7 1474.9,631.8 1475.7,631.9 1476.5,631.9 1477.4,632.0 1478.2,632.1 1479.0,632.1 1479.9,632.2 1480.7,632.2 1481.6,632.3 1482.4,632.4 1483.2,632.4 1484.1,632.5 1484.9,632.6 1485.7,632.6 1486.6,632.7 1487.4,632.7 1488.2,632.8 1489.1,632.9 1489.9,632.9 1490.7,633.0 1491.6,633.0 1492.4,633.1 1493.2,633.2 1494.1,633.2 1494.9,633.3 1495.8,633.4 1496.6,633.4 1497.4,633.5 1498.3,633.5 1499.1,633.6 1499.9,633.7 1500.8,633.7 1501.6,633.8 1502.4,633.8 1503.3,633.9 1504.1,634.0 1504.9,634.0 1505.8,634.1 1506.6,634.2 1507.4,634.2 1508.3,634.3 1509.1,634.3 1510.0,634.4 1510.8,634.5 1511.6,634.5 1512.5,634.6 1513.3,634.6 1514.1,634.7 1515.0,634.8 1515.8,634.8 1516.6,634.9 1517.5,634.9 1518.3,635.0 1519.1,635.1 1520.0,635.1 1520.8,635.2 1521.6,635.3 1522.5,635.3 1523.3,635.4 1524.2,635.4 1525.0,635.5 1525.8,635.6 1526.7,635.6 1527.5,635.7 1528.3,635.7 1529.2,635.8 1530.0,635.9 1530.8,635.9 1531.7,636.0 1532.5,636.0 1533.3,636.1 1534.2,636.2 1535.0,636.2 1535.8,636.3 1536.7,636.3 1537.5,636.4 1538.4,636.5 1539.2,636.5 1540.0,636.6 1540.9,636.6 1541.7,636.7 1542.5,636.8 1543.4,636.8 1544.2,636.9 1545.0,636.9 1545.9,637.0 1546.7,637.1 1547.5,637.1 1548.4,637.2 1549.2,637.2 1550.0,637.3 1550.9,637.4 1551.7,637.4 1552.6,637.5 1553.4,637.5 1554.2,637.6 1555.1,637.7 1555.9,637.7 1556.7,637.8 1557.6,637.8 1558.4,637.9 1559.2,638.0 1560.1,638.0 1560.9,638.1 1561.7,638.1 1562.6,638.2 1563.4,638.2 1564.2,638.3 1565.1,638.4 1565.9,638.4 1566.8,638.5 1567.6,638.5 1568.4,638.6 1569.3,638.7 1570.1,638.7 1570.9,638.8 1571.8,638.8 1572.6,638.9 1573.4,638.9 1574.3,639.0 1575.1,639.1 1575.9,639.1 1576.8,639.2 1577.6,639.2 1578.4,639.3 1579.3,639.4 1580.1,639.4 1581.0,639.5 1581.8,639.5 1582.6,639.6 1583.5,639.6 1584.3,639.7 1585.1,639.8 1586.0,639.8 1586.8,639.9 1587.6,639.9 1588.5,640.0 1589.3,640.0 1590.1,640.1 1591.0,640.2 1591.8,640.2 1592.6,640.3 1593.5,640.3 1594.3,640.4 1595.2,640.4 1596.0,640.5 1596.8,640.6 1597.7,640.6 1598.5,640.7 1599.3,640.7 1600.2,640.8 1601.0,640.8 1601.8,640.9 1602.7,641.0 1603.5,641.0 1604.3,641.1 1605.2,641.1 1606.0,641.2 1606.8,641.2 1607.7,641.3 1608.5,641.4 1609.4,641.4 1610.2,641.5 1611.0,641.5 1611.9,641.6 1612.7,641.6 1613.5,641.7 1614.4,641.7 1615.2,641.8 1616.0,641.9 1616.9,641.9 1617.7,642.0 1618.5,642.0 1619.4,642.1 1620.2,642.1 1621.0,642.2 1621.9,642.2 1622.7,642.3 1623.6,642.3 1624.4,642.4 1625.2,642.5 1626.1,642.5 1626.9,642.6 1627.7,642.6 1628.6,642.7 1629.4,642.7 1630.2,642.8 1631.1,642.8 1631.9,642.9 1632.7,642.9 1633.6,643.0 1634.4,643.1 1635.2,643.1 1636.1,643.2 1636.9,643.2 1637.7,643.3 1638.6,643.3 1639.4,643.4 1640.3,643.4 1641.1,643.5 1641.9,643.5 1642.8,643.6 1643.6,643.6 1644.4,643.7 1645.3,643.7 1646.1,643.8 1646.9,643.9 1647.8,643.9 1648.6,644.0 1649.4,644.0 1650.3,644.1 1651.1,644.1 1651.9,644.2 1652.8,644.2 1653.6,644.3 1654.5,644.3 1655.3,644.4 1656.1,644.4 1657.0,644.5 1657.8,644.5 1658.6,644.6 1659.5,644.6 1660.3,644.7 1661.1,644.7 1662.0,644.8 1662.8,644.8 1663.6,644.9 1664.5,644.9 1665.3,645.0 1666.1,645.0 1667.0,645.1 1667.8,645.1 1668.7,645.2 1669.5,645.3 1670.3,645.3 1671.2,645.4 1672.0,645.4 1672.8,645.5 1673.7,645.5 1674.5,645.6 1675.3,645.6 1676.2,645.7 1677.0,645.7 1677.8,645.8 1678.4,645.8" fill="none" stroke="rgb(128,140,204)" stroke-opacity="0.7" stroke-width="3.6" stroke-linejoin="round"/>
<rect x="1004.5" y="30.4" width="709.2" height="860.6" fill="none" stroke="#555555" stroke-width="1.3"/>
<line x1="999.4" y1="852.4" x2="1004.5" y2="852.4" stroke="#111111" stroke-width="1.5"/>
<text transform="translate(995.6 859.6) scale(1 1.04)" font-size="20" fill="#2a2a2a" text-anchor="end" >0</text>
<line x1="999.4" y1="610.9" x2="1004.5" y2="610.9" stroke="#111111" stroke-width="1.5"/>
<text transform="translate(995.6 618.1) scale(1 1.04)" font-size="20" fill="#2a2a2a" text-anchor="end" >1</text>
<line x1="999.4" y1="369.4" x2="1004.5" y2="369.4" stroke="#111111" stroke-width="1.5"/>
<text transform="translate(995.6 376.59999999999997) scale(1 1.04)" font-size="20" fill="#2a2a2a" text-anchor="end" >2</text>
<line x1="999.4" y1="127.9" x2="1004.5" y2="127.9" stroke="#111111" stroke-width="1.5"/>
<text transform="translate(995.6 135.09999999999997) scale(1 1.04)" font-size="20" fill="#2a2a2a" text-anchor="end" >3</text>
<line x1="1033.6" y1="891" x2="1033.6" y2="896" stroke="#111111" stroke-width="1.5"/>
<text transform="translate(1033.6 914) scale(1 1.04)" font-size="20" fill="#2a2a2a" text-anchor="middle" >0</text>
<line x1="1281.8" y1="891" x2="1281.8" y2="896" stroke="#111111" stroke-width="1.5"/>
<text transform="translate(1281.8 914) scale(1 1.04)" font-size="20" fill="#2a2a2a" text-anchor="middle" >5</text>
<line x1="1530.0" y1="891" x2="1530.0" y2="896" stroke="#111111" stroke-width="1.5"/>
<text transform="translate(1530.0 914) scale(1 1.04)" font-size="20" fill="#2a2a2a" text-anchor="middle" >10</text>
<line x1="1713.7" y1="891.0" x2="1718.8" y2="891.0" stroke="#111111" stroke-width="1.5"/>
<text transform="translate(1722 898.2) scale(1 1.04)" font-size="20" fill="#2a2a2a" text-anchor="start" >0.00</text>
<line x1="1713.7" y1="675.9" x2="1718.8" y2="675.9" stroke="#111111" stroke-width="1.5"/>
<text transform="translate(1722 683.0500000000001) scale(1 1.04)" font-size="20" fill="#2a2a2a" text-anchor="start" >0.25</text>
<line x1="1713.7" y1="460.7" x2="1718.8" y2="460.7" stroke="#111111" stroke-width="1.5"/>
<text transform="translate(1722 467.9) scale(1 1.04)" font-size="20" fill="#2a2a2a" text-anchor="start" >0.50</text>
<line x1="1713.7" y1="245.5" x2="1718.8" y2="245.5" stroke="#111111" stroke-width="1.5"/>
<text transform="translate(1722 252.74999999999994) scale(1 1.04)" font-size="20" fill="#2a2a2a" text-anchor="start" >0.75</text>
<line x1="1713.7" y1="30.4" x2="1718.8" y2="30.4" stroke="#111111" stroke-width="1.5"/>
<text transform="translate(1722 37.59999999999998) scale(1 1.04)" font-size="20" fill="#2a2a2a" text-anchor="start" >1.00</text>
<text transform="translate(952.2 34.3) scale(1 1.04)" font-size="42" fill="#000" text-anchor="start" font-weight="bold">B</text>
<text transform="translate(1004.2 17.0) scale(1 1.04)" font-size="22" fill="#000" text-anchor="start" >sACR and mortality HR</text>
<text transform="translate(1359.1 937.2) scale(1 1.04)" font-size="20" fill="#000" text-anchor="middle" >serum Albumin Creatinine Ratio</text>
<text transform="translate(977.1 460.5) rotate(-90) scale(1 1.04)" font-size="20" fill="#000" text-anchor="middle" >All-cause Mortality HR (95%CI)</text>
<text transform="translate(1770.3 461.4) rotate(90) scale(1 1.04)" font-size="20" fill="#000" text-anchor="middle" >Density</text>
<text transform="translate(1810.8 433.7) scale(1 1.04)" font-size="18.5" fill="#000" text-anchor="start" >group</text>
<rect x="1812.6" y="445.8" width="26.6" height="26.6" fill="#ff6666" stroke="#ff6464" stroke-width="1.2"/>
<rect x="1812.6" y="474.9" width="26.6" height="26.6" fill="#6c93d2" stroke="#ff6464" stroke-width="1.2"/>
<text transform="translate(1849.1 464.1) scale(1 1.04)" font-size="14.5" fill="#000" text-anchor="start" >female</text>
<text transform="translate(1848.6 492.3) scale(1 1.04)" font-size="14.5" fill="#000" text-anchor="start" >male</text>
</svg>
</body></html>
